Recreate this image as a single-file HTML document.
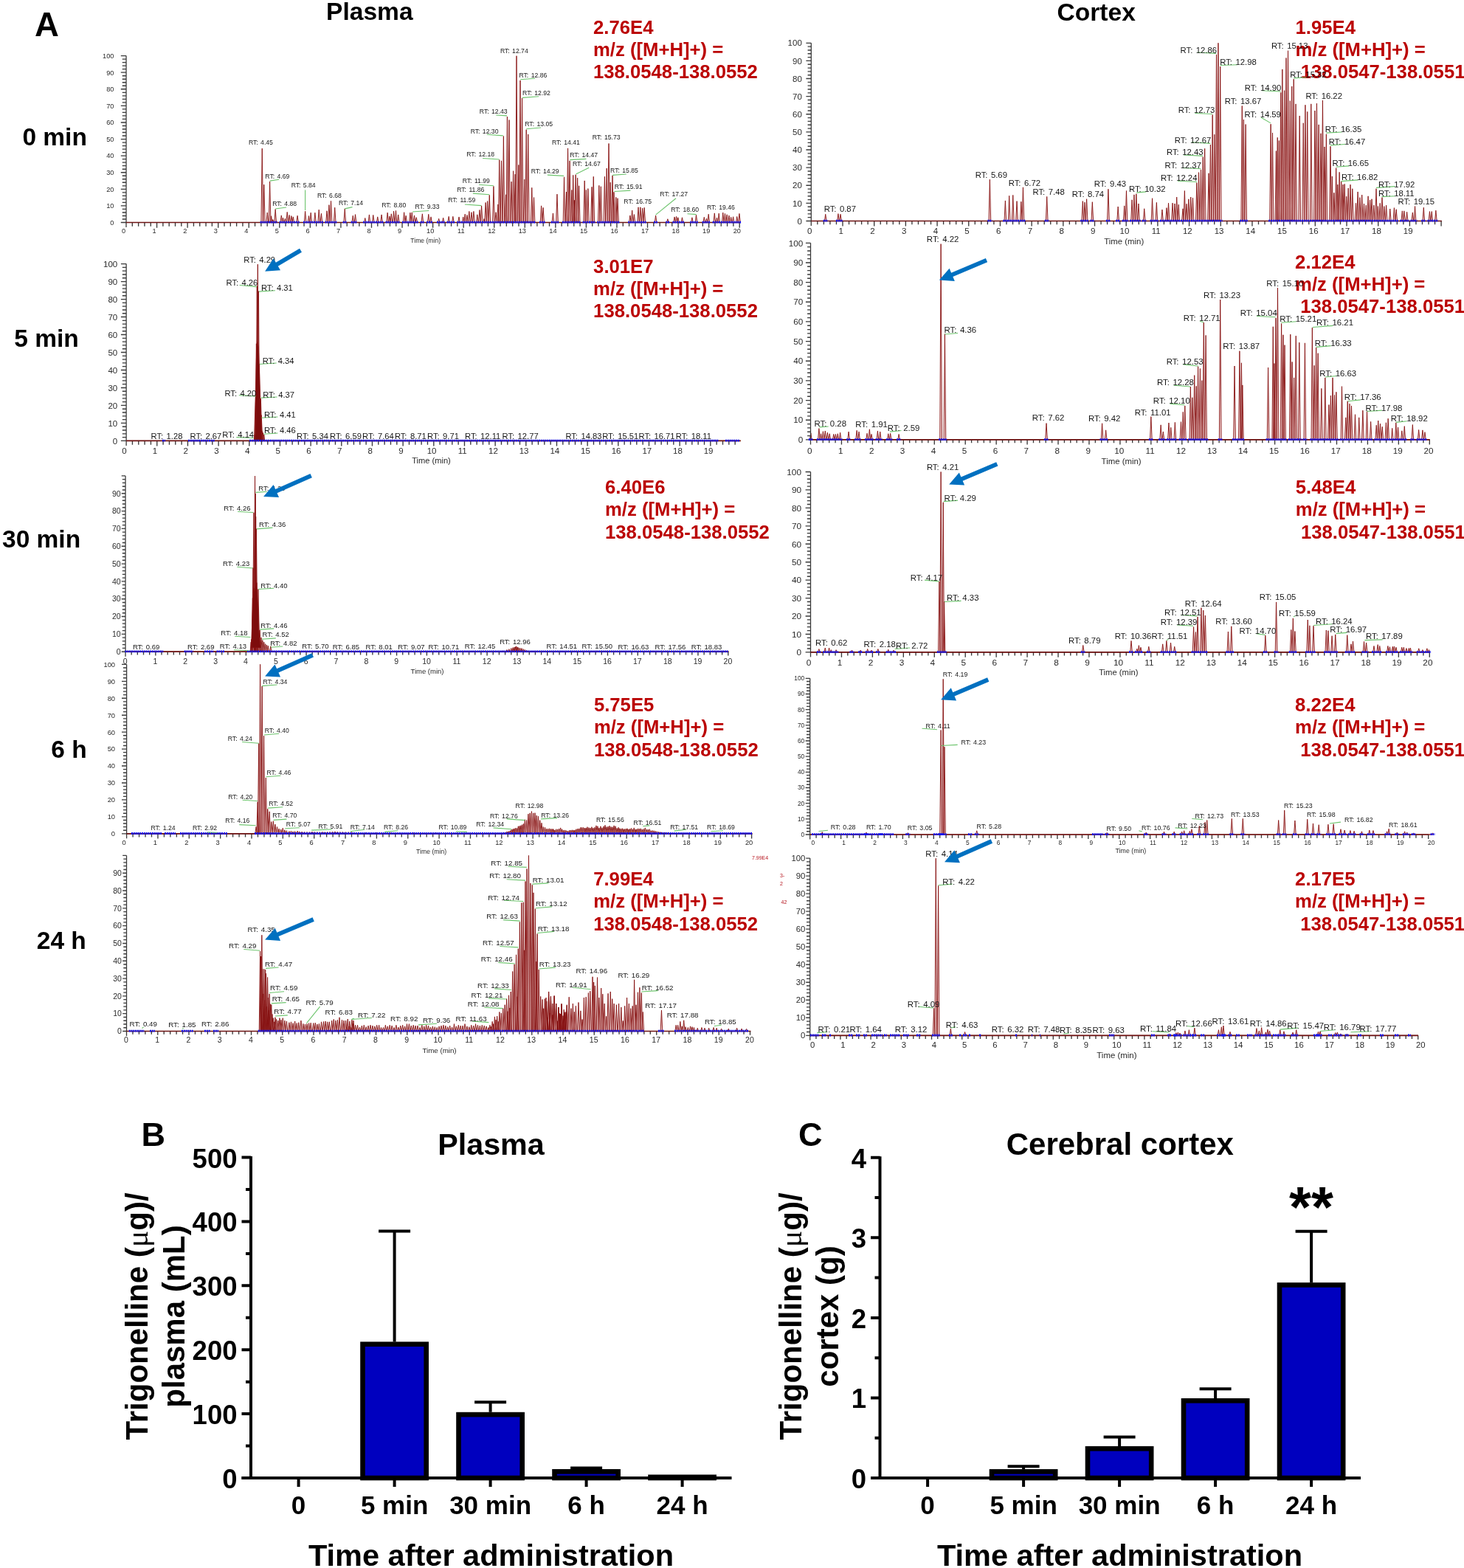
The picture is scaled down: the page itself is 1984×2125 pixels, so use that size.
<!DOCTYPE html><html><head><meta charset="utf-8"><title>Trigonelline chromatograms</title>
<style>html,body{margin:0;padding:0;background:#fff;}svg{display:block;}</style></head><body>
<svg xmlns="http://www.w3.org/2000/svg" width="1984" height="2125" viewBox="0 0 1984 2125">
<rect width="1984" height="2125" fill="#fff"/>
<g font-family="'Liberation Sans', Arial, sans-serif" font-weight="bold" fill="#000">
<text x="47" y="49.2" font-size="45.5">A</text>
<text x="442" y="27" font-size="33.6">Plasma</text>
<text x="1432.5" y="27.6" font-size="33.6">Cortex</text>
<text x="30.4" y="197.1" font-size="33.5">0 min</text>
<text x="19.2" y="469.6" font-size="33.5">5 min</text>
<text x="3" y="741.8" font-size="33.5">30 min</text>
<text x="69.2" y="1027.1" font-size="33.5">6 h</text>
<text x="49.8" y="1285.5" font-size="33.5">24 h</text>
</g>
<g font-family="'Liberation Sans', Arial, sans-serif" font-weight="bold" fill="#bb0303" font-size="25.7">
<text x="804" y="45.9">2.76E4</text>
<text x="804" y="76.1">m/z ([M+H]+) =</text>
<text x="804" y="106.3">138.0548-138.0552</text>
<text x="804.1" y="370">3.01E7</text>
<text x="804.1" y="400.2">m/z ([M+H]+) =</text>
<text x="804.1" y="430.4">138.0548-138.0552</text>
<text x="820" y="669.2">6.40E6</text>
<text x="820" y="699.4">m/z ([M+H]+) =</text>
<text x="820" y="729.6">138.0548-138.0552</text>
<text x="804.9" y="964.1">5.75E5</text>
<text x="804.9" y="994.3">m/z ([M+H]+) =</text>
<text x="804.9" y="1024.5">138.0548-138.0552</text>
<text x="804.2" y="1200.1">7.99E4</text>
<text x="804.2" y="1230.3">m/z ([M+H]+) =</text>
<text x="804.2" y="1260.5">138.0548-138.0552</text>
<text x="1755.5" y="45.6">1.95E4</text>
<text x="1755.5" y="75.8">m/z ([M+H]+) =</text>
<text x="1755.5" y="106"> 138.0547-138.0551</text>
<text x="1755.1" y="363.5">2.12E4</text>
<text x="1755.1" y="393.7">m/z ([M+H]+) =</text>
<text x="1755.1" y="423.9"> 138.0547-138.0551</text>
<text x="1755.8" y="669.2">5.48E4</text>
<text x="1755.8" y="699.4">m/z ([M+H]+) =</text>
<text x="1755.8" y="729.6"> 138.0547-138.0551</text>
<text x="1755.1" y="964.2">8.22E4</text>
<text x="1755.1" y="994.4">m/z ([M+H]+) =</text>
<text x="1755.1" y="1024.6"> 138.0547-138.0551</text>
<text x="1755.1" y="1200.2">2.17E5</text>
<text x="1755.1" y="1230.4">m/z ([M+H]+) =</text>
<text x="1755.1" y="1260.6"> 138.0547-138.0551</text>
</g>
<g font-family="'Liberation Sans', Arial, sans-serif" fill="#b5121b" font-size="7"><text x="1019" y="1164.5">7.99E4</text><text x="1057" y="1189">3-</text><text x="1057" y="1200">2</text><text x="1058.5" y="1225">42</text></g>
<path d="M171 301.5 L353.91 301.5 L355.26 201.16 L356.61 301.5 L356.43 301.5 L357.78 250.19 L359.13 301.5 L360.91 301.5 L362.26 288.02 L363.61 301.5 L364.27 301.5 L365.62 245.99 L366.97 301.5 L366.24 301.5 L367.59 292.78 L368.94 301.5 L368.48 301.5 L369.83 297.54 L371.18 301.5 L371.84 301.5 L373.19 283.53 L374.54 301.5 L379.94 301.5 L381.29 291.92 L382.64 301.5 L382.21 301.5 L383.56 295.15 L384.91 301.5 L385.12 301.5 L386.47 296.28 L387.82 301.5 L387.86 301.5 L389.21 287.39 L390.56 301.5 L390.77 301.5 L392.12 291.43 L393.47 301.5 L393.52 301.5 L394.87 292.56 L396.22 301.5 L395.95 301.5 L397.3 293.86 L398.65 301.5 L401.76 301.5 L403.11 292.24 L404.46 301.5 L412.27 301.5 L413.62 286.26 L414.97 301.5 L417.12 301.5 L418.47 292.56 L419.82 301.5 L419.87 301.5 L421.22 288.2 L422.57 301.5 L425.52 301.5 L426.88 288.2 L428.23 301.5 L430.86 301.5 L432.21 284.16 L433.56 301.5 L434.09 301.5 L435.44 289.33 L436.79 301.5 L441.69 301.5 L443.04 285.78 L444.39 301.5 L444.6 301.5 L445.95 277.69 L447.3 301.5 L447.18 301.5 L448.53 272.36 L449.88 301.5 L452.36 301.5 L453.71 281.25 L455.06 301.5 L465.93 301.5 L467.28 282.87 L468.63 301.5 L476.93 301.5 L478.28 292.24 L479.63 301.5 L480.16 301.5 L481.51 290.62 L482.86 301.5 L493.41 301.5 L494.76 295.47 L496.11 301.5 L499.07 301.5 L500.42 290.95 L501.77 301.5 L504.4 301.5 L505.75 291.43 L507.1 301.5 L510.38 301.5 L511.73 293.86 L513.08 301.5 L515.72 301.5 L517.07 290.95 L518.42 301.5 L523.8 301.5 L525.15 288.2 L526.5 301.5 L526.55 301.5 L527.9 293.05 L529.25 301.5 L528.97 301.5 L530.32 289.82 L531.67 301.5 L532.21 301.5 L533.56 286.1 L534.91 301.5 L535.12 301.5 L536.47 285.45 L537.82 301.5 L538.35 301.5 L539.7 290.95 L541.05 301.5 L546.27 301.5 L547.62 287.72 L548.97 301.5 L548.85 301.5 L550.2 292.24 L551.55 301.5 L554.51 301.5 L555.86 288.2 L557.21 301.5 L556.94 301.5 L558.29 287.88 L559.64 301.5 L560.17 301.5 L561.52 291.92 L562.87 301.5 L562.92 301.5 L564.27 294.67 L565.62 301.5 L571 301.5 L572.35 289.82 L573.7 301.5 L579.4 301.5 L580.75 290.3 L582.1 301.5 L582.64 301.5 L583.99 293.86 L585.34 301.5 L593.31 301.5 L594.66 296.28 L596.01 301.5 L599.28 301.5 L600.63 295.22 L601.98 301.5 L606.83 301.5 L608.18 293.33 L609.53 301.5 L612.49 301.5 L613.84 293.33 L615.19 301.5 L620.66 301.5 L622.01 293.96 L623.36 301.5 L626.32 301.5 L627.67 293.96 L629.02 301.5 L628.84 301.5 L630.19 290.19 L631.54 301.5 L631.61 301.5 L632.96 291.45 L634.31 301.5 L634.5 301.5 L635.85 286.42 L637.2 301.5 L637.64 301.5 L638.99 287.67 L640.34 301.5 L640.54 301.5 L641.89 286.42 L643.24 301.5 L645.44 301.5 L646.79 290.82 L648.14 301.5 L648.59 301.5 L649.94 284.53 L651.29 301.5 L651.23 301.5 L652.58 278.87 L653.93 301.5 L654.62 301.5 L655.97 296.48 L657.32 301.5 L656.76 301.5 L658.11 274.47 L659.46 301.5 L659.28 301.5 L660.63 272.58 L661.98 301.5 L661.92 301.5 L663.27 264.4 L664.62 301.5 L667.58 301.5 L668.93 252.45 L670.28 301.5 L670.73 301.5 L672.08 287.67 L673.43 301.5 L673.62 301.5 L674.97 276.98 L676.32 301.5 L675.38 301.5 L676.73 216.6 L678.08 301.5 L678.15 301.5 L679.5 217.86 L680.85 301.5 L681.04 301.5 L682.39 184.53 L683.74 301.5 L684.18 301.5 L685.53 263.77 L686.88 301.5 L686.07 301.5 L687.42 158.11 L688.77 301.5 L688.59 301.5 L689.94 162.52 L691.29 301.5 L691.73 301.5 L693.08 246.16 L694.43 301.5 L694.25 301.5 L695.6 231.7 L696.95 301.5 L696.76 301.5 L698.11 236.1 L699.46 301.5 L698.65 301.5 L700 75.72 L701.35 301.5 L701.54 301.5 L702.89 223.52 L704.24 301.5 L703.68 301.5 L705.03 109.06 L706.38 301.5 L706.2 301.5 L707.55 132.96 L708.9 301.5 L709.34 301.5 L710.69 243.02 L712.04 301.5 L711.86 301.5 L713.21 175.72 L714.56 301.5 L714.37 301.5 L715.72 182.01 L717.07 301.5 L719.4 301.5 L720.75 254.34 L722.1 301.5 L722.17 301.5 L723.52 267.55 L724.87 301.5 L732.23 301.5 L733.58 278.87 L734.93 301.5 L734.75 301.5 L736.1 281.38 L737.45 301.5 L748.08 301.5 L749.43 288.93 L750.78 301.5 L753.62 301.5 L754.97 263.14 L756.32 301.5 L763.18 301.5 L764.53 239.87 L765.88 301.5 L766.2 301.5 L767.55 260 L768.9 301.5 L768.21 301.5 L769.56 200.88 L770.91 301.5 L770.73 301.5 L772.08 217.86 L773.43 301.5 L773.49 301.5 L774.84 257.48 L776.19 301.5 L775.38 301.5 L776.73 237.36 L778.08 301.5 L777.01 301.5 L778.36 271.32 L779.71 301.5 L778.78 301.5 L780.13 236.73 L781.48 301.5 L781.29 301.5 L782.64 241.13 L783.99 301.5 L783.3 301.5 L784.65 251.82 L786 301.5 L790.85 301.5 L792.2 244.91 L793.55 301.5 L792.99 301.5 L794.34 257.48 L795.69 301.5 L795.51 301.5 L796.86 255.6 L798.21 301.5 L800.68 301.5 L802.03 253.32 L803.38 301.5 L802.92 301.5 L804.27 239.31 L805.62 301.5 L810.48 301.5 L811.83 251.36 L813.18 301.5 L813 301.5 L814.35 252.76 L815.7 301.5 L818.05 301.5 L819.4 239.31 L820.75 301.5 L820.85 301.5 L822.2 228.1 L823.55 301.5 L823.65 301.5 L825 194.48 L826.35 301.5 L825.89 301.5 L827.24 247.16 L828.59 301.5 L828.69 301.5 L830.04 237.91 L831.39 301.5 L830.65 301.5 L832 260.32 L833.35 301.5 L833.46 301.5 L834.81 267.33 L836.16 301.5 L835.7 301.5 L837.05 268.73 L838.4 301.5 L852.51 301.5 L853.86 291.98 L855.21 301.5 L855.31 301.5 L856.66 284.98 L858.01 301.5 L858.11 301.5 L859.46 290.58 L860.81 301.5 L863.71 301.5 L865.06 280.78 L866.41 301.5 L866.52 301.5 L867.87 280.78 L869.22 301.5 L869.32 301.5 L870.67 282.18 L872.02 301.5 L871.84 301.5 L873.19 281.34 L874.54 301.5 L887.25 301.5 L888.6 291.98 L889.95 301.5 L903.5 301.5 L904.85 296.75 L906.2 301.5 L912.74 301.5 L914.09 293.94 L915.44 301.5 L915.27 301.5 L916.62 293.38 L917.97 301.5 L917.51 301.5 L918.86 294.78 L920.21 301.5 L923.11 301.5 L924.46 294.78 L925.81 301.5 L936.56 301.5 L937.91 294.78 L939.26 301.5 L942.15 301.5 L943.5 291.31 L944.85 301.5 L952.93 301.5 L954.28 294.28 L955.63 301.5 L956.16 301.5 L957.51 296.16 L958.86 301.5 L958.85 301.5 L960.2 290.24 L961.55 301.5 L966.94 301.5 L968.29 288.89 L969.64 301.5 L970.17 301.5 L971.52 295.09 L972.87 301.5 L972.86 301.5 L974.21 289.16 L975.56 301.5 L978.41 301.5 L979.76 288.08 L981.11 301.5 L981.11 301.5 L982.46 289.43 L983.81 301.5 L983.8 301.5 L985.15 290.78 L986.5 301.5 L986.6 301.5 L987.95 292.12 L989.3 301.5 L989.3 301.5 L990.65 294.28 L992 301.5 L992.26 301.5 L993.61 293.74 L994.96 301.5 L997.38 301.5 L998.73 293.47 L1000.08 301.5 L1000.61 301.5 L1001.96 289.43 L1003.31 301.5 L1003.8 301.5" fill="#dfa4a4" fill-opacity="0.55" stroke="#861010" stroke-width="0.9" stroke-linejoin="miter" stroke-miterlimit="30"/>
<line x1="171" y1="75.6" x2="171" y2="308" stroke="#3a3a3a" stroke-width="1.3"/>
<path d="M163.8 301.5H171M165.7 296.98H171M165.7 292.46H171M165.7 287.95H171M165.7 283.43H171M163.8 278.91H171M165.7 274.39H171M165.7 269.87H171M165.7 265.36H171M165.7 260.84H171M163.8 256.32H171M165.7 251.8H171M165.7 247.28H171M165.7 242.77H171M165.7 238.25H171M163.8 233.73H171M165.7 229.21H171M165.7 224.69H171M165.7 220.18H171M165.7 215.66H171M163.8 211.14H171M165.7 206.62H171M165.7 202.1H171M165.7 197.59H171M165.7 193.07H171M163.8 188.55H171M165.7 184.03H171M165.7 179.51H171M165.7 175H171M165.7 170.48H171M163.8 165.96H171M165.7 161.44H171M165.7 156.92H171M165.7 152.41H171M165.7 147.89H171M163.8 143.37H171M165.7 138.85H171M165.7 134.33H171M165.7 129.82H171M165.7 125.3H171M163.8 120.78H171M165.7 116.26H171M165.7 111.74H171M165.7 107.23H171M165.7 102.71H171M163.8 98.19H171M165.7 93.67H171M165.7 89.15H171M165.7 84.64H171M165.7 80.12H171M163.8 75.6H171" stroke="#3a3a3a" stroke-width="1.35"/>
<path d="M179.31 301.5V306.8M187.62 301.5V306.8M195.94 301.5V306.8M204.25 301.5V306.8M212.56 301.5V308.7M220.87 301.5V306.8M229.18 301.5V306.8M237.5 301.5V306.8M245.81 301.5V306.8M254.12 301.5V308.7M262.43 301.5V306.8M270.74 301.5V306.8M279.06 301.5V306.8M287.37 301.5V306.8M295.68 301.5V308.7M303.99 301.5V306.8M312.3 301.5V306.8M320.62 301.5V306.8M328.93 301.5V306.8M337.24 301.5V308.7M345.55 301.5V306.8M353.86 301.5V306.8M362.18 301.5V306.8M370.49 301.5V306.8M378.8 301.5V308.7M387.11 301.5V306.8M395.42 301.5V306.8M403.74 301.5V306.8M412.05 301.5V306.8M420.36 301.5V308.7M428.67 301.5V306.8M436.98 301.5V306.8M445.3 301.5V306.8M453.61 301.5V306.8M461.92 301.5V308.7M470.23 301.5V306.8M478.54 301.5V306.8M486.86 301.5V306.8M495.17 301.5V306.8M503.48 301.5V308.7M511.79 301.5V306.8M520.1 301.5V306.8M528.42 301.5V306.8M536.73 301.5V306.8M545.04 301.5V308.7M553.35 301.5V306.8M561.66 301.5V306.8M569.98 301.5V306.8M578.29 301.5V306.8M586.6 301.5V308.7M594.91 301.5V306.8M603.22 301.5V306.8M611.54 301.5V306.8M619.85 301.5V306.8M628.16 301.5V308.7M636.47 301.5V306.8M644.78 301.5V306.8M653.1 301.5V306.8M661.41 301.5V306.8M669.72 301.5V308.7M678.03 301.5V306.8M686.34 301.5V306.8M694.66 301.5V306.8M702.97 301.5V306.8M711.28 301.5V308.7M719.59 301.5V306.8M727.9 301.5V306.8M736.22 301.5V306.8M744.53 301.5V306.8M752.84 301.5V308.7M761.15 301.5V306.8M769.46 301.5V306.8M777.78 301.5V306.8M786.09 301.5V306.8M794.4 301.5V308.7M802.71 301.5V306.8M811.02 301.5V306.8M819.34 301.5V306.8M827.65 301.5V306.8M835.96 301.5V308.7M844.27 301.5V306.8M852.58 301.5V306.8M860.9 301.5V306.8M869.21 301.5V306.8M877.52 301.5V308.7M885.83 301.5V306.8M894.14 301.5V306.8M902.46 301.5V306.8M910.77 301.5V306.8M919.08 301.5V308.7M927.39 301.5V306.8M935.7 301.5V306.8M944.02 301.5V306.8M952.33 301.5V306.8M960.64 301.5V308.7M968.95 301.5V306.8M977.26 301.5V306.8M985.58 301.5V306.8M993.89 301.5V306.8M1002.2 301.5V308.7" stroke="#3a3a3a" stroke-width="1.35"/>
<line x1="171" y1="301.5" x2="1003.8" y2="301.5" stroke="#6e1414" stroke-width="1.7"/>
<line x1="352.66" y1="301.2" x2="375.79" y2="301.2" stroke="#1414f0" stroke-width="2.8" stroke-dasharray="2 0.8"/>
<line x1="378.69" y1="301.2" x2="405.71" y2="301.2" stroke="#1414f0" stroke-width="2.8" stroke-dasharray="2 0.8"/>
<line x1="411.02" y1="301.2" x2="438.04" y2="301.2" stroke="#1414f0" stroke-width="2.8" stroke-dasharray="2 0.8"/>
<line x1="440.44" y1="301.2" x2="456.31" y2="301.2" stroke="#1414f0" stroke-width="2.8" stroke-dasharray="2 0.8"/>
<line x1="464.68" y1="301.2" x2="469.88" y2="301.2" stroke="#1414f0" stroke-width="2.8" stroke-dasharray="2 0.8"/>
<line x1="475.68" y1="301.2" x2="484.11" y2="301.2" stroke="#1414f0" stroke-width="2.8" stroke-dasharray="2 0.8"/>
<line x1="492.16" y1="301.2" x2="519.67" y2="301.2" stroke="#1414f0" stroke-width="2.8" stroke-dasharray="2 0.8"/>
<line x1="522.55" y1="301.2" x2="542.3" y2="301.2" stroke="#1414f0" stroke-width="2.8" stroke-dasharray="2 0.8"/>
<line x1="545.02" y1="301.2" x2="566.87" y2="301.2" stroke="#1414f0" stroke-width="2.8" stroke-dasharray="2 0.8"/>
<line x1="569.75" y1="301.2" x2="574.95" y2="301.2" stroke="#1414f0" stroke-width="2.8" stroke-dasharray="2 0.8"/>
<line x1="578.15" y1="301.2" x2="586.59" y2="301.2" stroke="#1414f0" stroke-width="2.8" stroke-dasharray="2 0.8"/>
<line x1="592.06" y1="301.2" x2="603.23" y2="301.2" stroke="#1414f0" stroke-width="2.8" stroke-dasharray="2 0.8"/>
<line x1="605.58" y1="301.2" x2="616.44" y2="301.2" stroke="#1414f0" stroke-width="2.8" stroke-dasharray="2 0.8"/>
<line x1="619.41" y1="301.2" x2="726.12" y2="301.2" stroke="#1414f0" stroke-width="2.8" stroke-dasharray="2 0.8"/>
<line x1="730.98" y1="301.2" x2="738.7" y2="301.2" stroke="#1414f0" stroke-width="2.8" stroke-dasharray="2 0.8"/>
<line x1="746.83" y1="301.2" x2="757.57" y2="301.2" stroke="#1414f0" stroke-width="2.8" stroke-dasharray="2 0.8"/>
<line x1="761.93" y1="301.2" x2="787.25" y2="301.2" stroke="#1414f0" stroke-width="2.8" stroke-dasharray="2 0.8"/>
<line x1="789.6" y1="301.2" x2="806.87" y2="301.2" stroke="#1414f0" stroke-width="2.8" stroke-dasharray="2 0.8"/>
<line x1="809.23" y1="301.2" x2="839.65" y2="301.2" stroke="#1414f0" stroke-width="2.8" stroke-dasharray="2 0.8"/>
<line x1="851.26" y1="301.2" x2="875.79" y2="301.2" stroke="#1414f0" stroke-width="2.8" stroke-dasharray="2 0.8"/>
<line x1="886" y1="301.2" x2="891.2" y2="301.2" stroke="#1414f0" stroke-width="2.8" stroke-dasharray="2 0.8"/>
<line x1="902.25" y1="301.2" x2="907.45" y2="301.2" stroke="#1414f0" stroke-width="2.8" stroke-dasharray="2 0.8"/>
<line x1="911.49" y1="301.2" x2="927.06" y2="301.2" stroke="#1414f0" stroke-width="2.8" stroke-dasharray="2 0.8"/>
<line x1="935.31" y1="301.2" x2="946.1" y2="301.2" stroke="#1414f0" stroke-width="2.8" stroke-dasharray="2 0.8"/>
<line x1="951.68" y1="301.2" x2="962.8" y2="301.2" stroke="#1414f0" stroke-width="2.8" stroke-dasharray="2 0.8"/>
<line x1="965.69" y1="301.2" x2="1004.56" y2="301.2" stroke="#1414f0" stroke-width="2.8" stroke-dasharray="2 0.8"/>
<g font-family="'Liberation Sans', Arial, sans-serif" font-size="9.2" fill="#2a2a2a"><text x="154.4" y="304.81" text-anchor="end">0</text><text x="154.4" y="282.22" text-anchor="end">10</text><text x="154.4" y="259.63" text-anchor="end">20</text><text x="154.4" y="237.04" text-anchor="end">30</text><text x="154.4" y="214.45" text-anchor="end">40</text><text x="154.4" y="191.86" text-anchor="end">50</text><text x="154.4" y="169.27" text-anchor="end">60</text><text x="154.4" y="146.68" text-anchor="end">70</text><text x="154.4" y="124.09" text-anchor="end">80</text><text x="154.4" y="101.5" text-anchor="end">90</text><text x="154.4" y="78.91" text-anchor="end">100</text><text x="167.6" y="316.4" text-anchor="middle">0</text><text x="209.16" y="316.4" text-anchor="middle">1</text><text x="250.72" y="316.4" text-anchor="middle">2</text><text x="292.28" y="316.4" text-anchor="middle">3</text><text x="333.84" y="316.4" text-anchor="middle">4</text><text x="375.4" y="316.4" text-anchor="middle">5</text><text x="416.96" y="316.4" text-anchor="middle">6</text><text x="458.52" y="316.4" text-anchor="middle">7</text><text x="500.08" y="316.4" text-anchor="middle">8</text><text x="541.64" y="316.4" text-anchor="middle">9</text><text x="583.2" y="316.4" text-anchor="middle">10</text><text x="624.76" y="316.4" text-anchor="middle">11</text><text x="666.32" y="316.4" text-anchor="middle">12</text><text x="707.88" y="316.4" text-anchor="middle">13</text><text x="749.44" y="316.4" text-anchor="middle">14</text><text x="791" y="316.4" text-anchor="middle">15</text><text x="832.56" y="316.4" text-anchor="middle">16</text><text x="874.12" y="316.4" text-anchor="middle">17</text><text x="915.68" y="316.4" text-anchor="middle">18</text><text x="957.24" y="316.4" text-anchor="middle">19</text><text x="998.8" y="316.4" text-anchor="middle">20</text></g>
<text x="576.7" y="328.8" text-anchor="middle" font-family="'Liberation Sans', Arial, sans-serif" font-size="8.6" fill="#2a2a2a">Time (min)</text>
<line x1="365.62" y1="245.15" x2="378.23" y2="243.19" stroke="#6cc46c" stroke-width="1.1"/>
<line x1="373.19" y1="282.97" x2="388.04" y2="281.01" stroke="#6cc46c" stroke-width="1.1"/>
<line x1="413.62" y1="257.49" x2="413.62" y2="284.97" stroke="#6cc46c" stroke-width="1.1"/>
<line x1="467.28" y1="282.87" x2="477.47" y2="280.6" stroke="#6cc46c" stroke-width="1.1"/>
<line x1="559.09" y1="287.07" x2="581.24" y2="285.45" stroke="#6cc46c" stroke-width="1.1"/>
<line x1="705.03" y1="107.8" x2="725.16" y2="106.29" stroke="#6cc46c" stroke-width="1.1"/>
<line x1="707.92" y1="132.33" x2="730.19" y2="130.69" stroke="#6cc46c" stroke-width="1.1"/>
<line x1="672.33" y1="155.97" x2="687.04" y2="156.86" stroke="#6cc46c" stroke-width="1.1"/>
<line x1="659.75" y1="182.26" x2="681.76" y2="183.9" stroke="#6cc46c" stroke-width="1.1"/>
<line x1="713.21" y1="174.72" x2="733.08" y2="172.96" stroke="#6cc46c" stroke-width="1.1"/>
<line x1="654.09" y1="214.47" x2="676.48" y2="215.97" stroke="#6cc46c" stroke-width="1.1"/>
<line x1="772.33" y1="216.6" x2="794.34" y2="215.35" stroke="#6cc46c" stroke-width="1.1"/>
<line x1="780.5" y1="236.1" x2="798.11" y2="227.3" stroke="#6cc46c" stroke-width="1.1"/>
<line x1="741.89" y1="237.11" x2="764.15" y2="238.36" stroke="#6cc46c" stroke-width="1.1"/>
<line x1="649.06" y1="250.19" x2="668.93" y2="251.82" stroke="#6cc46c" stroke-width="1.1"/>
<line x1="640.88" y1="262.14" x2="663.14" y2="263.77" stroke="#6cc46c" stroke-width="1.1"/>
<line x1="629.94" y1="276.98" x2="652.2" y2="278.62" stroke="#6cc46c" stroke-width="1.1"/>
<line x1="830.04" y1="237.35" x2="848.81" y2="235.95" stroke="#6cc46c" stroke-width="1.1"/>
<line x1="832.56" y1="259.48" x2="854.42" y2="258.08" stroke="#6cc46c" stroke-width="1.1"/>
<line x1="888.6" y1="291.14" x2="916.06" y2="268.73" stroke="#6cc46c" stroke-width="1.1"/>
<line x1="931.47" y1="289.74" x2="943.51" y2="290.58" stroke="#6cc46c" stroke-width="1.1"/>
<g font-family="'Liberation Sans', Arial, sans-serif" font-size="8.65" fill="#161616" word-spacing="1.04"><text x="336.92" y="196.12">RT: 4.45</text><text x="359.33" y="241.51">RT: 4.69</text><text x="369.14" y="278.77">RT: 4.88</text><text x="394.66" y="254.26">RT: 5.84</text><text x="429.9" y="267.67">RT: 6.68</text><text x="459" y="278.18">RT: 7.14</text><text x="517.19" y="280.93">RT: 8.80</text><text x="562.44" y="283.35">RT: 9.33</text><text x="607.22" y="274.46">RT: 11.59</text><text x="677.92" y="71.57">RT: 12.74</text><text x="703.46" y="104.65">RT: 12.86</text><text x="708.11" y="128.55">RT: 12.92</text><text x="649.87" y="153.71">RT: 12.43</text><text x="637.67" y="180.5">RT: 12.30</text><text x="711.26" y="170.69">RT: 13.05</text><text x="632.26" y="212.2">RT: 12.18</text><text x="747.99" y="195.85">RT: 14.41</text><text x="772.26" y="212.83">RT: 14.47</text><text x="776.04" y="224.78">RT: 14.67</text><text x="719.81" y="234.84">RT: 14.29</text><text x="626.73" y="248.05">RT: 11.99</text><text x="619.18" y="260">RT: 11.86</text><text x="802.73" y="189.44">RT: 15.73</text><text x="827.11" y="233.71">RT: 15.85</text><text x="832.71" y="255.56">RT: 15.91</text><text x="845.32" y="275.73">RT: 16.75</text><text x="894.35" y="266.49">RT: 17.27</text><text x="909.2" y="286.94">RT: 18.60</text><text x="957.95" y="284.14">RT: 19.46</text></g>
<path d="M171.1 597.4 L344.16 597.4 L345.16 588.99 L346.16 597.4 L344.42 597.4 L346.42 536.16 L348.42 597.4 L345.62 597.4 L347.42 465.72 L349.22 597.4 L347 597.4 L348.3 387.74 L349.6 597.4 L348.31 597.4 L349.31 358.18 L350.31 597.4 L349.14 597.4 L350.44 394.65 L351.74 597.4 L349.65 597.4 L351.45 493.4 L353.25 597.4 L351.53 597.4 L353.33 539.94 L355.13 597.4 L352.71 597.4 L354.21 562.58 L355.71 597.4 L354.02 597.4 L355.22 583.96 L356.42 597.4 L355.48 597.4 L356.48 586.48 L357.48 597.4 L356.74 597.4 L357.74 588.99 L358.74 597.4 L1003.8 597.4" fill="#dfa4a4" fill-opacity="0.55" stroke="#861010" stroke-width="0.9" stroke-linejoin="miter" stroke-miterlimit="30"/>
<path d="M345.79 596.54 L346.16 563.84 L346.67 532.39 L347.17 500.94 L347.67 475.79 L348.68 463.21 L350.19 469.5 L351.19 494.65 L352.2 526.1 L353.21 551.26 L353.96 576.42 L354.59 596.54 Z" fill="#7d0c0c" stroke="#8a1010" stroke-width="0.8" stroke-linejoin="miter" stroke-miterlimit="30"/>
<line x1="171.1" y1="357.6" x2="171.1" y2="603.9" stroke="#3a3a3a" stroke-width="1.3"/>
<path d="M163.9 597.4H171.1M165.8 592.6H171.1M165.8 587.81H171.1M165.8 583.01H171.1M165.8 578.22H171.1M163.9 573.42H171.1M165.8 568.62H171.1M165.8 563.83H171.1M165.8 559.03H171.1M165.8 554.24H171.1M163.9 549.44H171.1M165.8 544.64H171.1M165.8 539.85H171.1M165.8 535.05H171.1M165.8 530.26H171.1M163.9 525.46H171.1M165.8 520.66H171.1M165.8 515.87H171.1M165.8 511.07H171.1M165.8 506.28H171.1M163.9 501.48H171.1M165.8 496.68H171.1M165.8 491.89H171.1M165.8 487.09H171.1M165.8 482.3H171.1M163.9 477.5H171.1M165.8 472.7H171.1M165.8 467.91H171.1M165.8 463.11H171.1M165.8 458.32H171.1M163.9 453.52H171.1M165.8 448.72H171.1M165.8 443.93H171.1M165.8 439.13H171.1M165.8 434.34H171.1M163.9 429.54H171.1M165.8 424.74H171.1M165.8 419.95H171.1M165.8 415.15H171.1M165.8 410.36H171.1M163.9 405.56H171.1M165.8 400.76H171.1M165.8 395.97H171.1M165.8 391.17H171.1M165.8 386.38H171.1M163.9 381.58H171.1M165.8 376.78H171.1M165.8 371.99H171.1M165.8 367.19H171.1M165.8 362.4H171.1M163.9 357.6H171.1" stroke="#3a3a3a" stroke-width="1.35"/>
<path d="M179.43 597.4V602.7M187.77 597.4V602.7M196.1 597.4V602.7M204.44 597.4V602.7M212.77 597.4V604.6M221.1 597.4V602.7M229.44 597.4V602.7M237.77 597.4V602.7M246.11 597.4V602.7M254.44 597.4V604.6M262.77 597.4V602.7M271.11 597.4V602.7M279.44 597.4V602.7M287.78 597.4V602.7M296.11 597.4V604.6M304.44 597.4V602.7M312.78 597.4V602.7M321.11 597.4V602.7M329.45 597.4V602.7M337.78 597.4V604.6M346.11 597.4V602.7M354.45 597.4V602.7M362.78 597.4V602.7M371.12 597.4V602.7M379.45 597.4V604.6M387.78 597.4V602.7M396.12 597.4V602.7M404.45 597.4V602.7M412.79 597.4V602.7M421.12 597.4V604.6M429.45 597.4V602.7M437.79 597.4V602.7M446.12 597.4V602.7M454.46 597.4V602.7M462.79 597.4V604.6M471.12 597.4V602.7M479.46 597.4V602.7M487.79 597.4V602.7M496.13 597.4V602.7M504.46 597.4V604.6M512.79 597.4V602.7M521.13 597.4V602.7M529.46 597.4V602.7M537.8 597.4V602.7M546.13 597.4V604.6M554.46 597.4V602.7M562.8 597.4V602.7M571.13 597.4V602.7M579.47 597.4V602.7M587.8 597.4V604.6M596.13 597.4V602.7M604.47 597.4V602.7M612.8 597.4V602.7M621.14 597.4V602.7M629.47 597.4V604.6M637.8 597.4V602.7M646.14 597.4V602.7M654.47 597.4V602.7M662.81 597.4V602.7M671.14 597.4V604.6M679.47 597.4V602.7M687.81 597.4V602.7M696.14 597.4V602.7M704.48 597.4V602.7M712.81 597.4V604.6M721.14 597.4V602.7M729.48 597.4V602.7M737.81 597.4V602.7M746.15 597.4V602.7M754.48 597.4V604.6M762.81 597.4V602.7M771.15 597.4V602.7M779.48 597.4V602.7M787.82 597.4V602.7M796.15 597.4V604.6M804.48 597.4V602.7M812.82 597.4V602.7M821.15 597.4V602.7M829.49 597.4V602.7M837.82 597.4V604.6M846.15 597.4V602.7M854.49 597.4V602.7M862.82 597.4V602.7M871.16 597.4V602.7M879.49 597.4V604.6M887.82 597.4V602.7M896.16 597.4V602.7M904.49 597.4V602.7M912.83 597.4V602.7M921.16 597.4V604.6M929.49 597.4V602.7M937.83 597.4V602.7M946.16 597.4V602.7M954.5 597.4V602.7M962.83 597.4V604.6M971.16 597.4V602.7M979.5 597.4V602.7M987.83 597.4V602.7M996.17 597.4V602.7" stroke="#3a3a3a" stroke-width="1.35"/>
<line x1="171.1" y1="597.4" x2="1003.8" y2="597.4" stroke="#6e1414" stroke-width="1.7"/>
<line x1="220" y1="597.1" x2="224" y2="597.1" stroke="#1414f0" stroke-width="2.8" stroke-dasharray="2 0.8"/>
<line x1="255" y1="597.1" x2="291" y2="597.1" stroke="#1414f0" stroke-width="2.8" stroke-dasharray="2 0.8"/>
<line x1="338" y1="597.1" x2="974" y2="597.1" stroke="#1414f0" stroke-width="2.8" stroke-dasharray="2 0.8"/>
<line x1="983" y1="597.1" x2="1002" y2="597.1" stroke="#1414f0" stroke-width="2.8" stroke-dasharray="2 0.8"/>
<g font-family="'Liberation Sans', Arial, sans-serif" font-size="11.5" fill="#2a2a2a"><text x="159.2" y="601.54" text-anchor="end">0</text><text x="159.2" y="577.56" text-anchor="end">10</text><text x="159.2" y="553.58" text-anchor="end">20</text><text x="159.2" y="529.6" text-anchor="end">30</text><text x="159.2" y="505.62" text-anchor="end">40</text><text x="159.2" y="481.64" text-anchor="end">50</text><text x="159.2" y="457.66" text-anchor="end">60</text><text x="159.2" y="433.68" text-anchor="end">70</text><text x="159.2" y="409.7" text-anchor="end">80</text><text x="159.2" y="385.72" text-anchor="end">90</text><text x="159.2" y="361.74" text-anchor="end">100</text><text x="168.4" y="615" text-anchor="middle">0</text><text x="210.07" y="615" text-anchor="middle">1</text><text x="251.74" y="615" text-anchor="middle">2</text><text x="293.41" y="615" text-anchor="middle">3</text><text x="335.08" y="615" text-anchor="middle">4</text><text x="376.75" y="615" text-anchor="middle">5</text><text x="418.42" y="615" text-anchor="middle">6</text><text x="460.09" y="615" text-anchor="middle">7</text><text x="501.76" y="615" text-anchor="middle">8</text><text x="543.43" y="615" text-anchor="middle">9</text><text x="585.1" y="615" text-anchor="middle">10</text><text x="626.77" y="615" text-anchor="middle">11</text><text x="668.44" y="615" text-anchor="middle">12</text><text x="710.11" y="615" text-anchor="middle">13</text><text x="751.78" y="615" text-anchor="middle">14</text><text x="793.45" y="615" text-anchor="middle">15</text><text x="835.12" y="615" text-anchor="middle">16</text><text x="876.79" y="615" text-anchor="middle">17</text><text x="918.46" y="615" text-anchor="middle">18</text><text x="960.13" y="615" text-anchor="middle">19</text></g>
<text x="584.5" y="627.5" text-anchor="middle" font-family="'Liberation Sans', Arial, sans-serif" font-size="11.1" fill="#2a2a2a">Time (min)</text>
<line x1="324.66" y1="386.55" x2="347.93" y2="388.62" stroke="#6cc46c" stroke-width="1.1"/>
<line x1="351.03" y1="395.17" x2="372.93" y2="393.79" stroke="#6cc46c" stroke-width="1.1"/>
<line x1="351.72" y1="493.45" x2="374.66" y2="492.07" stroke="#6cc46c" stroke-width="1.1"/>
<line x1="323.79" y1="535.69" x2="346.55" y2="536.9" stroke="#6cc46c" stroke-width="1.1"/>
<line x1="353.97" y1="539.14" x2="375.52" y2="537.93" stroke="#6cc46c" stroke-width="1.1"/>
<line x1="354.48" y1="566.21" x2="376.38" y2="565" stroke="#6cc46c" stroke-width="1.1"/>
<line x1="357.41" y1="588.28" x2="376.38" y2="587.07" stroke="#6cc46c" stroke-width="1.1"/>
<line x1="320.34" y1="592.59" x2="343.62" y2="593.45" stroke="#6cc46c" stroke-width="1.1"/>
<g font-family="'Liberation Sans', Arial, sans-serif" font-size="11.2" fill="#161616" word-spacing="1.34"><text x="330.31" y="356.38">RT: 4.29</text><text x="306.52" y="387.41">RT: 4.26</text><text x="353.93" y="394.31">RT: 4.31</text><text x="355.66" y="493.1">RT: 4.34</text><text x="304.45" y="536.55">RT: 4.20</text><text x="356.17" y="539.14">RT: 4.37</text><text x="357.9" y="565.52">RT: 4.41</text><text x="357.9" y="587.41">RT: 4.46</text><text x="204.6" y="594.8">RT: 1.28</text><text x="257.5" y="594.8">RT: 2.67</text><text x="301.3" y="593.4">RT: 4.14</text><text x="402.1" y="594.8">RT: 5.34</text><text x="447.1" y="594.8">RT: 6.59</text><text x="491" y="594.8">RT: 7.64</text><text x="534.9" y="594.8">RT: 8.71</text><text x="579.1" y="594.8">RT: 9.71</text><text x="630.1" y="594.8">RT: 12.11</text><text x="680.6" y="594.8">RT: 12.77</text><text x="766.4" y="594.8">RT: 14.83</text><text x="816.2" y="594.8">RT: 15.51</text><text x="865.5" y="594.8">RT: 16.71</text><text x="915.8" y="594.8">RT: 18.11</text></g>
<path d="M406.03 336.8 L373.85 355.68 L370.61 350.16 L359.1 367.7 L380.02 366.21 L376.78 360.69 L408.97 341.8 Z" fill="#0070c0"/>
<path d="M170 883.2 L339.13 883.2 L340.13 870.19 L341.13 883.2 L339.55 883.2 L340.75 866.42 L341.95 883.2 L340.89 883.2 L342.39 810.44 L343.89 883.2 L341.22 883.2 L343.02 769.56 L344.82 883.2 L342.4 883.2 L343.9 694.72 L345.4 883.2 L344.53 883.2 L345.53 645.03 L346.53 883.2 L344.96 883.2 L346.16 668.93 L347.36 883.2 L345.17 883.2 L346.67 700.13 L348.17 883.2 L345.82 883.2 L347.42 716.73 L349.02 883.2 L346.32 883.2 L347.92 789.69 L349.52 883.2 L348.14 883.2 L349.94 798.49 L351.74 883.2 L350.58 883.2 L352.08 853.84 L353.58 883.2 L352.66 883.2 L353.96 863.9 L355.26 883.2 L354.65 883.2 L355.85 867.67 L357.05 883.2 L356.54 883.2 L357.74 870.19 L358.94 883.2 L358.42 883.2 L359.62 872.7 L360.82 883.2 L360.31 883.2 L361.51 873.96 L362.71 883.2 L362.2 883.2 L363.4 875.22 L364.6 883.2 L365.59 883.2 L366.79 875.85 L367.99 883.2 L680.31 883.2 L681.31 882.23 L682.31 883.2 L686.03 883.2 L687.03 880.52 L688.03 883.2 L688.88 883.2 L689.88 879.66 L690.88 883.2 L691.74 883.2 L692.74 878.52 L693.74 883.2 L694.02 883.2 L695.02 877.66 L696.02 883.2 L696.02 883.2 L697.02 877.09 L698.02 883.2 L697.45 883.2 L698.45 876.52 L699.45 883.2 L698.88 883.2 L699.88 875.95 L700.88 883.2 L700.3 883.2 L701.3 877.09 L702.3 883.2 L701.73 883.2 L702.73 877.66 L703.73 883.2 L703.73 883.2 L704.73 878.23 L705.73 883.2 L706.02 883.2 L707.02 878.52 L708.02 883.2 L708.3 883.2 L709.3 879.66 L710.3 883.2 L710.3 883.2 L711.3 880.52 L712.3 883.2 L712.3 883.2 L713.3 881.37 L714.3 883.2 L714.58 883.2 L715.58 882.23 L716.58 883.2 L987.5 883.2" fill="#dfa4a4" fill-opacity="0.55" stroke="#861010" stroke-width="0.9" stroke-linejoin="miter" stroke-miterlimit="30"/>
<path d="M340.75 877.74 L341.38 853.84 L342.39 828.68 L343.27 809.81 L344.53 797.23 L345.16 801.01 L346.42 790.94 L347.92 797.23 L349.18 816.1 L350.19 828.68 L350.82 853.84 L352.08 866.42 L353.33 877.74 Z" fill="#7d0c0c" stroke="#8a1010" stroke-width="0.8" stroke-linejoin="miter" stroke-miterlimit="30"/>
<line x1="170" y1="644.9" x2="170" y2="889.7" stroke="#3a3a3a" stroke-width="1.3"/>
<path d="M164.7 883.2H170M165.8 878.43H170M165.8 873.67H170M165.8 868.9H170M165.8 864.14H170M164.7 859.37H170M165.8 854.6H170M165.8 849.84H170M165.8 845.07H170M165.8 840.31H170M164.7 835.54H170M165.8 830.77H170M165.8 826.01H170M165.8 821.24H170M165.8 816.48H170M164.7 811.71H170M165.8 806.94H170M165.8 802.18H170M165.8 797.41H170M165.8 792.65H170M164.7 787.88H170M165.8 783.11H170M165.8 778.35H170M165.8 773.58H170M165.8 768.82H170M164.7 764.05H170M165.8 759.28H170M165.8 754.52H170M165.8 749.75H170M165.8 744.99H170M164.7 740.22H170M165.8 735.45H170M165.8 730.69H170M165.8 725.92H170M165.8 721.16H170M164.7 716.39H170M165.8 711.62H170M165.8 706.86H170M165.8 702.09H170M165.8 697.33H170M164.7 692.56H170M165.8 687.79H170M165.8 683.03H170M165.8 678.26H170M165.8 673.5H170M164.7 668.73H170M165.8 663.96H170M165.8 659.2H170M165.8 654.43H170M165.8 649.67H170M164.7 644.9H170" stroke="#3a3a3a" stroke-width="1.35"/>
<path d="M178.17 883.2V887.4M186.34 883.2V887.4M194.5 883.2V887.4M202.67 883.2V887.4M210.84 883.2V888.5M219.01 883.2V887.4M227.18 883.2V887.4M235.34 883.2V887.4M243.51 883.2V887.4M251.68 883.2V888.5M259.85 883.2V887.4M268.02 883.2V887.4M276.18 883.2V887.4M284.35 883.2V887.4M292.52 883.2V888.5M300.69 883.2V887.4M308.86 883.2V887.4M317.02 883.2V887.4M325.19 883.2V887.4M333.36 883.2V888.5M341.53 883.2V887.4M349.7 883.2V887.4M357.86 883.2V887.4M366.03 883.2V887.4M374.2 883.2V888.5M382.37 883.2V887.4M390.54 883.2V887.4M398.7 883.2V887.4M406.87 883.2V887.4M415.04 883.2V888.5M423.21 883.2V887.4M431.38 883.2V887.4M439.54 883.2V887.4M447.71 883.2V887.4M455.88 883.2V888.5M464.05 883.2V887.4M472.22 883.2V887.4M480.38 883.2V887.4M488.55 883.2V887.4M496.72 883.2V888.5M504.89 883.2V887.4M513.06 883.2V887.4M521.22 883.2V887.4M529.39 883.2V887.4M537.56 883.2V888.5M545.73 883.2V887.4M553.9 883.2V887.4M562.06 883.2V887.4M570.23 883.2V887.4M578.4 883.2V888.5M586.57 883.2V887.4M594.74 883.2V887.4M602.9 883.2V887.4M611.07 883.2V887.4M619.24 883.2V888.5M627.41 883.2V887.4M635.58 883.2V887.4M643.74 883.2V887.4M651.91 883.2V887.4M660.08 883.2V888.5M668.25 883.2V887.4M676.42 883.2V887.4M684.58 883.2V887.4M692.75 883.2V887.4M700.92 883.2V888.5M709.09 883.2V887.4M717.26 883.2V887.4M725.42 883.2V887.4M733.59 883.2V887.4M741.76 883.2V888.5M749.93 883.2V887.4M758.1 883.2V887.4M766.26 883.2V887.4M774.43 883.2V887.4M782.6 883.2V888.5M790.77 883.2V887.4M798.94 883.2V887.4M807.1 883.2V887.4M815.27 883.2V887.4M823.44 883.2V888.5M831.61 883.2V887.4M839.78 883.2V887.4M847.94 883.2V887.4M856.11 883.2V887.4M864.28 883.2V888.5M872.45 883.2V887.4M880.62 883.2V887.4M888.78 883.2V887.4M896.95 883.2V887.4M905.12 883.2V888.5M913.29 883.2V887.4M921.46 883.2V887.4M929.62 883.2V887.4M937.79 883.2V887.4M945.96 883.2V888.5M954.13 883.2V887.4M962.3 883.2V887.4M970.46 883.2V887.4M978.63 883.2V887.4M986.8 883.2V888.5" stroke="#3a3a3a" stroke-width="1.35"/>
<line x1="170" y1="883.2" x2="987.5" y2="883.2" stroke="#6e1414" stroke-width="1.7"/>
<line x1="169.5" y1="882.9" x2="221.2" y2="882.9" stroke="#1414f0" stroke-width="2.8" stroke-dasharray="2 0.8"/>
<line x1="249.7" y1="882.9" x2="261.7" y2="882.9" stroke="#1414f0" stroke-width="2.8" stroke-dasharray="2 0.8"/>
<line x1="277.2" y1="882.9" x2="289.3" y2="882.9" stroke="#1414f0" stroke-width="2.8" stroke-dasharray="2 0.8"/>
<line x1="293.6" y1="882.9" x2="304.8" y2="882.9" stroke="#1414f0" stroke-width="2.8" stroke-dasharray="2 0.8"/>
<line x1="335" y1="882.9" x2="987" y2="882.9" stroke="#1414f0" stroke-width="2.8" stroke-dasharray="2 0.8"/>
<g font-family="'Liberation Sans', Arial, sans-serif" font-size="10.5" fill="#2a2a2a"><text x="163.7" y="886.98" text-anchor="end">0</text><text x="163.7" y="863.15" text-anchor="end">10</text><text x="163.7" y="839.32" text-anchor="end">20</text><text x="163.7" y="815.49" text-anchor="end">30</text><text x="163.7" y="791.66" text-anchor="end">40</text><text x="163.7" y="767.83" text-anchor="end">50</text><text x="163.7" y="744" text-anchor="end">60</text><text x="163.7" y="720.17" text-anchor="end">70</text><text x="163.7" y="696.34" text-anchor="end">80</text><text x="163.7" y="672.51" text-anchor="end">90</text><text x="169.6" y="899.7" text-anchor="middle">0</text><text x="210.44" y="899.7" text-anchor="middle">1</text><text x="251.28" y="899.7" text-anchor="middle">2</text><text x="292.12" y="899.7" text-anchor="middle">3</text><text x="332.96" y="899.7" text-anchor="middle">4</text><text x="373.8" y="899.7" text-anchor="middle">5</text><text x="414.64" y="899.7" text-anchor="middle">6</text><text x="455.48" y="899.7" text-anchor="middle">7</text><text x="496.32" y="899.7" text-anchor="middle">8</text><text x="537.16" y="899.7" text-anchor="middle">9</text><text x="578" y="899.7" text-anchor="middle">10</text><text x="618.84" y="899.7" text-anchor="middle">11</text><text x="659.68" y="899.7" text-anchor="middle">12</text><text x="700.52" y="899.7" text-anchor="middle">13</text><text x="741.36" y="899.7" text-anchor="middle">14</text><text x="782.2" y="899.7" text-anchor="middle">15</text><text x="823.04" y="899.7" text-anchor="middle">16</text><text x="863.88" y="899.7" text-anchor="middle">17</text><text x="904.72" y="899.7" text-anchor="middle">18</text><text x="945.56" y="899.7" text-anchor="middle">19</text><text x="986.4" y="899.7" text-anchor="middle">20</text></g>
<text x="579" y="912.9" text-anchor="middle" font-family="'Liberation Sans', Arial, sans-serif" font-size="9.5" fill="#2a2a2a">Time (min)</text>
<line x1="346.55" y1="667.41" x2="361.72" y2="666.21" stroke="#6cc46c" stroke-width="1.1"/>
<line x1="322.07" y1="693.28" x2="343.1" y2="694.48" stroke="#6cc46c" stroke-width="1.1"/>
<line x1="347.93" y1="716.9" x2="369.48" y2="715.17" stroke="#6cc46c" stroke-width="1.1"/>
<line x1="321.21" y1="768.28" x2="342.41" y2="770" stroke="#6cc46c" stroke-width="1.1"/>
<line x1="350.17" y1="798.45" x2="371.21" y2="797.24" stroke="#6cc46c" stroke-width="1.1"/>
<line x1="352.24" y1="853.1" x2="371.21" y2="851.9" stroke="#6cc46c" stroke-width="1.1"/>
<line x1="318.28" y1="862.24" x2="339.31" y2="863.45" stroke="#6cc46c" stroke-width="1.1"/>
<line x1="354.83" y1="866.21" x2="373.79" y2="864.83" stroke="#6cc46c" stroke-width="1.1"/>
<line x1="366.9" y1="877.24" x2="383.28" y2="876.03" stroke="#6cc46c" stroke-width="1.1"/>
<line x1="316.9" y1="880.69" x2="337.59" y2="881.72" stroke="#6cc46c" stroke-width="1.1"/>
<g font-family="'Liberation Sans', Arial, sans-serif" font-size="9.5" fill="#161616" word-spacing="1.14"><text x="350.27" y="665.17">RT: 4.29</text><text x="303.21" y="692.41">RT: 4.26</text><text x="350.96" y="714.48">RT: 4.36</text><text x="302" y="767.41">RT: 4.23</text><text x="353.21" y="796.72">RT: 4.40</text><text x="353.21" y="851.03">RT: 4.46</text><text x="299.24" y="861.38">RT: 4.18</text><text x="355.45" y="863.45">RT: 4.52</text><text x="366.14" y="874.83">RT: 4.82</text><text x="179.93" y="880">RT: 0.69</text><text x="254.07" y="880">RT: 2.69</text><text x="297.69" y="879.48">RT: 4.13</text><text x="409.24" y="879.48">RT: 5.70</text><text x="450.68" y="879.95">RT: 6.85</text><text x="495.51" y="879.95">RT: 8.01</text><text x="539.2" y="879.95">RT: 9.07</text><text x="580.61" y="879.95">RT: 10.71</text><text x="629.72" y="878.52">RT: 12.45</text><text x="677.13" y="872.81">RT: 12.96</text><text x="740.52" y="879.09">RT: 14.51</text><text x="788.5" y="879.09">RT: 15.50</text><text x="837.61" y="879.95">RT: 16.63</text><text x="887.59" y="879.95">RT: 17.56</text><text x="936.7" y="879.95">RT: 18.83</text></g>
<path d="M420.53 642.05 L373.14 662.88 L370.57 657.02 L357.1 673.1 L378.05 674.05 L375.48 668.19 L422.87 647.35 Z" fill="#0070c0"/>
<path d="M171.6 1129.8 L345.72 1129.8 L347.07 1120.52 L348.42 1129.8 L347.79 1129.8 L349.14 1086.9 L350.49 1129.8 L349.34 1129.8 L350.69 1007.59 L352.04 1129.8 L351.24 1129.8 L352.59 900.34 L353.94 1129.8 L353.82 1129.8 L355.17 930 L356.52 1129.8 L356.24 1129.8 L357.59 997.24 L358.94 1129.8 L358.99 1129.8 L360.34 1054.14 L361.69 1129.8 L361.41 1129.8 L362.76 1096.38 L364.11 1129.8 L363.82 1129.8 L365.17 1099.83 L366.52 1129.8 L366.41 1129.8 L367.76 1113.62 L369.11 1129.8 L368.99 1129.8 L370.34 1112.76 L371.69 1129.8 L371.58 1129.8 L372.93 1117.07 L374.28 1129.8 L374.17 1129.8 L375.52 1120.52 L376.87 1129.8 L376.75 1129.8 L378.1 1123.1 L379.45 1129.8 L379.34 1129.8 L380.69 1123.97 L382.04 1129.8 L381.93 1129.8 L383.28 1122.24 L384.63 1129.8 L384.51 1129.8 L385.86 1124.83 L387.21 1129.8 L387.1 1129.8 L388.45 1125.69 L389.8 1129.8 L390.55 1129.8 L391.9 1126.55 L393.25 1129.8 L393.13 1129.8 L394.48 1126.21 L395.83 1129.8 L395.72 1129.8 L397.07 1126.9 L398.42 1129.8 L398.31 1129.8 L399.66 1126.55 L401.01 1129.8 L401.75 1129.8 L403.1 1126.21 L404.45 1129.8 L404.34 1129.8 L405.69 1126.9 L407.04 1129.8 L407.79 1129.8 L409.14 1127.07 L410.49 1129.8 L411.24 1129.8 L412.59 1127.41 L413.94 1129.8 L414.68 1129.8 L416.03 1127.41 L417.38 1129.8 L418.13 1129.8 L419.48 1127.59 L420.83 1129.8 L421.58 1129.8 L422.93 1127.07 L424.28 1129.8 L425.03 1129.8 L426.38 1127.41 L427.73 1129.8 L428.48 1129.8 L429.83 1127.41 L431.18 1129.8 L431.93 1129.8 L433.28 1127.59 L434.63 1129.8 L435.37 1129.8 L436.72 1127.24 L438.07 1129.8 L438.82 1129.8 L440.17 1127.59 L441.52 1129.8 L442.27 1129.8 L443.62 1127.41 L444.97 1129.8 L445.72 1129.8 L447.07 1127.24 L448.42 1129.8 L449.17 1129.8 L450.52 1127.07 L451.87 1129.8 L452.62 1129.8 L453.97 1126.9 L455.32 1129.8 L456.06 1129.8 L457.41 1127.24 L458.76 1129.8 L459.51 1129.8 L460.86 1127.41 L462.21 1129.8 L462.96 1129.8 L464.31 1127.41 L465.66 1129.8 L467.27 1129.8 L468.62 1127.59 L469.97 1129.8 L470.72 1129.8 L472.07 1127.59 L473.42 1129.8 L475.03 1129.8 L476.38 1127.59 L477.73 1129.8 L478.65 1129.8 L480 1128.3 L481.35 1129.8 L493.65 1129.8 L495 1128.3 L496.35 1129.8 L508.65 1129.8 L510 1128.3 L511.35 1129.8 L528.65 1129.8 L530 1128.3 L531.35 1129.8 L558.65 1129.8 L560 1128.3 L561.35 1129.8 L588.65 1129.8 L590 1128.3 L591.35 1129.8 L618.65 1129.8 L620 1128.3 L621.35 1129.8 L638.65 1129.8 L640 1128.3 L641.35 1129.8 L679.86 1129.8 L681.21 1128.84 L682.56 1129.8 L681.58 1129.8 L682.93 1128.5 L684.28 1129.8 L683.31 1129.8 L684.66 1128.05 L686.01 1129.8 L685.03 1129.8 L686.38 1127.33 L687.73 1129.8 L686.75 1129.8 L688.1 1127 L689.45 1129.8 L688.48 1129.8 L689.83 1126.58 L691.18 1129.8 L690.2 1129.8 L691.55 1125.68 L692.9 1129.8 L691.93 1129.8 L693.28 1124.31 L694.63 1129.8 L693.74 1129.8 L695.09 1123.54 L696.44 1129.8 L695.55 1129.8 L696.9 1122.86 L698.25 1129.8 L697.36 1129.8 L698.71 1122.08 L700.06 1129.8 L699.17 1129.8 L700.52 1122.46 L701.87 1129.8 L700.98 1129.8 L702.33 1119.78 L703.68 1129.8 L702.79 1129.8 L704.14 1119.34 L705.49 1129.8 L704.6 1129.8 L705.95 1118.63 L707.3 1129.8 L706.41 1129.8 L707.76 1117.55 L709.11 1129.8 L708.22 1129.8 L709.57 1116.4 L710.92 1129.8 L710.03 1129.8 L711.38 1110.73 L712.73 1129.8 L712.29 1129.8 L713.64 1111.45 L714.99 1129.8 L714.56 1129.8 L715.91 1103.19 L717.26 1129.8 L716.82 1129.8 L718.17 1101.89 L719.52 1129.8 L719.08 1129.8 L720.43 1099.57 L721.78 1129.8 L721.34 1129.8 L722.69 1101.87 L724.04 1129.8 L723.61 1129.8 L724.96 1101.68 L726.31 1129.8 L725.87 1129.8 L727.22 1105.19 L728.57 1129.8 L728.13 1129.8 L729.48 1106.21 L730.83 1129.8 L730.4 1129.8 L731.75 1111.68 L733.1 1129.8 L732.66 1129.8 L734.01 1115.26 L735.36 1129.8 L734.92 1129.8 L736.27 1120.6 L737.62 1129.8 L737.18 1129.8 L738.53 1121.29 L739.88 1129.8 L739.2 1129.8 L740.55 1123.18 L741.9 1129.8 L741.21 1129.8 L742.56 1123 L743.91 1129.8 L743.22 1129.8 L744.57 1122.8 L745.92 1129.8 L745.03 1129.8 L746.38 1123.44 L747.73 1129.8 L746.84 1129.8 L748.19 1123.4 L749.54 1129.8 L748.65 1129.8 L750 1123.54 L751.35 1129.8 L750.46 1129.8 L751.81 1124.96 L753.16 1129.8 L752.27 1129.8 L753.62 1123.71 L754.97 1129.8 L754.28 1129.8 L755.63 1123.76 L756.98 1129.8 L756.29 1129.8 L757.64 1123.1 L758.99 1129.8 L758.31 1129.8 L759.66 1121.9 L761.01 1129.8 L760.32 1129.8 L761.67 1123.75 L763.02 1129.8 L762.33 1129.8 L763.68 1125.12 L765.03 1129.8 L764.34 1129.8 L765.69 1124.91 L767.04 1129.8 L766.35 1129.8 L767.7 1125.64 L769.05 1129.8 L768.36 1129.8 L769.71 1126.18 L771.06 1129.8 L770.37 1129.8 L771.72 1125.22 L773.07 1129.8 L772.18 1129.8 L773.53 1124.99 L774.88 1129.8 L773.99 1129.8 L775.34 1124.79 L776.69 1129.8 L775.81 1129.8 L777.16 1124.93 L778.51 1129.8 L777.62 1129.8 L778.97 1125.02 L780.32 1129.8 L779.43 1129.8 L780.78 1123.71 L782.13 1129.8 L781.44 1129.8 L782.79 1123.06 L784.14 1129.8 L783.45 1129.8 L784.8 1122.92 L786.15 1129.8 L785.46 1129.8 L786.81 1121.29 L788.16 1129.8 L787.27 1129.8 L788.62 1121.43 L789.97 1129.8 L789.08 1129.8 L790.43 1121.38 L791.78 1129.8 L790.89 1129.8 L792.24 1122.02 L793.59 1129.8 L792.7 1129.8 L794.05 1122.13 L795.4 1129.8 L794.51 1129.8 L795.86 1120.69 L797.21 1129.8 L796.52 1129.8 L797.87 1121.6 L799.22 1129.8 L798.54 1129.8 L799.89 1121.99 L801.24 1129.8 L800.55 1129.8 L801.9 1120.69 L803.25 1129.8 L802.56 1129.8 L803.91 1122.12 L805.26 1129.8 L804.57 1129.8 L805.92 1121.28 L807.27 1129.8 L806.58 1129.8 L807.93 1118.88 L809.28 1129.8 L808.59 1129.8 L809.94 1119.68 L811.29 1129.8 L810.6 1129.8 L811.95 1121.95 L813.3 1129.8 L812.62 1129.8 L813.97 1119.78 L815.32 1129.8 L814.63 1129.8 L815.98 1121.79 L817.33 1129.8 L816.64 1129.8 L817.99 1119.81 L819.34 1129.8 L818.65 1129.8 L820 1118.28 L821.35 1129.8 L820.66 1129.8 L822.01 1120.6 L823.36 1129.8 L822.67 1129.8 L824.02 1120.15 L825.37 1129.8 L824.68 1129.8 L826.03 1119.18 L827.38 1129.8 L826.7 1129.8 L828.05 1120.5 L829.4 1129.8 L828.71 1129.8 L830.06 1120.76 L831.41 1129.8 L830.72 1129.8 L832.07 1118.88 L833.42 1129.8 L832.73 1129.8 L834.08 1119.69 L835.43 1129.8 L834.74 1129.8 L836.09 1122.36 L837.44 1129.8 L836.75 1129.8 L838.1 1121.29 L839.45 1129.8 L838.48 1129.8 L839.83 1122.73 L841.18 1129.8 L840.2 1129.8 L841.55 1123.33 L842.9 1129.8 L841.93 1129.8 L843.28 1122.66 L844.63 1129.8 L843.65 1129.8 L845 1123.54 L846.35 1129.8 L845.37 1129.8 L846.72 1123.57 L848.07 1129.8 L847.1 1129.8 L848.45 1123.04 L849.8 1129.8 L848.82 1129.8 L850.17 1122.8 L851.52 1129.8 L850.63 1129.8 L851.98 1123.84 L853.33 1129.8 L852.44 1129.8 L853.79 1123.25 L855.14 1129.8 L854.25 1129.8 L855.6 1122.44 L856.95 1129.8 L856.06 1129.8 L857.41 1123.81 L858.76 1129.8 L857.87 1129.8 L859.22 1121.9 L860.57 1129.8 L859.68 1129.8 L861.03 1123.89 L862.38 1129.8 L861.49 1129.8 L862.84 1123.71 L864.19 1129.8 L863.31 1129.8 L864.66 1122.87 L866.01 1129.8 L865.12 1129.8 L866.47 1123.31 L867.82 1129.8 L866.93 1129.8 L868.28 1122.8 L869.63 1129.8 L868.94 1129.8 L870.29 1123.89 L871.64 1129.8 L870.95 1129.8 L872.3 1123.47 L873.65 1129.8 L872.96 1129.8 L874.31 1121.9 L875.66 1129.8 L874.97 1129.8 L876.32 1124 L877.67 1129.8 L876.98 1129.8 L878.33 1124.01 L879.68 1129.8 L878.99 1129.8 L880.34 1123.71 L881.69 1129.8 L881.01 1129.8 L882.36 1125.7 L883.71 1129.8 L883.02 1129.8 L884.37 1125.47 L885.72 1129.8 L885.03 1129.8 L886.38 1125.82 L887.73 1129.8 L887.04 1129.8 L888.39 1126.41 L889.74 1129.8 L889.05 1129.8 L890.4 1126.86 L891.75 1129.8 L891.06 1129.8 L892.41 1127.33 L893.76 1129.8 L892.87 1129.8 L894.22 1127.66 L895.57 1129.8 L894.68 1129.8 L896.03 1127.71 L897.38 1129.8 L896.49 1129.8 L897.84 1128.34 L899.19 1129.8 L898.31 1129.8 L899.66 1128.36 L901.01 1129.8 L900.12 1129.8 L901.47 1128.23 L902.82 1129.8 L903.13 1129.8 L904.48 1128.84 L905.83 1129.8 L1019.5 1129.8" fill="#dfa4a4" fill-opacity="0.55" stroke="#861010" stroke-width="0.9" stroke-linejoin="miter" stroke-miterlimit="30"/>
<line x1="171.6" y1="900.4" x2="171.6" y2="1136.3" stroke="#3a3a3a" stroke-width="1.3"/>
<path d="M165 1129.8H171.6M166.9 1125.21H171.6M166.9 1120.62H171.6M166.9 1116.04H171.6M166.9 1111.45H171.6M165 1106.86H171.6M166.9 1102.27H171.6M166.9 1097.68H171.6M166.9 1093.1H171.6M166.9 1088.51H171.6M165 1083.92H171.6M166.9 1079.33H171.6M166.9 1074.74H171.6M166.9 1070.16H171.6M166.9 1065.57H171.6M165 1060.98H171.6M166.9 1056.39H171.6M166.9 1051.8H171.6M166.9 1047.22H171.6M166.9 1042.63H171.6M165 1038.04H171.6M166.9 1033.45H171.6M166.9 1028.86H171.6M166.9 1024.28H171.6M166.9 1019.69H171.6M165 1015.1H171.6M166.9 1010.51H171.6M166.9 1005.92H171.6M166.9 1001.34H171.6M166.9 996.75H171.6M165 992.16H171.6M166.9 987.57H171.6M166.9 982.98H171.6M166.9 978.4H171.6M166.9 973.81H171.6M165 969.22H171.6M166.9 964.63H171.6M166.9 960.04H171.6M166.9 955.46H171.6M166.9 950.87H171.6M165 946.28H171.6M166.9 941.69H171.6M166.9 937.1H171.6M166.9 932.52H171.6M166.9 927.93H171.6M165 923.34H171.6M166.9 918.75H171.6M166.9 914.16H171.6M166.9 909.58H171.6M166.9 904.99H171.6M165 900.4H171.6" stroke="#3a3a3a" stroke-width="1.35"/>
<path d="M180.07 1129.8V1134.5M188.54 1129.8V1134.5M197.01 1129.8V1134.5M205.48 1129.8V1134.5M213.95 1129.8V1136.4M222.42 1129.8V1134.5M230.89 1129.8V1134.5M239.36 1129.8V1134.5M247.83 1129.8V1134.5M256.3 1129.8V1136.4M264.77 1129.8V1134.5M273.24 1129.8V1134.5M281.71 1129.8V1134.5M290.18 1129.8V1134.5M298.65 1129.8V1136.4M307.12 1129.8V1134.5M315.59 1129.8V1134.5M324.06 1129.8V1134.5M332.53 1129.8V1134.5M341 1129.8V1136.4M349.47 1129.8V1134.5M357.94 1129.8V1134.5M366.41 1129.8V1134.5M374.88 1129.8V1134.5M383.35 1129.8V1136.4M391.82 1129.8V1134.5M400.29 1129.8V1134.5M408.76 1129.8V1134.5M417.23 1129.8V1134.5M425.7 1129.8V1136.4M434.17 1129.8V1134.5M442.64 1129.8V1134.5M451.11 1129.8V1134.5M459.58 1129.8V1134.5M468.05 1129.8V1136.4M476.52 1129.8V1134.5M484.99 1129.8V1134.5M493.46 1129.8V1134.5M501.93 1129.8V1134.5M510.4 1129.8V1136.4M518.87 1129.8V1134.5M527.34 1129.8V1134.5M535.81 1129.8V1134.5M544.28 1129.8V1134.5M552.75 1129.8V1136.4M561.22 1129.8V1134.5M569.69 1129.8V1134.5M578.16 1129.8V1134.5M586.63 1129.8V1134.5M595.1 1129.8V1136.4M603.57 1129.8V1134.5M612.04 1129.8V1134.5M620.51 1129.8V1134.5M628.98 1129.8V1134.5M637.45 1129.8V1136.4M645.92 1129.8V1134.5M654.39 1129.8V1134.5M662.86 1129.8V1134.5M671.33 1129.8V1134.5M679.8 1129.8V1136.4M688.27 1129.8V1134.5M696.74 1129.8V1134.5M705.21 1129.8V1134.5M713.68 1129.8V1134.5M722.15 1129.8V1136.4M730.62 1129.8V1134.5M739.09 1129.8V1134.5M747.56 1129.8V1134.5M756.03 1129.8V1134.5M764.5 1129.8V1136.4M772.97 1129.8V1134.5M781.44 1129.8V1134.5M789.91 1129.8V1134.5M798.38 1129.8V1134.5M806.85 1129.8V1136.4M815.32 1129.8V1134.5M823.79 1129.8V1134.5M832.26 1129.8V1134.5M840.73 1129.8V1134.5M849.2 1129.8V1136.4M857.67 1129.8V1134.5M866.14 1129.8V1134.5M874.61 1129.8V1134.5M883.08 1129.8V1134.5M891.55 1129.8V1136.4M900.02 1129.8V1134.5M908.49 1129.8V1134.5M916.96 1129.8V1134.5M925.43 1129.8V1134.5M933.9 1129.8V1136.4M942.37 1129.8V1134.5M950.84 1129.8V1134.5M959.31 1129.8V1134.5M967.78 1129.8V1134.5M976.25 1129.8V1136.4M984.72 1129.8V1134.5M993.19 1129.8V1134.5M1001.66 1129.8V1134.5M1010.13 1129.8V1134.5M1018.6 1129.8V1136.4" stroke="#3a3a3a" stroke-width="1.35"/>
<line x1="171.6" y1="1129.8" x2="1019.5" y2="1129.8" stroke="#6e1414" stroke-width="1.7"/>
<line x1="178" y1="1129.5" x2="219" y2="1129.5" stroke="#1414f0" stroke-width="2.8" stroke-dasharray="2 0.8"/>
<line x1="223" y1="1129.5" x2="238" y2="1129.5" stroke="#1414f0" stroke-width="2.8" stroke-dasharray="2 0.8"/>
<line x1="244" y1="1129.5" x2="302" y2="1129.5" stroke="#1414f0" stroke-width="2.8" stroke-dasharray="2 0.8"/>
<line x1="303" y1="1129.5" x2="308" y2="1129.5" stroke="#1414f0" stroke-width="2.8" stroke-dasharray="2 0.8"/>
<line x1="345" y1="1129.5" x2="1019" y2="1129.5" stroke="#1414f0" stroke-width="2.8" stroke-dasharray="2 0.8"/>
<g font-family="'Liberation Sans', Arial, sans-serif" font-size="9.3" fill="#2a2a2a"><text x="156" y="1133.15" text-anchor="end">0</text><text x="156" y="1110.21" text-anchor="end">10</text><text x="156" y="1087.27" text-anchor="end">20</text><text x="156" y="1064.33" text-anchor="end">30</text><text x="156" y="1041.39" text-anchor="end">40</text><text x="156" y="1018.45" text-anchor="end">50</text><text x="156" y="995.51" text-anchor="end">60</text><text x="156" y="972.57" text-anchor="end">70</text><text x="156" y="949.63" text-anchor="end">80</text><text x="156" y="926.69" text-anchor="end">90</text><text x="156" y="903.75" text-anchor="end">100</text><text x="168.1" y="1144.5" text-anchor="middle">0</text><text x="210.45" y="1144.5" text-anchor="middle">1</text><text x="252.8" y="1144.5" text-anchor="middle">2</text><text x="295.15" y="1144.5" text-anchor="middle">3</text><text x="337.5" y="1144.5" text-anchor="middle">4</text><text x="379.85" y="1144.5" text-anchor="middle">5</text><text x="422.2" y="1144.5" text-anchor="middle">6</text><text x="464.55" y="1144.5" text-anchor="middle">7</text><text x="506.9" y="1144.5" text-anchor="middle">8</text><text x="549.25" y="1144.5" text-anchor="middle">9</text><text x="591.6" y="1144.5" text-anchor="middle">10</text><text x="633.95" y="1144.5" text-anchor="middle">11</text><text x="676.3" y="1144.5" text-anchor="middle">12</text><text x="718.65" y="1144.5" text-anchor="middle">13</text><text x="761" y="1144.5" text-anchor="middle">14</text><text x="803.35" y="1144.5" text-anchor="middle">15</text><text x="845.7" y="1144.5" text-anchor="middle">16</text><text x="888.05" y="1144.5" text-anchor="middle">17</text><text x="930.4" y="1144.5" text-anchor="middle">18</text><text x="972.75" y="1144.5" text-anchor="middle">19</text><text x="1015.1" y="1144.5" text-anchor="middle">20</text></g>
<text x="584.6" y="1156.9" text-anchor="middle" font-family="'Liberation Sans', Arial, sans-serif" font-size="8.7" fill="#2a2a2a">Time (min)</text>
<line x1="355.17" y1="929.66" x2="375.52" y2="927.93" stroke="#6cc46c" stroke-width="1.1"/>
<line x1="357.93" y1="996.03" x2="378.1" y2="994.31" stroke="#6cc46c" stroke-width="1.1"/>
<line x1="328.1" y1="1005.52" x2="350.52" y2="1007.24" stroke="#6cc46c" stroke-width="1.1"/>
<line x1="360.34" y1="1052.76" x2="380.34" y2="1051.21" stroke="#6cc46c" stroke-width="1.1"/>
<line x1="328.62" y1="1084.31" x2="348.79" y2="1085.52" stroke="#6cc46c" stroke-width="1.1"/>
<line x1="363.1" y1="1095.17" x2="383.28" y2="1093.79" stroke="#6cc46c" stroke-width="1.1"/>
<line x1="370.69" y1="1111.38" x2="388.45" y2="1110.17" stroke="#6cc46c" stroke-width="1.1"/>
<line x1="324.31" y1="1117.59" x2="346.55" y2="1118.79" stroke="#6cc46c" stroke-width="1.1"/>
<line x1="386.21" y1="1122.76" x2="406.21" y2="1121.72" stroke="#6cc46c" stroke-width="1.1"/>
<line x1="422.07" y1="1125.17" x2="449.66" y2="1123.97" stroke="#6cc46c" stroke-width="1.1"/>
<line x1="280.69" y1="1127.76" x2="294.48" y2="1128.28" stroke="#6cc46c" stroke-width="1.1"/>
<line x1="474.53" y1="1126.72" x2="494.14" y2="1124.31" stroke="#6cc46c" stroke-width="1.1"/>
<line x1="521.29" y1="1127.33" x2="539.4" y2="1125.82" stroke="#6cc46c" stroke-width="1.1"/>
<line x1="617.84" y1="1126.72" x2="632.93" y2="1127.33" stroke="#6cc46c" stroke-width="1.1"/>
<line x1="668.53" y1="1121.9" x2="693.28" y2="1123.71" stroke="#6cc46c" stroke-width="1.1"/>
<line x1="686.64" y1="1109.83" x2="711.38" y2="1111.64" stroke="#6cc46c" stroke-width="1.1"/>
<line x1="733.1" y1="1109.83" x2="755.13" y2="1108.62" stroke="#6cc46c" stroke-width="1.1"/>
<line x1="871.29" y1="1119.78" x2="880.34" y2="1118.88" stroke="#6cc46c" stroke-width="1.1"/>
<line x1="913.53" y1="1126.12" x2="930.13" y2="1124.31" stroke="#6cc46c" stroke-width="1.1"/>
<line x1="963.32" y1="1126.72" x2="979.91" y2="1125.82" stroke="#6cc46c" stroke-width="1.1"/>
<g font-family="'Liberation Sans', Arial, sans-serif" font-size="8.65" fill="#161616" word-spacing="1.04"><text x="356.38" y="926.9">RT: 4.34</text><text x="358.79" y="992.93">RT: 4.40</text><text x="308.79" y="1003.79">RT: 4.24</text><text x="361.38" y="1050.34">RT: 4.46</text><text x="309.31" y="1082.59">RT: 4.20</text><text x="364.14" y="1092.41">RT: 4.52</text><text x="369.31" y="1108.45">RT: 4.70</text><text x="305.34" y="1115.34">RT: 4.16</text><text x="387.76" y="1120">RT: 5.07</text><text x="431.38" y="1122.76">RT: 5.91</text><text x="204.48" y="1125.17">RT: 1.24</text><text x="261.03" y="1125.17">RT: 2.92</text><text x="474.71" y="1123.7">RT: 7.14</text><text x="520.01" y="1124.3">RT: 8.26</text><text x="594.51" y="1124.3">RT: 10.89</text><text x="645.21" y="1119.8">RT: 12.34</text><text x="663.91" y="1108.6">RT: 12.76</text><text x="698.61" y="1095">RT: 12.98</text><text x="733.31" y="1107.7">RT: 13.26</text><text x="807.91" y="1114.4">RT: 15.56</text><text x="858.61" y="1118.3">RT: 16.51</text><text x="908.31" y="1123.7">RT: 17.51</text><text x="958.11" y="1124">RT: 18.69</text></g>
<path d="M422.62 885.15 L375.1 906.31 L372.49 900.46 L359.1 916.6 L380.06 917.45 L377.45 911.6 L424.98 890.45 Z" fill="#0070c0"/>
<path d="M171.5 1397.5 L351.24 1397.5 L352.59 1289.14 L353.94 1397.5 L352.1 1397.5 L353.45 1296.03 L354.8 1397.5 L353.48 1397.5 L354.83 1267.24 L356.18 1397.5 L354.34 1397.5 L355.69 1313.28 L357.04 1397.5 L355.37 1397.5 L356.72 1346.9 L358.07 1397.5 L356.41 1397.5 L357.76 1313.28 L359.11 1397.5 L357.27 1397.5 L358.62 1355.52 L359.97 1397.5 L358.31 1397.5 L359.66 1314.14 L361.01 1397.5 L359.17 1397.5 L360.52 1319.31 L361.87 1397.5 L360.2 1397.5 L361.55 1364.14 L362.9 1397.5 L361.24 1397.5 L362.59 1324.48 L363.94 1397.5 L362.1 1397.5 L363.45 1352.07 L364.8 1397.5 L362.96 1397.5 L364.31 1369.31 L365.66 1397.5 L363.82 1397.5 L365.17 1346.9 L366.52 1397.5 L364.86 1397.5 L366.21 1360.69 L367.56 1397.5 L366.41 1397.5 L367.76 1361.55 L369.11 1397.5 L367.62 1397.5 L368.97 1374.48 L370.32 1397.5 L368.99 1397.5 L370.34 1379.66 L371.69 1397.5 L370.37 1397.5 L371.72 1384.83 L373.07 1397.5 L371.58 1397.5 L372.93 1378.79 L374.28 1397.5 L373.31 1397.5 L374.66 1381.38 L376.01 1397.5 L375.55 1397.5 L376.9 1383.1 L378.25 1397.5 L377.62 1397.5 L378.97 1379.66 L380.32 1397.5 L379.68 1397.5 L381.03 1382.24 L382.38 1397.5 L381.93 1397.5 L383.28 1379.66 L384.63 1397.5 L384.51 1397.5 L385.86 1383.1 L387.21 1397.5 L387.1 1397.5 L388.45 1383.97 L389.8 1397.5 L390.55 1397.5 L391.9 1385.69 L393.25 1397.5 L393.13 1397.5 L394.48 1384.83 L395.83 1397.5 L395.72 1397.5 L397.07 1386.55 L398.42 1397.5 L398.31 1397.5 L399.66 1383.97 L401.01 1397.5 L400.89 1397.5 L402.24 1386.55 L403.59 1397.5 L403.48 1397.5 L404.83 1385.69 L406.18 1397.5 L406.58 1397.5 L407.93 1383.1 L409.28 1397.5 L409.51 1397.5 L410.86 1387.41 L412.21 1397.5 L412.1 1397.5 L413.45 1387.93 L414.8 1397.5 L414.68 1397.5 L416.03 1387.41 L417.38 1397.5 L417.27 1397.5 L418.62 1386.55 L419.97 1397.5 L419.86 1397.5 L421.21 1386.21 L422.56 1397.5 L423.31 1397.5 L424.66 1386.55 L426.01 1397.5 L425.89 1397.5 L427.24 1386.21 L428.59 1397.5 L428.48 1397.5 L429.83 1387.93 L431.18 1397.5 L431.06 1397.5 L432.41 1387.41 L433.76 1397.5 L434.17 1397.5 L435.52 1384.83 L436.87 1397.5 L437.1 1397.5 L438.45 1384.48 L439.8 1397.5 L439.68 1397.5 L441.03 1383.97 L442.38 1397.5 L442.27 1397.5 L443.62 1384.83 L444.97 1397.5 L444.86 1397.5 L446.21 1384.83 L447.56 1397.5 L448.31 1397.5 L449.66 1383.1 L451.01 1397.5 L450.89 1397.5 L452.24 1381.38 L453.59 1397.5 L453.48 1397.5 L454.83 1383.1 L456.18 1397.5 L456.06 1397.5 L457.41 1382.24 L458.76 1397.5 L458.65 1397.5 L460 1378.79 L461.35 1397.5 L462.1 1397.5 L463.45 1382.24 L464.8 1397.5 L464.68 1397.5 L466.03 1383.1 L467.38 1397.5 L467.27 1397.5 L468.62 1383.1 L469.97 1397.5 L468.65 1397.5 L470 1391.65 L471.35 1397.5 L469.86 1397.5 L471.21 1381.03 L472.56 1397.5 L471.56 1397.5 L472.91 1390.84 L474.26 1397.5 L472.44 1397.5 L473.79 1383.97 L475.14 1397.5 L474.47 1397.5 L475.82 1392.46 L477.17 1397.5 L475.55 1397.5 L476.9 1382.24 L478.25 1397.5 L477.38 1397.5 L478.73 1387.61 L480.08 1397.5 L477.62 1397.5 L478.97 1383.1 L480.32 1397.5 L480.29 1397.5 L481.64 1389.22 L482.99 1397.5 L483.2 1397.5 L484.55 1389.22 L485.9 1397.5 L486.11 1397.5 L487.46 1392.13 L488.81 1397.5 L489.02 1397.5 L490.37 1390.03 L491.72 1397.5 L491.93 1397.5 L493.28 1389.22 L494.63 1397.5 L494.84 1397.5 L496.19 1391.65 L497.54 1397.5 L497.74 1397.5 L499.09 1390.03 L500.44 1397.5 L500.65 1397.5 L502 1389.22 L503.35 1397.5 L503.56 1397.5 L504.91 1390.03 L506.26 1397.5 L506.47 1397.5 L507.82 1390.84 L509.17 1397.5 L509.38 1397.5 L510.73 1389.22 L512.08 1397.5 L512.29 1397.5 L513.64 1389.22 L514.99 1397.5 L515.2 1397.5 L516.55 1392.46 L517.9 1397.5 L518.11 1397.5 L519.46 1392.46 L520.81 1397.5 L521.02 1397.5 L522.37 1389.22 L523.72 1397.5 L523.93 1397.5 L525.28 1390.84 L526.63 1397.5 L526.84 1397.5 L528.19 1389.22 L529.54 1397.5 L529.75 1397.5 L531.1 1390.03 L532.45 1397.5 L532.66 1397.5 L534.01 1392.46 L535.36 1397.5 L535.57 1397.5 L536.92 1389.22 L538.27 1397.5 L538.48 1397.5 L539.83 1392.13 L541.18 1397.5 L541.39 1397.5 L542.74 1390.03 L544.09 1397.5 L544.3 1397.5 L545.65 1389.22 L547 1397.5 L547.21 1397.5 L548.56 1390.84 L549.91 1397.5 L550.12 1397.5 L551.47 1387.61 L552.82 1397.5 L553.02 1397.5 L554.38 1387.61 L555.73 1397.5 L555.93 1397.5 L557.28 1390.03 L558.63 1397.5 L558.84 1397.5 L560.19 1389.22 L561.54 1397.5 L561.75 1397.5 L563.1 1390.03 L564.45 1397.5 L564.66 1397.5 L566.01 1390.03 L567.36 1397.5 L567.57 1397.5 L568.92 1392.46 L570.27 1397.5 L570.48 1397.5 L571.83 1389.22 L573.18 1397.5 L573.39 1397.5 L574.74 1390.84 L576.09 1397.5 L576.3 1397.5 L577.65 1389.22 L579 1397.5 L579.21 1397.5 L580.56 1390.03 L581.91 1397.5 L582.12 1397.5 L583.47 1392.13 L584.82 1397.5 L585.03 1397.5 L586.38 1390.84 L587.73 1397.5 L587.94 1397.5 L589.29 1391.65 L590.64 1397.5 L590.85 1397.5 L592.2 1392.46 L593.55 1397.5 L593.76 1397.5 L595.11 1390.84 L596.46 1397.5 L596.67 1397.5 L598.02 1390.03 L599.37 1397.5 L599.58 1397.5 L600.93 1389.22 L602.28 1397.5 L602.49 1397.5 L603.84 1390.03 L605.19 1397.5 L605.4 1397.5 L606.75 1391.65 L608.1 1397.5 L608.31 1397.5 L609.66 1390.03 L611.01 1397.5 L611.21 1397.5 L612.56 1392.13 L613.91 1397.5 L614.12 1397.5 L615.47 1387.61 L616.82 1397.5 L617.03 1397.5 L618.38 1390.84 L619.73 1397.5 L619.94 1397.5 L621.29 1389.22 L622.64 1397.5 L622.85 1397.5 L624.2 1390.03 L625.55 1397.5 L625.76 1397.5 L627.11 1390.03 L628.46 1397.5 L628.67 1397.5 L630.02 1387.61 L631.37 1397.5 L631.58 1397.5 L632.93 1390.84 L634.28 1397.5 L634.49 1397.5 L635.84 1391.65 L637.19 1397.5 L637.4 1397.5 L638.75 1389.22 L640.1 1397.5 L640.31 1397.5 L641.66 1390.03 L643.01 1397.5 L643.22 1397.5 L644.57 1387.61 L645.92 1397.5 L646.13 1397.5 L647.48 1389.22 L648.83 1397.5 L649.04 1397.5 L650.39 1390.03 L651.74 1397.5 L651.95 1397.5 L653.3 1389.22 L654.65 1397.5 L654.86 1397.5 L656.21 1390.03 L657.56 1397.5 L657.77 1397.5 L659.12 1390.84 L660.47 1397.5 L660.68 1397.5 L662.03 1392.46 L663.38 1397.5 L662.62 1397.5 L663.97 1389.22 L665.32 1397.5 L664.23 1397.5 L665.58 1391.49 L666.93 1397.5 L665.85 1397.5 L667.2 1384.38 L668.55 1397.5 L667.46 1397.5 L668.81 1387.57 L670.16 1397.5 L669.08 1397.5 L670.43 1377.91 L671.78 1397.5 L670.7 1397.5 L672.05 1382.14 L673.4 1397.5 L672.31 1397.5 L673.66 1377.1 L675.01 1397.5 L673.93 1397.5 L675.28 1384.42 L676.63 1397.5 L675.55 1397.5 L676.9 1371.44 L678.25 1397.5 L677.97 1397.5 L679.32 1373.06 L680.67 1397.5 L680.4 1397.5 L681.75 1366.59 L683.1 1397.5 L682.82 1397.5 L684.17 1361.75 L685.52 1397.5 L685.24 1397.5 L686.59 1353.66 L687.94 1397.5 L686.7 1397.5 L688.05 1370.65 L689.4 1397.5 L688.15 1397.5 L689.5 1348.81 L690.85 1397.5 L689.53 1397.5 L690.88 1366.02 L692.23 1397.5 L690.9 1397.5 L692.25 1343.97 L693.6 1397.5 L693.33 1397.5 L694.68 1316.49 L696.03 1397.5 L695.75 1397.5 L697.1 1306.79 L698.45 1397.5 L698.18 1397.5 L699.53 1293.86 L700.88 1397.5 L699.55 1397.5 L700.9 1350.75 L702.25 1397.5 L700.92 1397.5 L702.27 1285.78 L703.62 1397.5 L703.02 1397.5 L704.38 1249.41 L705.73 1397.5 L705.45 1397.5 L706.8 1223.55 L708.15 1397.5 L707.87 1397.5 L709.22 1222.74 L710.57 1397.5 L709.25 1397.5 L710.6 1287.78 L711.95 1397.5 L710.62 1397.5 L711.97 1194.45 L713.32 1397.5 L712.72 1397.5 L714.07 1177.48 L715.42 1397.5 L715.15 1397.5 L716.5 1159.38 L717.85 1397.5 L717.57 1397.5 L718.92 1196.88 L720.27 1397.5 L720 1397.5 L721.35 1199.3 L722.7 1397.5 L721.61 1397.5 L722.96 1209.81 L724.31 1397.5 L724.04 1397.5 L725.39 1231.63 L726.74 1397.5 L725.41 1397.5 L726.76 1303.11 L728.11 1397.5 L726.79 1397.5 L728.14 1265.57 L729.49 1397.5 L728.89 1397.5 L730.24 1314.06 L731.59 1397.5 L731.31 1397.5 L732.66 1350.43 L734.01 1397.5 L733.74 1397.5 L735.09 1354.47 L736.44 1397.5 L735.35 1397.5 L736.7 1366.74 L738.05 1397.5 L736.97 1397.5 L738.32 1353.66 L739.67 1397.5 L738.65 1397.5 L740 1352.05 L741.35 1397.5 L739.39 1397.5 L740.74 1356.9 L742.09 1397.5 L740.85 1397.5 L742.2 1378.91 L743.55 1397.5 L742.21 1397.5 L743.56 1343.97 L744.91 1397.5 L742.3 1397.5 L743.65 1343.97 L745 1397.5 L743.68 1397.5 L745.03 1372.92 L746.38 1397.5 L745.05 1397.5 L746.4 1350.43 L747.75 1397.5 L745.12 1397.5 L746.47 1350.43 L747.82 1397.5 L747.38 1397.5 L748.73 1375.24 L750.08 1397.5 L747.48 1397.5 L748.83 1360.13 L750.18 1397.5 L749.64 1397.5 L750.99 1349.62 L752.34 1397.5 L749.9 1397.5 L751.25 1349.62 L752.6 1397.5 L752.32 1397.5 L753.67 1360.13 L755.02 1397.5 L752.39 1397.5 L753.74 1360.13 L755.09 1397.5 L753.94 1397.5 L755.29 1383.72 L756.64 1397.5 L755.56 1397.5 L756.91 1364.98 L758.26 1397.5 L755.62 1397.5 L756.97 1364.98 L758.32 1397.5 L756.9 1397.5 L758.25 1373.25 L759.6 1397.5 L757.64 1397.5 L758.99 1374.42 L760.34 1397.5 L758.25 1397.5 L759.6 1374.12 L760.95 1397.5 L759.6 1397.5 L760.95 1360.94 L762.3 1397.5 L759.66 1397.5 L761.01 1360.13 L762.36 1397.5 L761.21 1397.5 L762.56 1385.23 L763.91 1397.5 L761.68 1397.5 L763.03 1376.57 L764.38 1397.5 L762.83 1397.5 L764.18 1368.21 L765.53 1397.5 L763.7 1397.5 L765.05 1371.44 L766.4 1397.5 L764.18 1397.5 L765.53 1372.77 L766.88 1397.5 L765.52 1397.5 L766.88 1371.53 L768.23 1397.5 L766.87 1397.5 L768.22 1362.55 L769.57 1397.5 L766.94 1397.5 L768.29 1361.75 L769.64 1397.5 L769.85 1397.5 L771.2 1351.24 L772.55 1397.5 L772.59 1397.5 L773.94 1366.59 L775.29 1397.5 L775.02 1397.5 L776.37 1360.13 L777.72 1397.5 L777.04 1397.5 L778.39 1371.27 L779.74 1397.5 L779.06 1397.5 L780.41 1363.36 L781.76 1397.5 L782.62 1397.5 L783.97 1358.51 L785.32 1397.5 L785.52 1397.5 L786.88 1369.83 L788.23 1397.5 L787.79 1397.5 L789.14 1381.53 L790.49 1397.5 L790.05 1397.5 L791.4 1352.05 L792.75 1397.5 L792.8 1397.5 L794.15 1351.24 L795.5 1397.5 L796.03 1397.5 L797.38 1345.58 L798.73 1397.5 L798.46 1397.5 L799.81 1343.16 L801.16 1397.5 L801.69 1397.5 L803.04 1323.76 L804.39 1397.5 L803.31 1397.5 L804.66 1331.03 L806.01 1397.5 L804.92 1397.5 L806.27 1335.88 L807.62 1397.5 L808.15 1397.5 L809.5 1324.57 L810.85 1397.5 L810.58 1397.5 L811.93 1352.05 L813.28 1397.5 L813.33 1397.5 L814.68 1339.12 L816.03 1397.5 L815.43 1397.5 L816.78 1347.2 L818.13 1397.5 L817.85 1397.5 L819.2 1360.13 L820.55 1397.5 L820.28 1397.5 L821.63 1377.32 L822.98 1397.5 L822.7 1397.5 L824.05 1346.39 L825.4 1397.5 L825.93 1397.5 L827.28 1343.97 L828.63 1397.5 L828.36 1397.5 L829.71 1353.66 L831.06 1397.5 L830.78 1397.5 L832.13 1360.13 L833.48 1397.5 L834.02 1397.5 L835.37 1361.75 L836.72 1397.5 L837.25 1397.5 L838.6 1360.13 L839.95 1397.5 L840.48 1397.5 L841.83 1364.98 L843.18 1397.5 L842.91 1397.5 L844.26 1383.51 L845.61 1397.5 L845.33 1397.5 L846.68 1363.36 L848.03 1397.5 L848.24 1397.5 L849.59 1352.05 L850.94 1397.5 L850.99 1397.5 L852.34 1360.13 L853.69 1397.5 L853.41 1397.5 L854.76 1366.59 L856.11 1397.5 L855.84 1397.5 L857.19 1363.36 L858.54 1397.5 L858.26 1397.5 L859.61 1327.8 L860.96 1397.5 L860.69 1397.5 L862.04 1361.75 L863.39 1397.5 L863.11 1397.5 L864.46 1344.77 L865.81 1397.5 L865.54 1397.5 L866.89 1338.31 L868.24 1397.5 L867.96 1397.5 L869.31 1345.58 L870.66 1397.5 L869.9 1397.5 L871.25 1371.44 L872.6 1397.5 L895.12 1397.5 L896.47 1369.02 L897.82 1397.5 L914.84 1397.5 L916.19 1389.22 L917.54 1397.5 L917.26 1397.5 L918.61 1389.22 L919.96 1397.5 L920.49 1397.5 L921.84 1384.38 L923.19 1397.5 L922.92 1397.5 L924.27 1390.84 L925.62 1397.5 L925.34 1397.5 L926.69 1382.76 L928.04 1397.5 L927.77 1397.5 L929.12 1391.65 L930.47 1397.5 L931 1397.5 L932.35 1392.46 L933.7 1397.5 L934.23 1397.5 L935.58 1390.84 L936.93 1397.5 L936.66 1397.5 L938.01 1391.65 L939.36 1397.5 L939.08 1397.5 L940.43 1392.46 L941.78 1397.5 L943.93 1397.5 L945.28 1393.27 L946.63 1397.5 L949.59 1397.5 L950.94 1392.46 L952.29 1397.5 L953.63 1397.5 L954.98 1393.27 L956.33 1397.5 L959.29 1397.5 L960.64 1393.27 L961.99 1397.5 L965.75 1397.5 L967.1 1392.46 L968.45 1397.5 L969.79 1397.5 L971.14 1393.27 L972.49 1397.5 L976.26 1397.5 L977.61 1394.07 L978.96 1397.5 L985.96 1397.5 L987.31 1394.07 L988.66 1397.5 L997.27 1397.5 L998.62 1393.27 L999.97 1397.5 L1003.74 1397.5 L1005.09 1394.07 L1006.44 1397.5 L1010.2 1397.5 L1011.55 1394.4 L1012.9 1397.5 L1017.3 1397.5" fill="#dfa4a4" fill-opacity="0.55" stroke="#861010" stroke-width="0.9" stroke-linejoin="miter" stroke-miterlimit="30"/>
<line x1="171.5" y1="1159.4" x2="171.5" y2="1404" stroke="#3a3a3a" stroke-width="1.3"/>
<path d="M166.2 1397.5H171.5M167.3 1392.74H171.5M167.3 1387.98H171.5M167.3 1383.21H171.5M167.3 1378.45H171.5M166.2 1373.69H171.5M167.3 1368.93H171.5M167.3 1364.17H171.5M167.3 1359.4H171.5M167.3 1354.64H171.5M166.2 1349.88H171.5M167.3 1345.12H171.5M167.3 1340.36H171.5M167.3 1335.59H171.5M167.3 1330.83H171.5M166.2 1326.07H171.5M167.3 1321.31H171.5M167.3 1316.55H171.5M167.3 1311.78H171.5M167.3 1307.02H171.5M166.2 1302.26H171.5M167.3 1297.5H171.5M167.3 1292.74H171.5M167.3 1287.97H171.5M167.3 1283.21H171.5M166.2 1278.45H171.5M167.3 1273.69H171.5M167.3 1268.93H171.5M167.3 1264.16H171.5M167.3 1259.4H171.5M166.2 1254.64H171.5M167.3 1249.88H171.5M167.3 1245.12H171.5M167.3 1240.35H171.5M167.3 1235.59H171.5M166.2 1230.83H171.5M167.3 1226.07H171.5M167.3 1221.31H171.5M167.3 1216.54H171.5M167.3 1211.78H171.5M166.2 1207.02H171.5M167.3 1202.26H171.5M167.3 1197.5H171.5M167.3 1192.73H171.5M167.3 1187.97H171.5M166.2 1183.21H171.5M167.3 1178.45H171.5M167.3 1173.69H171.5M167.3 1168.92H171.5M167.3 1164.16H171.5M166.2 1159.4H171.5" stroke="#3a3a3a" stroke-width="1.35"/>
<path d="M179.95 1397.5V1401.7M188.4 1397.5V1401.7M196.85 1397.5V1401.7M205.3 1397.5V1401.7M213.75 1397.5V1402.8M222.2 1397.5V1401.7M230.65 1397.5V1401.7M239.1 1397.5V1401.7M247.55 1397.5V1401.7M256 1397.5V1402.8M264.45 1397.5V1401.7M272.9 1397.5V1401.7M281.35 1397.5V1401.7M289.8 1397.5V1401.7M298.25 1397.5V1402.8M306.7 1397.5V1401.7M315.15 1397.5V1401.7M323.6 1397.5V1401.7M332.05 1397.5V1401.7M340.5 1397.5V1402.8M348.95 1397.5V1401.7M357.4 1397.5V1401.7M365.85 1397.5V1401.7M374.3 1397.5V1401.7M382.75 1397.5V1402.8M391.2 1397.5V1401.7M399.65 1397.5V1401.7M408.1 1397.5V1401.7M416.55 1397.5V1401.7M425 1397.5V1402.8M433.45 1397.5V1401.7M441.9 1397.5V1401.7M450.35 1397.5V1401.7M458.8 1397.5V1401.7M467.25 1397.5V1402.8M475.7 1397.5V1401.7M484.15 1397.5V1401.7M492.6 1397.5V1401.7M501.05 1397.5V1401.7M509.5 1397.5V1402.8M517.95 1397.5V1401.7M526.4 1397.5V1401.7M534.85 1397.5V1401.7M543.3 1397.5V1401.7M551.75 1397.5V1402.8M560.2 1397.5V1401.7M568.65 1397.5V1401.7M577.1 1397.5V1401.7M585.55 1397.5V1401.7M594 1397.5V1402.8M602.45 1397.5V1401.7M610.9 1397.5V1401.7M619.35 1397.5V1401.7M627.8 1397.5V1401.7M636.25 1397.5V1402.8M644.7 1397.5V1401.7M653.15 1397.5V1401.7M661.6 1397.5V1401.7M670.05 1397.5V1401.7M678.5 1397.5V1402.8M686.95 1397.5V1401.7M695.4 1397.5V1401.7M703.85 1397.5V1401.7M712.3 1397.5V1401.7M720.75 1397.5V1402.8M729.2 1397.5V1401.7M737.65 1397.5V1401.7M746.1 1397.5V1401.7M754.55 1397.5V1401.7M763 1397.5V1402.8M771.45 1397.5V1401.7M779.9 1397.5V1401.7M788.35 1397.5V1401.7M796.8 1397.5V1401.7M805.25 1397.5V1402.8M813.7 1397.5V1401.7M822.15 1397.5V1401.7M830.6 1397.5V1401.7M839.05 1397.5V1401.7M847.5 1397.5V1402.8M855.95 1397.5V1401.7M864.4 1397.5V1401.7M872.85 1397.5V1401.7M881.3 1397.5V1401.7M889.75 1397.5V1402.8M898.2 1397.5V1401.7M906.65 1397.5V1401.7M915.1 1397.5V1401.7M923.55 1397.5V1401.7M932 1397.5V1402.8M940.45 1397.5V1401.7M948.9 1397.5V1401.7M957.35 1397.5V1401.7M965.8 1397.5V1401.7M974.25 1397.5V1402.8M982.7 1397.5V1401.7M991.15 1397.5V1401.7M999.6 1397.5V1401.7M1008.05 1397.5V1401.7M1016.5 1397.5V1402.8" stroke="#3a3a3a" stroke-width="1.35"/>
<line x1="171.5" y1="1397.5" x2="1017.3" y2="1397.5" stroke="#6e1414" stroke-width="1.7"/>
<line x1="174.7" y1="1397.2" x2="195.3" y2="1397.2" stroke="#1414f0" stroke-width="2.8" stroke-dasharray="2 0.8"/>
<line x1="203" y1="1397.2" x2="210" y2="1397.2" stroke="#1414f0" stroke-width="2.8" stroke-dasharray="2 0.8"/>
<line x1="246" y1="1397.2" x2="261.7" y2="1397.2" stroke="#1414f0" stroke-width="2.8" stroke-dasharray="2 0.8"/>
<line x1="277" y1="1397.2" x2="285" y2="1397.2" stroke="#1414f0" stroke-width="2.8" stroke-dasharray="2 0.8"/>
<line x1="289" y1="1397.2" x2="296" y2="1397.2" stroke="#1414f0" stroke-width="2.8" stroke-dasharray="2 0.8"/>
<line x1="349.7" y1="1397.2" x2="873" y2="1397.2" stroke="#1414f0" stroke-width="2.8" stroke-dasharray="2 0.8"/>
<line x1="892" y1="1397.2" x2="900" y2="1397.2" stroke="#1414f0" stroke-width="2.8" stroke-dasharray="2 0.8"/>
<line x1="914" y1="1397.2" x2="1014" y2="1397.2" stroke="#1414f0" stroke-width="2.8" stroke-dasharray="2 0.8"/>
<g font-family="'Liberation Sans', Arial, sans-serif" font-size="10.5" fill="#2a2a2a"><text x="164.9" y="1401.28" text-anchor="end">0</text><text x="164.9" y="1377.47" text-anchor="end">10</text><text x="164.9" y="1353.66" text-anchor="end">20</text><text x="164.9" y="1329.85" text-anchor="end">30</text><text x="164.9" y="1306.04" text-anchor="end">40</text><text x="164.9" y="1282.23" text-anchor="end">50</text><text x="164.9" y="1258.42" text-anchor="end">60</text><text x="164.9" y="1234.61" text-anchor="end">70</text><text x="164.9" y="1210.8" text-anchor="end">80</text><text x="164.9" y="1186.99" text-anchor="end">90</text><text x="170.9" y="1413.4" text-anchor="middle">0</text><text x="213.15" y="1413.4" text-anchor="middle">1</text><text x="255.4" y="1413.4" text-anchor="middle">2</text><text x="297.65" y="1413.4" text-anchor="middle">3</text><text x="339.9" y="1413.4" text-anchor="middle">4</text><text x="382.15" y="1413.4" text-anchor="middle">5</text><text x="424.4" y="1413.4" text-anchor="middle">6</text><text x="466.65" y="1413.4" text-anchor="middle">7</text><text x="508.9" y="1413.4" text-anchor="middle">8</text><text x="551.15" y="1413.4" text-anchor="middle">9</text><text x="593.4" y="1413.4" text-anchor="middle">10</text><text x="635.65" y="1413.4" text-anchor="middle">11</text><text x="677.9" y="1413.4" text-anchor="middle">12</text><text x="720.15" y="1413.4" text-anchor="middle">13</text><text x="762.4" y="1413.4" text-anchor="middle">14</text><text x="804.65" y="1413.4" text-anchor="middle">15</text><text x="846.9" y="1413.4" text-anchor="middle">16</text><text x="889.15" y="1413.4" text-anchor="middle">17</text><text x="931.4" y="1413.4" text-anchor="middle">18</text><text x="973.65" y="1413.4" text-anchor="middle">19</text><text x="1015.9" y="1413.4" text-anchor="middle">20</text></g>
<text x="595.5" y="1426.7" text-anchor="middle" font-family="'Liberation Sans', Arial, sans-serif" font-size="9.75" fill="#2a2a2a">Time (min)</text>
<line x1="330.34" y1="1286.55" x2="352.24" y2="1288.28" stroke="#6cc46c" stroke-width="1.1"/>
<line x1="360" y1="1312.41" x2="377.59" y2="1311.03" stroke="#6cc46c" stroke-width="1.1"/>
<line x1="365.17" y1="1345.52" x2="385" y2="1343.79" stroke="#6cc46c" stroke-width="1.1"/>
<line x1="367.76" y1="1359.83" x2="387.59" y2="1358.62" stroke="#6cc46c" stroke-width="1.1"/>
<line x1="372.93" y1="1377.07" x2="389.83" y2="1375.86" stroke="#6cc46c" stroke-width="1.1"/>
<line x1="415.52" y1="1386.55" x2="433.62" y2="1364.14" stroke="#6cc46c" stroke-width="1.1"/>
<line x1="476.9" y1="1381.03" x2="480" y2="1380.52" stroke="#6cc46c" stroke-width="1.1"/>
<line x1="192.41" y1="1393.45" x2="194.48" y2="1392.07" stroke="#6cc46c" stroke-width="1.1"/>
<line x1="247.07" y1="1393.45" x2="248.79" y2="1394.31" stroke="#6cc46c" stroke-width="1.1"/>
<line x1="688.53" y1="1174.25" x2="713.75" y2="1175.38" stroke="#6cc46c" stroke-width="1.1"/>
<line x1="686.59" y1="1191.7" x2="711.97" y2="1193.16" stroke="#6cc46c" stroke-width="1.1"/>
<line x1="721.35" y1="1198.17" x2="743.49" y2="1196.88" stroke="#6cc46c" stroke-width="1.1"/>
<line x1="683.04" y1="1220.31" x2="709.22" y2="1221.44" stroke="#6cc46c" stroke-width="1.1"/>
<line x1="725.71" y1="1230.82" x2="748.02" y2="1228.88" stroke="#6cc46c" stroke-width="1.1"/>
<line x1="682.07" y1="1246.66" x2="704.7" y2="1248.11" stroke="#6cc46c" stroke-width="1.1"/>
<line x1="728.3" y1="1264.44" x2="750.93" y2="1262.34" stroke="#6cc46c" stroke-width="1.1"/>
<line x1="677.22" y1="1282.54" x2="702.27" y2="1283.84" stroke="#6cc46c" stroke-width="1.1"/>
<line x1="675.28" y1="1304.36" x2="697.91" y2="1305.98" stroke="#6cc46c" stroke-width="1.1"/>
<line x1="730.24" y1="1312.93" x2="752.87" y2="1311.15" stroke="#6cc46c" stroke-width="1.1"/>
<line x1="670.11" y1="1339.92" x2="692.74" y2="1341.54" stroke="#6cc46c" stroke-width="1.1"/>
<line x1="662.03" y1="1352.86" x2="686.27" y2="1353.99" stroke="#6cc46c" stroke-width="1.1"/>
<line x1="656.21" y1="1365.3" x2="681.42" y2="1366.59" stroke="#6cc46c" stroke-width="1.1"/>
<line x1="639.72" y1="1384.05" x2="662.35" y2="1385.67" stroke="#6cc46c" stroke-width="1.1"/>
<line x1="566.98" y1="1388.9" x2="592.04" y2="1387.28" stroke="#6cc46c" stroke-width="1.1"/>
<line x1="476.14" y1="1381.47" x2="503.94" y2="1379.53" stroke="#6cc46c" stroke-width="1.1"/>
<line x1="775.88" y1="1338.31" x2="800.61" y2="1340.73" stroke="#6cc46c" stroke-width="1.1"/>
<line x1="869.31" y1="1343.97" x2="891.62" y2="1342.67" stroke="#6cc46c" stroke-width="1.1"/>
<line x1="967.91" y1="1390.52" x2="977.61" y2="1389.22" stroke="#6cc46c" stroke-width="1.1"/>
<g font-family="'Liberation Sans', Arial, sans-serif" font-size="9.75" fill="#161616" word-spacing="1.17"><text x="335.43" y="1262.76">RT: 4.35</text><text x="310.08" y="1285.34">RT: 4.29</text><text x="358.88" y="1309.83">RT: 4.47</text><text x="366.12" y="1342.07">RT: 4.59</text><text x="368.7" y="1356.9">RT: 4.65</text><text x="371.29" y="1374.48">RT: 4.77</text><text x="414.39" y="1362.41">RT: 5.79</text><text x="440.6" y="1374.83">RT: 6.83</text><text x="175.6" y="1390.86">RT: 0.49</text><text x="228.19" y="1391.72">RT: 1.85</text><text x="273.01" y="1390.52">RT: 2.86</text><text x="665.29" y="1172.63">RT: 12.85</text><text x="663.19" y="1190.41">RT: 12.80</text><text x="721.7" y="1196.07">RT: 13.01</text><text x="661.25" y="1219.5">RT: 12.74</text><text x="725.9" y="1228.39">RT: 13.12</text><text x="659.14" y="1245.37">RT: 12.63</text><text x="728.65" y="1261.53">RT: 13.18</text><text x="653.97" y="1280.93">RT: 12.57</text><text x="651.87" y="1303.23">RT: 12.46</text><text x="730.75" y="1310.02">RT: 13.23</text><text x="647.02" y="1338.79">RT: 12.33</text><text x="638.62" y="1351.72">RT: 12.21</text><text x="633.77" y="1364.17">RT: 12.08</text><text x="617.6" y="1383.57">RT: 11.63</text><text x="572.99" y="1386.31">RT: 9.36</text><text x="529.03" y="1383.57">RT: 8.92</text><text x="485.06" y="1378.72">RT: 7.22</text><text x="780.44" y="1319.4">RT: 14.96</text><text x="752.96" y="1337.5">RT: 14.91</text><text x="837.5" y="1324.57">RT: 16.29</text><text x="869.82" y="1341.54">RT: 16.52</text><text x="874.19" y="1365.79">RT: 17.17</text><text x="903.77" y="1379.2">RT: 17.88</text><text x="955.01" y="1388.42">RT: 18.85</text></g>
<path d="M423.58 1243.33 L375.3 1263.64 L372.82 1257.74 L359.1 1273.6 L380.04 1274.88 L377.55 1268.98 L425.82 1248.67 Z" fill="#0070c0"/>
<path d="M1099.3 299.5 L1117.37 299.5 L1118.72 290.27 L1120.07 299.5 L1134.6 299.5 L1135.95 289.61 L1137.3 299.5 L1137.69 299.5 L1139.04 290.27 L1140.39 299.5 L1340.04 299.5 L1341.39 243.22 L1342.74 299.5 L1361.03 299.5 L1362.38 271.94 L1363.73 299.5 L1366.33 299.5 L1367.68 265.31 L1369.03 299.5 L1371.41 299.5 L1372.76 264.43 L1374.11 299.5 L1376.71 299.5 L1378.06 272.6 L1379.41 299.5 L1382.45 299.5 L1383.8 273.27 L1385.15 299.5 L1385.1 299.5 L1386.45 253.83 L1387.8 299.5 L1417.36 299.5 L1418.71 266.42 L1420.06 299.5 L1465.96 299.5 L1467.31 272.6 L1468.66 299.5 L1468.61 299.5 L1469.96 274.15 L1471.31 299.5 L1471.26 299.5 L1472.61 269.73 L1473.96 299.5 L1478.99 299.5 L1480.34 273.71 L1481.69 299.5 L1500.56 299.5 L1501.91 256.27 L1503.26 299.5 L1513.81 299.5 L1515.16 280.03 L1516.51 299.5 L1522.38 299.5 L1523.73 278.9 L1525.08 299.5 L1525.13 299.5 L1526.48 258.53 L1527.83 299.5 L1532.72 299.5 L1534.07 270.82 L1535.42 299.5 L1535.63 299.5 L1536.98 263.87 L1538.33 299.5 L1538.54 299.5 L1539.89 262.74 L1541.24 299.5 L1541.61 299.5 L1542.96 275.99 L1544.31 299.5 L1549.37 299.5 L1550.72 282.78 L1552.07 299.5 L1560.2 299.5 L1561.55 268.72 L1562.9 299.5 L1566.02 299.5 L1567.37 274.38 L1568.72 299.5 L1573.62 299.5 L1574.97 284.07 L1576.32 299.5 L1579.6 299.5 L1580.95 281.65 L1582.3 299.5 L1582.18 299.5 L1583.53 275.18 L1584.88 299.5 L1587.68 299.5 L1589.03 275.18 L1590.38 299.5 L1590.59 299.5 L1591.94 275.99 L1593.29 299.5 L1593.34 299.5 L1594.69 267.1 L1596.04 299.5 L1595.92 299.5 L1597.27 277.28 L1598.62 299.5 L1601.58 299.5 L1602.93 282.78 L1604.28 299.5 L1604.01 299.5 L1605.36 258.53 L1606.71 299.5 L1606.75 299.5 L1608.1 276.31 L1609.45 299.5 L1609.5 299.5 L1610.85 269.85 L1612.2 299.5 L1612.41 299.5 L1613.76 267.1 L1615.11 299.5 L1615.16 299.5 L1616.51 268.23 L1617.86 299.5 L1620.49 299.5 L1621.84 247.7 L1623.19 299.5 L1623.24 299.5 L1624.59 233.64 L1625.94 299.5 L1626.15 299.5 L1627.5 229.92 L1628.85 299.5 L1628.9 299.5 L1630.25 212.63 L1631.6 299.5 L1631.32 299.5 L1632.67 201.31 L1634.02 299.5 L1636.66 299.5 L1638.01 234.77 L1639.36 299.5 L1639.08 299.5 L1640.43 195.98 L1641.78 299.5 L1641.83 299.5 L1643.18 155.57 L1644.53 299.5 L1644.42 299.5 L1645.77 182.24 L1647.12 299.5 L1647.16 299.5 L1648.51 73.94 L1649.86 299.5 L1649.59 299.5 L1650.94 58.27 L1652.29 299.5 L1652.34 299.5 L1653.69 90.11 L1655.04 299.5 L1681.92 299.5 L1683.27 143.45 L1684.62 299.5 L1684.02 299.5 L1685.37 162.04 L1686.72 299.5 L1686.76 299.5 L1688.11 168.5 L1689.46 299.5 L1720.78 299.5 L1722.13 168.18 L1723.48 299.5 L1723.17 299.5 L1724.52 180.09 L1725.87 299.5 L1728.07 299.5 L1729.42 204.6 L1730.77 299.5 L1729.89 299.5 L1731.24 186.39 L1732.59 299.5 L1731.99 299.5 L1733.34 190.59 L1734.69 299.5 L1734.37 299.5 L1735.72 125.45 L1737.07 299.5 L1736.47 299.5 L1737.82 93.93 L1739.17 299.5 L1739.28 299.5 L1740.62 122.65 L1741.97 299.5 L1741.66 299.5 L1743.01 78.52 L1744.36 299.5 L1744.18 299.5 L1745.53 68.72 L1746.88 299.5 L1746.98 299.5 L1748.33 136.66 L1749.68 299.5 L1749.36 299.5 L1750.71 117.05 L1752.06 299.5 L1751.88 299.5 L1753.23 107.24 L1754.58 299.5 L1754.68 299.5 L1756.03 140.86 L1757.38 299.5 L1759.87 299.5 L1761.22 156.97 L1762.57 299.5 L1764.91 299.5 L1766.26 166.78 L1767.61 299.5 L1767.57 299.5 L1768.92 142.26 L1770.27 299.5 L1770.37 299.5 L1771.72 151.37 L1773.07 299.5 L1775.42 299.5 L1776.77 140.86 L1778.12 299.5 L1780.6 299.5 L1781.95 149.97 L1783.3 299.5 L1783.12 299.5 L1784.47 140.16 L1785.82 299.5 L1785.78 299.5 L1787.13 168.88 L1788.48 299.5 L1788.59 299.5 L1789.94 180.79 L1791.29 299.5 L1791.11 299.5 L1792.46 135.96 L1793.81 299.5 L1793.63 299.5 L1794.98 199 L1796.33 299.5 L1796.01 299.5 L1797.36 181.77 L1798.71 299.5 L1801.61 299.5 L1802.96 198.3 L1804.31 299.5 L1803.99 299.5 L1805.34 238.92 L1806.69 299.5 L1806.52 299.5 L1807.87 261.34 L1809.22 299.5 L1809.32 299.5 L1810.67 227.72 L1812.02 299.5 L1811.42 299.5 L1812.77 250.13 L1814.12 299.5 L1813.8 299.5 L1815.15 233.32 L1816.5 299.5 L1816.32 299.5 L1817.67 245.93 L1819.02 299.5 L1818.56 299.5 L1819.91 250.13 L1821.26 299.5 L1820.81 299.5 L1822.16 249.43 L1823.51 299.5 L1823.33 299.5 L1824.68 266.24 L1826.03 299.5 L1825.85 299.5 L1827.2 255.03 L1828.55 299.5 L1828.65 299.5 L1830 250.13 L1831.35 299.5 L1831.45 299.5 L1832.8 255.73 L1834.15 299.5 L1836.21 299.5 L1837.56 275.34 L1838.91 299.5 L1838.74 299.5 L1840.09 259.94 L1841.44 299.5 L1841.54 299.5 L1842.89 267.64 L1844.24 299.5 L1844.34 299.5 L1845.69 264.14 L1847.04 299.5 L1847.14 299.5 L1848.49 276.05 L1849.84 299.5 L1849.94 299.5 L1851.29 278.15 L1852.64 299.5 L1852.74 299.5 L1854.09 265.82 L1855.44 299.5 L1855.27 299.5 L1856.62 271.14 L1857.97 299.5 L1857.65 299.5 L1859 269.74 L1860.35 299.5 L1860.45 299.5 L1861.8 278.15 L1863.15 299.5 L1863.67 299.5 L1865.02 255.73 L1866.37 299.5 L1866.05 299.5 L1867.4 279.55 L1868.75 299.5 L1868.85 299.5 L1870.2 275.34 L1871.55 299.5 L1871.66 299.5 L1873.01 267.64 L1874.36 299.5 L1874.46 299.5 L1875.81 279.55 L1877.16 299.5 L1877.26 299.5 L1878.61 278.15 L1879.96 299.5 L1882.44 299.5 L1883.79 283.05 L1885.14 299.5 L1888.05 299.5 L1889.4 281.65 L1890.75 299.5 L1890.85 299.5 L1892.2 283.75 L1893.55 299.5 L1898.97 299.5 L1900.32 285.85 L1901.67 299.5 L1901.49 299.5 L1902.84 285.85 L1904.19 299.5 L1905.28 299.5 L1906.63 287.25 L1907.98 299.5 L1912.98 299.5 L1914.33 287.95 L1915.68 299.5 L1916.2 299.5 L1917.55 279.55 L1918.9 299.5 L1927.97 299.5 L1929.32 281.23 L1930.67 299.5 L1936.1 299.5 L1937.45 286.55 L1938.8 299.5 L1938.9 299.5 L1940.25 286.55 L1941.6 299.5 L1944.5 299.5 L1945.85 285.15 L1947.2 299.5 L1953.8 299.5" fill="#dfa4a4" fill-opacity="0.55" stroke="#861010" stroke-width="0.9" stroke-linejoin="miter" stroke-miterlimit="30"/>
<line x1="1099.3" y1="58.3" x2="1099.3" y2="306" stroke="#3a3a3a" stroke-width="1.3"/>
<path d="M1092.4 299.5H1099.3M1094.6 294.68H1099.3M1094.6 289.85H1099.3M1094.6 285.03H1099.3M1094.6 280.2H1099.3M1092.4 275.38H1099.3M1094.6 270.56H1099.3M1094.6 265.73H1099.3M1094.6 260.91H1099.3M1094.6 256.08H1099.3M1092.4 251.26H1099.3M1094.6 246.44H1099.3M1094.6 241.61H1099.3M1094.6 236.79H1099.3M1094.6 231.96H1099.3M1092.4 227.14H1099.3M1094.6 222.32H1099.3M1094.6 217.49H1099.3M1094.6 212.67H1099.3M1094.6 207.84H1099.3M1092.4 203.02H1099.3M1094.6 198.2H1099.3M1094.6 193.37H1099.3M1094.6 188.55H1099.3M1094.6 183.72H1099.3M1092.4 178.9H1099.3M1094.6 174.08H1099.3M1094.6 169.25H1099.3M1094.6 164.43H1099.3M1094.6 159.6H1099.3M1092.4 154.78H1099.3M1094.6 149.96H1099.3M1094.6 145.13H1099.3M1094.6 140.31H1099.3M1094.6 135.48H1099.3M1092.4 130.66H1099.3M1094.6 125.84H1099.3M1094.6 121.01H1099.3M1094.6 116.19H1099.3M1094.6 111.36H1099.3M1092.4 106.54H1099.3M1094.6 101.72H1099.3M1094.6 96.89H1099.3M1094.6 92.07H1099.3M1094.6 87.24H1099.3M1092.4 82.42H1099.3M1094.6 77.6H1099.3M1094.6 72.77H1099.3M1094.6 67.95H1099.3M1094.6 63.12H1099.3M1092.4 58.3H1099.3" stroke="#3a3a3a" stroke-width="1.35"/>
<path d="M1107.84 299.5V304.2M1116.38 299.5V304.2M1124.91 299.5V304.2M1133.45 299.5V304.2M1141.99 299.5V306.4M1150.53 299.5V304.2M1159.07 299.5V304.2M1167.6 299.5V304.2M1176.14 299.5V304.2M1184.68 299.5V306.4M1193.22 299.5V304.2M1201.76 299.5V304.2M1210.29 299.5V304.2M1218.83 299.5V304.2M1227.37 299.5V306.4M1235.91 299.5V304.2M1244.45 299.5V304.2M1252.98 299.5V304.2M1261.52 299.5V304.2M1270.06 299.5V306.4M1278.6 299.5V304.2M1287.14 299.5V304.2M1295.67 299.5V304.2M1304.21 299.5V304.2M1312.75 299.5V306.4M1321.29 299.5V304.2M1329.83 299.5V304.2M1338.36 299.5V304.2M1346.9 299.5V304.2M1355.44 299.5V306.4M1363.98 299.5V304.2M1372.52 299.5V304.2M1381.05 299.5V304.2M1389.59 299.5V304.2M1398.13 299.5V306.4M1406.67 299.5V304.2M1415.21 299.5V304.2M1423.74 299.5V304.2M1432.28 299.5V304.2M1440.82 299.5V306.4M1449.36 299.5V304.2M1457.9 299.5V304.2M1466.43 299.5V304.2M1474.97 299.5V304.2M1483.51 299.5V306.4M1492.05 299.5V304.2M1500.59 299.5V304.2M1509.12 299.5V304.2M1517.66 299.5V304.2M1526.2 299.5V306.4M1534.74 299.5V304.2M1543.28 299.5V304.2M1551.81 299.5V304.2M1560.35 299.5V304.2M1568.89 299.5V306.4M1577.43 299.5V304.2M1585.97 299.5V304.2M1594.5 299.5V304.2M1603.04 299.5V304.2M1611.58 299.5V306.4M1620.12 299.5V304.2M1628.66 299.5V304.2M1637.19 299.5V304.2M1645.73 299.5V304.2M1654.27 299.5V306.4M1662.81 299.5V304.2M1671.35 299.5V304.2M1679.88 299.5V304.2M1688.42 299.5V304.2M1696.96 299.5V306.4M1705.5 299.5V304.2M1714.04 299.5V304.2M1722.57 299.5V304.2M1731.11 299.5V304.2M1739.65 299.5V306.4M1748.19 299.5V304.2M1756.73 299.5V304.2M1765.26 299.5V304.2M1773.8 299.5V304.2M1782.34 299.5V306.4M1790.88 299.5V304.2M1799.42 299.5V304.2M1807.95 299.5V304.2M1816.49 299.5V304.2M1825.03 299.5V306.4M1833.57 299.5V304.2M1842.11 299.5V304.2M1850.64 299.5V304.2M1859.18 299.5V304.2M1867.72 299.5V306.4M1876.26 299.5V304.2M1884.8 299.5V304.2M1893.33 299.5V304.2M1901.87 299.5V304.2M1910.41 299.5V306.4M1918.95 299.5V304.2M1927.49 299.5V304.2M1936.02 299.5V304.2M1944.56 299.5V304.2M1953.1 299.5V306.4" stroke="#3a3a3a" stroke-width="1.35"/>
<line x1="1099.3" y1="299.5" x2="1953.8" y2="299.5" stroke="#6e1414" stroke-width="1.7"/>
<line x1="1115.72" y1="299.2" x2="1121.72" y2="299.2" stroke="#1414f0" stroke-width="2.8" stroke-dasharray="2 0.8"/>
<line x1="1132.95" y1="299.2" x2="1142.04" y2="299.2" stroke="#1414f0" stroke-width="2.8" stroke-dasharray="2 0.8"/>
<line x1="1338.39" y1="299.2" x2="1344.39" y2="299.2" stroke="#1414f0" stroke-width="2.8" stroke-dasharray="2 0.8"/>
<line x1="1359.38" y1="299.2" x2="1389.45" y2="299.2" stroke="#1414f0" stroke-width="2.8" stroke-dasharray="2 0.8"/>
<line x1="1415.71" y1="299.2" x2="1421.71" y2="299.2" stroke="#1414f0" stroke-width="2.8" stroke-dasharray="2 0.8"/>
<line x1="1464.31" y1="299.2" x2="1475.61" y2="299.2" stroke="#1414f0" stroke-width="2.8" stroke-dasharray="2 0.8"/>
<line x1="1477.34" y1="299.2" x2="1483.34" y2="299.2" stroke="#1414f0" stroke-width="2.8" stroke-dasharray="2 0.8"/>
<line x1="1498.91" y1="299.2" x2="1504.91" y2="299.2" stroke="#1414f0" stroke-width="2.8" stroke-dasharray="2 0.8"/>
<line x1="1512.16" y1="299.2" x2="1518.16" y2="299.2" stroke="#1414f0" stroke-width="2.8" stroke-dasharray="2 0.8"/>
<line x1="1520.73" y1="299.2" x2="1529.48" y2="299.2" stroke="#1414f0" stroke-width="2.8" stroke-dasharray="2 0.8"/>
<line x1="1531.07" y1="299.2" x2="1545.96" y2="299.2" stroke="#1414f0" stroke-width="2.8" stroke-dasharray="2 0.8"/>
<line x1="1547.72" y1="299.2" x2="1553.72" y2="299.2" stroke="#1414f0" stroke-width="2.8" stroke-dasharray="2 0.8"/>
<line x1="1558.55" y1="299.2" x2="1570.37" y2="299.2" stroke="#1414f0" stroke-width="2.8" stroke-dasharray="2 0.8"/>
<line x1="1571.97" y1="299.2" x2="1656.69" y2="299.2" stroke="#1414f0" stroke-width="2.8" stroke-dasharray="2 0.8"/>
<line x1="1680.27" y1="299.2" x2="1691.11" y2="299.2" stroke="#1414f0" stroke-width="2.8" stroke-dasharray="2 0.8"/>
<line x1="1719.13" y1="299.2" x2="1895.2" y2="299.2" stroke="#1414f0" stroke-width="2.8" stroke-dasharray="2 0.8"/>
<line x1="1897.32" y1="299.2" x2="1909.63" y2="299.2" stroke="#1414f0" stroke-width="2.8" stroke-dasharray="2 0.8"/>
<line x1="1911.33" y1="299.2" x2="1920.55" y2="299.2" stroke="#1414f0" stroke-width="2.8" stroke-dasharray="2 0.8"/>
<line x1="1926.32" y1="299.2" x2="1932.32" y2="299.2" stroke="#1414f0" stroke-width="2.8" stroke-dasharray="2 0.8"/>
<line x1="1934.45" y1="299.2" x2="1948.85" y2="299.2" stroke="#1414f0" stroke-width="2.8" stroke-dasharray="2 0.8"/>
<g font-family="'Liberation Sans', Arial, sans-serif" font-size="11.5" fill="#2a2a2a"><text x="1086.8" y="303.64" text-anchor="end">0</text><text x="1086.8" y="279.52" text-anchor="end">10</text><text x="1086.8" y="255.4" text-anchor="end">20</text><text x="1086.8" y="231.28" text-anchor="end">30</text><text x="1086.8" y="207.16" text-anchor="end">40</text><text x="1086.8" y="183.04" text-anchor="end">50</text><text x="1086.8" y="158.92" text-anchor="end">60</text><text x="1086.8" y="134.8" text-anchor="end">70</text><text x="1086.8" y="110.68" text-anchor="end">80</text><text x="1086.8" y="86.56" text-anchor="end">90</text><text x="1086.8" y="62.44" text-anchor="end">100</text><text x="1097.1" y="317" text-anchor="middle">0</text><text x="1139.79" y="317" text-anchor="middle">1</text><text x="1182.48" y="317" text-anchor="middle">2</text><text x="1225.17" y="317" text-anchor="middle">3</text><text x="1267.86" y="317" text-anchor="middle">4</text><text x="1310.55" y="317" text-anchor="middle">5</text><text x="1353.24" y="317" text-anchor="middle">6</text><text x="1395.93" y="317" text-anchor="middle">7</text><text x="1438.62" y="317" text-anchor="middle">8</text><text x="1481.31" y="317" text-anchor="middle">9</text><text x="1524" y="317" text-anchor="middle">10</text><text x="1566.69" y="317" text-anchor="middle">11</text><text x="1609.38" y="317" text-anchor="middle">12</text><text x="1652.07" y="317" text-anchor="middle">13</text><text x="1694.76" y="317" text-anchor="middle">14</text><text x="1737.45" y="317" text-anchor="middle">15</text><text x="1780.14" y="317" text-anchor="middle">16</text><text x="1822.83" y="317" text-anchor="middle">17</text><text x="1865.52" y="317" text-anchor="middle">18</text><text x="1908.21" y="317" text-anchor="middle">19</text></g>
<text x="1523.2" y="330.7" text-anchor="middle" font-family="'Liberation Sans', Arial, sans-serif" font-size="11.4" fill="#2a2a2a">Time (min)</text>
<line x1="1622.33" y1="71.03" x2="1648.19" y2="72.33" stroke="#6cc46c" stroke-width="1.1"/>
<line x1="1653.69" y1="88.49" x2="1676.8" y2="87.68" stroke="#6cc46c" stroke-width="1.1"/>
<line x1="1709.94" y1="122.76" x2="1735.8" y2="124.05" stroke="#6cc46c" stroke-width="1.1"/>
<line x1="1619.42" y1="153.47" x2="1642.86" y2="154.44" stroke="#6cc46c" stroke-width="1.1"/>
<line x1="1709.13" y1="159.29" x2="1722.06" y2="166.89" stroke="#6cc46c" stroke-width="1.1"/>
<line x1="1614.57" y1="192.75" x2="1640.43" y2="194.36" stroke="#6cc46c" stroke-width="1.1"/>
<line x1="1604.06" y1="210.04" x2="1629.92" y2="211.34" stroke="#6cc46c" stroke-width="1.1"/>
<line x1="1601.64" y1="227.5" x2="1627.5" y2="228.79" stroke="#6cc46c" stroke-width="1.1"/>
<line x1="1595.98" y1="245.28" x2="1621.84" y2="246.57" stroke="#6cc46c" stroke-width="1.1"/>
<line x1="1540.22" y1="261.12" x2="1553.15" y2="259.83" stroke="#6cc46c" stroke-width="1.1"/>
<line x1="1753.23" y1="105.84" x2="1770.74" y2="104.72" stroke="#6cc46c" stroke-width="1.1"/>
<line x1="1797.36" y1="180.09" x2="1818.37" y2="178.97" stroke="#6cc46c" stroke-width="1.1"/>
<line x1="1802.96" y1="196.9" x2="1823" y2="195.5" stroke="#6cc46c" stroke-width="1.1"/>
<line x1="1810.67" y1="226.31" x2="1828.18" y2="224.91" stroke="#6cc46c" stroke-width="1.1"/>
<line x1="1817.67" y1="245.65" x2="1840.37" y2="243.83" stroke="#6cc46c" stroke-width="1.1"/>
<line x1="1865.02" y1="254.33" x2="1890.52" y2="252.65" stroke="#6cc46c" stroke-width="1.1"/>
<line x1="1872.59" y1="266.66" x2="1890.52" y2="265.82" stroke="#6cc46c" stroke-width="1.1"/>
<g font-family="'Liberation Sans', Arial, sans-serif" font-size="11.3" fill="#161616" word-spacing="1.36"><text x="1116.71" y="286.96">RT: 0.87</text><text x="1321.71" y="240.57">RT: 5.69</text><text x="1366.77" y="251.62">RT: 6.72</text><text x="1399.47" y="263.77">RT: 7.48</text><text x="1452.84" y="267.1">RT: 8.74</text><text x="1482.74" y="253.04">RT: 9.43</text><text x="1529.94" y="259.5">RT: 10.32</text><text x="1572.93" y="245.28">RT: 12.24</text><text x="1578.43" y="227.82">RT: 12.37</text><text x="1581.01" y="210.04">RT: 12.43</text><text x="1591.84" y="193.56">RT: 12.67</text><text x="1596.69" y="153.15">RT: 12.73</text><text x="1599.6" y="71.52">RT: 12.86</text><text x="1653.27" y="87.68">RT: 12.98</text><text x="1659.73" y="141.02">RT: 13.67</text><text x="1686.4" y="159.29">RT: 14.59</text><text x="1686.73" y="122.76">RT: 14.90</text><text x="1722.91" y="65.92">RT: 15.13</text><text x="1748.13" y="104.72">RT: 15.32</text><text x="1769.42" y="133.58">RT: 16.22</text><text x="1795.76" y="179.39">RT: 16.35</text><text x="1800.66" y="195.5">RT: 16.47</text><text x="1805.56" y="224.91">RT: 16.65</text><text x="1817.89" y="243.83">RT: 16.82</text><text x="1867.9" y="253.63">RT: 17.92</text><text x="1867.9" y="265.82">RT: 18.11</text><text x="1894.52" y="276.75">RT: 19.15</text></g>
<path d="M1098.5 595.9 L1097.49 595.9 L1098.84 586.85 L1100.19 595.9 L1108.53 595.9 L1109.88 580.67 L1111.23 595.9 L1111.18 595.9 L1112.53 587.74 L1113.88 595.9 L1114.05 595.9 L1115.4 584.64 L1116.75 595.9 L1116.93 595.9 L1118.28 583.98 L1119.63 595.9 L1120.02 595.9 L1121.37 586.19 L1122.72 595.9 L1122.89 595.9 L1124.24 587.74 L1125.59 595.9 L1128.41 595.9 L1129.76 588.4 L1131.11 595.9 L1131.06 595.9 L1132.41 588.4 L1133.76 595.9 L1133.94 595.9 L1135.29 587.74 L1136.64 595.9 L1137.25 595.9 L1138.6 586.19 L1139.95 595.9 L1148.74 595.9 L1150.09 585.09 L1151.44 595.9 L1159.78 595.9 L1161.13 583.32 L1162.48 595.9 L1162.65 595.9 L1164 585.09 L1165.35 595.9 L1173.7 595.9 L1175.05 587.3 L1176.4 595.9 L1177.01 595.9 L1178.36 581.77 L1179.71 595.9 L1179.66 595.9 L1181.01 588.4 L1182.36 595.9 L1188.06 595.9 L1189.41 583.98 L1190.76 595.9 L1191.37 595.9 L1192.72 585.09 L1194.07 595.9 L1202.42 595.9 L1203.77 587.74 L1205.12 595.9 L1205.29 595.9 L1206.64 587.3 L1207.99 595.9 L1216.78 595.9 L1218.12 588.4 L1219.47 595.9 L1273.77 595.9 L1275.12 330.6 L1276.47 595.9 L1279.07 595.9 L1280.42 452.54 L1281.77 595.9 L1416.69 595.9 L1418.04 573.6 L1419.39 595.9 L1492.24 595.9 L1493.59 573.75 L1494.94 595.9 L1497.28 595.9 L1498.63 582.86 L1499.98 595.9 L1558.5 595.9 L1559.85 564.64 L1561.2 595.9 L1571.81 595.9 L1573.16 575.85 L1574.51 595.9 L1575.03 595.9 L1576.38 584.96 L1577.73 595.9 L1582.59 595.9 L1583.94 573.05 L1585.29 595.9 L1585.4 595.9 L1586.75 579.35 L1588.1 595.9 L1591 595.9 L1592.35 572.35 L1593.7 595.9 L1599.12 595.9 L1600.47 571.65 L1601.82 595.9 L1601.93 595.9 L1603.28 558.34 L1604.63 595.9 L1604.45 595.9 L1605.8 549.94 L1607.15 595.9 L1612.01 595.9 L1613.36 524.02 L1614.71 595.9 L1614.53 595.9 L1615.88 538.73 L1617.23 595.9 L1617.34 595.9 L1618.69 508.61 L1620.04 595.9 L1619.86 595.9 L1621.21 523.32 L1622.56 595.9 L1622.24 595.9 L1623.59 496.7 L1624.94 595.9 L1625.04 595.9 L1626.39 499.5 L1627.74 595.9 L1627.42 595.9 L1628.77 515.61 L1630.12 595.9 L1629.94 595.9 L1631.29 437.17 L1632.64 595.9 L1632.74 595.9 L1634.09 454.4 L1635.44 595.9 L1652.36 595.9 L1653.71 406.07 L1655.06 595.9 L1671.69 595.9 L1673.04 496 L1674.39 595.9 L1678.55 595.9 L1679.9 475.69 L1681.25 595.9 L1681.07 595.9 L1682.42 491.8 L1683.77 595.9 L1682.48 595.9 L1683.83 521.92 L1685.18 595.9 L1717.22 595.9 L1718.57 498.1 L1719.92 595.9 L1723.91 595.9 L1725.26 442.74 L1726.61 595.9 L1725.57 595.9 L1726.92 492.54 L1728.27 595.9 L1727.64 595.9 L1728.99 430.98 L1730.34 595.9 L1730.13 595.9 L1731.48 390.17 L1732.83 595.9 L1735.25 595.9 L1736.6 438.59 L1737.95 595.9 L1737.6 595.9 L1738.95 453.8 L1740.3 595.9 L1739.68 595.9 L1741.03 467.64 L1742.38 595.9 L1747.42 595.9 L1748.77 453.11 L1750.12 595.9 L1749.77 595.9 L1751.12 490.46 L1752.47 595.9 L1752.26 595.9 L1753.61 511.9 L1754.96 595.9 L1754.89 595.9 L1756.24 455.19 L1757.59 595.9 L1759.46 595.9 L1760.81 464.18 L1762.16 595.9 L1767.06 595.9 L1768.41 464.87 L1769.76 595.9 L1777.02 595.9 L1778.37 444.12 L1779.72 595.9 L1779.79 595.9 L1781.14 495.3 L1782.49 595.9 L1782.28 595.9 L1783.63 471.1 L1784.98 595.9 L1784.77 595.9 L1786.12 478.7 L1787.47 595.9 L1789.47 595.9 L1790.82 526.43 L1792.17 595.9 L1794.45 595.9 L1795.8 511.9 L1797.15 595.9 L1799.57 595.9 L1800.92 548.56 L1802.27 595.9 L1802.06 595.9 L1803.41 536.11 L1804.76 595.9 L1804.69 595.9 L1806.04 511.9 L1807.39 595.9 L1807.18 595.9 L1808.53 535.42 L1809.88 595.9 L1809.53 595.9 L1810.88 531.27 L1812.23 595.9 L1817.14 595.9 L1818.49 523.66 L1819.84 595.9 L1822.4 595.9 L1823.75 565.85 L1825.1 595.9 L1824.89 595.9 L1826.24 543.72 L1827.59 595.9 L1827.65 595.9 L1829 547.18 L1830.35 595.9 L1830.14 595.9 L1831.49 549.94 L1832.84 595.9 L1835.12 595.9 L1836.47 561.7 L1837.82 595.9 L1840.38 595.9 L1841.73 565.85 L1843.08 595.9 L1845.5 595.9 L1846.85 556.17 L1848.2 595.9 L1851.17 595.9 L1852.52 557.55 L1853.87 595.9 L1856.29 595.9 L1857.64 571.38 L1858.99 595.9 L1863.89 595.9 L1865.24 576.22 L1866.59 595.9 L1866.38 595.9 L1867.73 570 L1869.08 595.9 L1869.15 595.9 L1870.5 574.15 L1871.85 595.9 L1871.92 595.9 L1873.27 578.3 L1874.62 595.9 L1877.04 595.9 L1878.39 572.77 L1879.74 595.9 L1879.8 595.9 L1881.15 567.23 L1882.5 595.9 L1885.34 595.9 L1886.69 580.37 L1888.04 595.9 L1890.45 595.9 L1891.8 572.77 L1893.15 595.9 L1893.22 595.9 L1894.57 578.99 L1895.92 595.9 L1898.48 595.9 L1899.83 583.83 L1901.18 595.9 L1901.94 595.9 L1903.29 577.61 L1904.64 595.9 L1913 595.9 L1914.35 575.53 L1915.7 595.9 L1921.3 595.9 L1922.65 582.45 L1924 595.9 L1926.56 595.9 L1927.91 582.86 L1929.26 595.9 L1929.6 595.9 L1930.95 585.63 L1932.3 595.9 L1937.8 595.9" fill="#dfa4a4" fill-opacity="0.55" stroke="#861010" stroke-width="0.9" stroke-linejoin="miter" stroke-miterlimit="30"/>
<line x1="1098.5" y1="329.3" x2="1098.5" y2="602.4" stroke="#3a3a3a" stroke-width="1.3"/>
<path d="M1091.9 595.9H1098.5M1094.1 590.57H1098.5M1094.1 585.24H1098.5M1094.1 579.9H1098.5M1094.1 574.57H1098.5M1091.9 569.24H1098.5M1094.1 563.91H1098.5M1094.1 558.58H1098.5M1094.1 553.24H1098.5M1094.1 547.91H1098.5M1091.9 542.58H1098.5M1094.1 537.25H1098.5M1094.1 531.92H1098.5M1094.1 526.58H1098.5M1094.1 521.25H1098.5M1091.9 515.92H1098.5M1094.1 510.59H1098.5M1094.1 505.26H1098.5M1094.1 499.92H1098.5M1094.1 494.59H1098.5M1091.9 489.26H1098.5M1094.1 483.93H1098.5M1094.1 478.6H1098.5M1094.1 473.26H1098.5M1094.1 467.93H1098.5M1091.9 462.6H1098.5M1094.1 457.27H1098.5M1094.1 451.94H1098.5M1094.1 446.6H1098.5M1094.1 441.27H1098.5M1091.9 435.94H1098.5M1094.1 430.61H1098.5M1094.1 425.28H1098.5M1094.1 419.94H1098.5M1094.1 414.61H1098.5M1091.9 409.28H1098.5M1094.1 403.95H1098.5M1094.1 398.62H1098.5M1094.1 393.28H1098.5M1094.1 387.95H1098.5M1091.9 382.62H1098.5M1094.1 377.29H1098.5M1094.1 371.96H1098.5M1094.1 366.62H1098.5M1094.1 361.29H1098.5M1091.9 355.96H1098.5M1094.1 350.63H1098.5M1094.1 345.3H1098.5M1094.1 339.96H1098.5M1094.1 334.63H1098.5M1091.9 329.3H1098.5" stroke="#3a3a3a" stroke-width="1.35"/>
<path d="M1106.89 595.9V600.3M1115.28 595.9V600.3M1123.66 595.9V600.3M1132.05 595.9V600.3M1140.44 595.9V602.5M1148.83 595.9V600.3M1157.22 595.9V600.3M1165.6 595.9V600.3M1173.99 595.9V600.3M1182.38 595.9V602.5M1190.77 595.9V600.3M1199.16 595.9V600.3M1207.54 595.9V600.3M1215.93 595.9V600.3M1224.32 595.9V602.5M1232.71 595.9V600.3M1241.1 595.9V600.3M1249.48 595.9V600.3M1257.87 595.9V600.3M1266.26 595.9V602.5M1274.65 595.9V600.3M1283.04 595.9V600.3M1291.42 595.9V600.3M1299.81 595.9V600.3M1308.2 595.9V602.5M1316.59 595.9V600.3M1324.98 595.9V600.3M1333.36 595.9V600.3M1341.75 595.9V600.3M1350.14 595.9V602.5M1358.53 595.9V600.3M1366.92 595.9V600.3M1375.3 595.9V600.3M1383.69 595.9V600.3M1392.08 595.9V602.5M1400.47 595.9V600.3M1408.86 595.9V600.3M1417.24 595.9V600.3M1425.63 595.9V600.3M1434.02 595.9V602.5M1442.41 595.9V600.3M1450.8 595.9V600.3M1459.18 595.9V600.3M1467.57 595.9V600.3M1475.96 595.9V602.5M1484.35 595.9V600.3M1492.74 595.9V600.3M1501.12 595.9V600.3M1509.51 595.9V600.3M1517.9 595.9V602.5M1526.29 595.9V600.3M1534.68 595.9V600.3M1543.06 595.9V600.3M1551.45 595.9V600.3M1559.84 595.9V602.5M1568.23 595.9V600.3M1576.62 595.9V600.3M1585 595.9V600.3M1593.39 595.9V600.3M1601.78 595.9V602.5M1610.17 595.9V600.3M1618.56 595.9V600.3M1626.94 595.9V600.3M1635.33 595.9V600.3M1643.72 595.9V602.5M1652.11 595.9V600.3M1660.5 595.9V600.3M1668.88 595.9V600.3M1677.27 595.9V600.3M1685.66 595.9V602.5M1694.05 595.9V600.3M1702.44 595.9V600.3M1710.82 595.9V600.3M1719.21 595.9V600.3M1727.6 595.9V602.5M1735.99 595.9V600.3M1744.38 595.9V600.3M1752.76 595.9V600.3M1761.15 595.9V600.3M1769.54 595.9V602.5M1777.93 595.9V600.3M1786.32 595.9V600.3M1794.7 595.9V600.3M1803.09 595.9V600.3M1811.48 595.9V602.5M1819.87 595.9V600.3M1828.26 595.9V600.3M1836.64 595.9V600.3M1845.03 595.9V600.3M1853.42 595.9V602.5M1861.81 595.9V600.3M1870.2 595.9V600.3M1878.58 595.9V600.3M1886.97 595.9V600.3M1895.36 595.9V602.5M1903.75 595.9V600.3M1912.14 595.9V600.3M1920.52 595.9V600.3M1928.91 595.9V600.3M1937.3 595.9V602.5" stroke="#3a3a3a" stroke-width="1.35"/>
<line x1="1098.5" y1="595.9" x2="1937.8" y2="595.9" stroke="#6e1414" stroke-width="1.7"/>
<line x1="1095.84" y1="595.6" x2="1101.84" y2="595.6" stroke="#1414f0" stroke-width="2.8" stroke-dasharray="2 0.8"/>
<line x1="1106.88" y1="595.6" x2="1141.6" y2="595.6" stroke="#1414f0" stroke-width="2.8" stroke-dasharray="2 0.8"/>
<line x1="1147.09" y1="595.6" x2="1153.09" y2="595.6" stroke="#1414f0" stroke-width="2.8" stroke-dasharray="2 0.8"/>
<line x1="1158.13" y1="595.6" x2="1167" y2="595.6" stroke="#1414f0" stroke-width="2.8" stroke-dasharray="2 0.8"/>
<line x1="1172.05" y1="595.6" x2="1184.01" y2="595.6" stroke="#1414f0" stroke-width="2.8" stroke-dasharray="2 0.8"/>
<line x1="1186.41" y1="595.6" x2="1195.72" y2="595.6" stroke="#1414f0" stroke-width="2.8" stroke-dasharray="2 0.8"/>
<line x1="1200.77" y1="595.6" x2="1209.64" y2="595.6" stroke="#1414f0" stroke-width="2.8" stroke-dasharray="2 0.8"/>
<line x1="1215.12" y1="595.6" x2="1221.12" y2="595.6" stroke="#1414f0" stroke-width="2.8" stroke-dasharray="2 0.8"/>
<line x1="1272.12" y1="595.6" x2="1283.42" y2="595.6" stroke="#1414f0" stroke-width="2.8" stroke-dasharray="2 0.8"/>
<line x1="1415.04" y1="595.6" x2="1421.04" y2="595.6" stroke="#1414f0" stroke-width="2.8" stroke-dasharray="2 0.8"/>
<line x1="1490.59" y1="595.6" x2="1501.63" y2="595.6" stroke="#1414f0" stroke-width="2.8" stroke-dasharray="2 0.8"/>
<line x1="1556.85" y1="595.6" x2="1562.85" y2="595.6" stroke="#1414f0" stroke-width="2.8" stroke-dasharray="2 0.8"/>
<line x1="1570.16" y1="595.6" x2="1579.38" y2="595.6" stroke="#1414f0" stroke-width="2.8" stroke-dasharray="2 0.8"/>
<line x1="1580.94" y1="595.6" x2="1595.35" y2="595.6" stroke="#1414f0" stroke-width="2.8" stroke-dasharray="2 0.8"/>
<line x1="1597.47" y1="595.6" x2="1608.8" y2="595.6" stroke="#1414f0" stroke-width="2.8" stroke-dasharray="2 0.8"/>
<line x1="1610.36" y1="595.6" x2="1637.09" y2="595.6" stroke="#1414f0" stroke-width="2.8" stroke-dasharray="2 0.8"/>
<line x1="1650.71" y1="595.6" x2="1656.71" y2="595.6" stroke="#1414f0" stroke-width="2.8" stroke-dasharray="2 0.8"/>
<line x1="1670.04" y1="595.6" x2="1686.83" y2="595.6" stroke="#1414f0" stroke-width="2.8" stroke-dasharray="2 0.8"/>
<line x1="1715.57" y1="595.6" x2="1744.03" y2="595.6" stroke="#1414f0" stroke-width="2.8" stroke-dasharray="2 0.8"/>
<line x1="1745.77" y1="595.6" x2="1763.81" y2="595.6" stroke="#1414f0" stroke-width="2.8" stroke-dasharray="2 0.8"/>
<line x1="1765.41" y1="595.6" x2="1771.41" y2="595.6" stroke="#1414f0" stroke-width="2.8" stroke-dasharray="2 0.8"/>
<line x1="1775.37" y1="595.6" x2="1813.88" y2="595.6" stroke="#1414f0" stroke-width="2.8" stroke-dasharray="2 0.8"/>
<line x1="1815.49" y1="595.6" x2="1860.64" y2="595.6" stroke="#1414f0" stroke-width="2.8" stroke-dasharray="2 0.8"/>
<line x1="1862.24" y1="595.6" x2="1906.29" y2="595.6" stroke="#1414f0" stroke-width="2.8" stroke-dasharray="2 0.8"/>
<line x1="1911.35" y1="595.6" x2="1917.35" y2="595.6" stroke="#1414f0" stroke-width="2.8" stroke-dasharray="2 0.8"/>
<line x1="1919.65" y1="595.6" x2="1933.95" y2="595.6" stroke="#1414f0" stroke-width="2.8" stroke-dasharray="2 0.8"/>
<g font-family="'Liberation Sans', Arial, sans-serif" font-size="11.7" fill="#2a2a2a"><text x="1088.2" y="600.11" text-anchor="end">0</text><text x="1088.2" y="573.45" text-anchor="end">10</text><text x="1088.2" y="546.79" text-anchor="end">20</text><text x="1088.2" y="520.13" text-anchor="end">30</text><text x="1088.2" y="493.47" text-anchor="end">40</text><text x="1088.2" y="466.81" text-anchor="end">50</text><text x="1088.2" y="440.15" text-anchor="end">60</text><text x="1088.2" y="413.49" text-anchor="end">70</text><text x="1088.2" y="386.83" text-anchor="end">80</text><text x="1088.2" y="360.17" text-anchor="end">90</text><text x="1088.2" y="333.51" text-anchor="end">100</text><text x="1097.3" y="614.6" text-anchor="middle">0</text><text x="1139.24" y="614.6" text-anchor="middle">1</text><text x="1181.18" y="614.6" text-anchor="middle">2</text><text x="1223.12" y="614.6" text-anchor="middle">3</text><text x="1265.06" y="614.6" text-anchor="middle">4</text><text x="1307" y="614.6" text-anchor="middle">5</text><text x="1348.94" y="614.6" text-anchor="middle">6</text><text x="1390.88" y="614.6" text-anchor="middle">7</text><text x="1432.82" y="614.6" text-anchor="middle">8</text><text x="1474.76" y="614.6" text-anchor="middle">9</text><text x="1516.7" y="614.6" text-anchor="middle">10</text><text x="1558.64" y="614.6" text-anchor="middle">11</text><text x="1600.58" y="614.6" text-anchor="middle">12</text><text x="1642.52" y="614.6" text-anchor="middle">13</text><text x="1684.46" y="614.6" text-anchor="middle">14</text><text x="1726.4" y="614.6" text-anchor="middle">15</text><text x="1768.34" y="614.6" text-anchor="middle">16</text><text x="1810.28" y="614.6" text-anchor="middle">17</text><text x="1852.22" y="614.6" text-anchor="middle">18</text><text x="1894.16" y="614.6" text-anchor="middle">19</text><text x="1936.1" y="614.6" text-anchor="middle">20</text></g>
<text x="1519.6" y="628.9" text-anchor="middle" font-family="'Liberation Sans', Arial, sans-serif" font-size="11.4" fill="#2a2a2a">Time (min)</text>
<line x1="1280.42" y1="452.98" x2="1298.09" y2="451.44" stroke="#6cc46c" stroke-width="1.1"/>
<line x1="1110.32" y1="578.9" x2="1122.69" y2="578.02" stroke="#6cc46c" stroke-width="1.1"/>
<line x1="1205.98" y1="585.09" x2="1221.44" y2="583.54" stroke="#6cc46c" stroke-width="1.1"/>
<line x1="1625.97" y1="435.34" x2="1631.01" y2="436.75" stroke="#6cc46c" stroke-width="1.1"/>
<line x1="1703.02" y1="428.48" x2="1728.65" y2="429.74" stroke="#6cc46c" stroke-width="1.1"/>
<line x1="1603.28" y1="493.9" x2="1623.59" y2="496" stroke="#6cc46c" stroke-width="1.1"/>
<line x1="1590.67" y1="522.2" x2="1613.08" y2="524.02" stroke="#6cc46c" stroke-width="1.1"/>
<line x1="1585.34" y1="547.13" x2="1605.38" y2="548.81" stroke="#6cc46c" stroke-width="1.1"/>
<line x1="1736.32" y1="437.2" x2="1756.66" y2="435.82" stroke="#6cc46c" stroke-width="1.1"/>
<line x1="1778.79" y1="443.43" x2="1806.46" y2="441.35" stroke="#6cc46c" stroke-width="1.1"/>
<line x1="1783.63" y1="470.4" x2="1803.69" y2="468.61" stroke="#6cc46c" stroke-width="1.1"/>
<line x1="1796.08" y1="510.93" x2="1811.02" y2="509.55" stroke="#6cc46c" stroke-width="1.1"/>
<line x1="1826.51" y1="543.72" x2="1843.8" y2="541.92" stroke="#6cc46c" stroke-width="1.1"/>
<line x1="1852.52" y1="557.55" x2="1872.85" y2="556.17" stroke="#6cc46c" stroke-width="1.1"/>
<line x1="1891.8" y1="572.35" x2="1906.74" y2="570.69" stroke="#6cc46c" stroke-width="1.1"/>
<g font-family="'Liberation Sans', Arial, sans-serif" font-size="11.4" fill="#161616" word-spacing="1.37"><text x="1255.87" y="327.73">RT: 4.22</text><text x="1279.51" y="451.44">RT: 4.36</text><text x="1103.45" y="578.46">RT: 0.28</text><text x="1159.34" y="578.9">RT: 1.91</text><text x="1202.85" y="583.98">RT: 2.59</text><text x="1398.8" y="570.06">RT: 7.62</text><text x="1474.89" y="571.23">RT: 9.42</text><text x="1537.64" y="562.54">RT: 11.01</text><text x="1562.86" y="546.85">RT: 12.10</text><text x="1568.04" y="522.2">RT: 12.28</text><text x="1580.65" y="494.18">RT: 12.53</text><text x="1603.76" y="435.06">RT: 12.71</text><text x="1631.08" y="403.55">RT: 13.23</text><text x="1657.28" y="473.17">RT: 13.87</text><text x="1680.81" y="428.06">RT: 15.04</text><text x="1716.32" y="388.1">RT: 15.10</text><text x="1734.3" y="435.82">RT: 15.21</text><text x="1784.1" y="441.35">RT: 16.21</text><text x="1781.75" y="469.02">RT: 16.33</text><text x="1788.25" y="509.83">RT: 16.63</text><text x="1821.73" y="542.33">RT: 17.36</text><text x="1850.5" y="556.86">RT: 17.98</text><text x="1884.81" y="570.69">RT: 18.92</text></g>
<path d="M1335.88 350.03 L1289.11 369.65 L1286.64 363.75 L1272.9 379.6 L1293.83 380.9 L1291.36 375 L1338.12 355.37 Z" fill="#0070c0"/>
<path d="M1098.5 883.9 L1108.53 883.9 L1109.88 879.56 L1111.23 883.9 L1116.93 883.9 L1118.28 878.02 L1119.63 883.9 L1122.23 883.9 L1123.58 878.02 L1124.93 883.9 L1125.1 883.9 L1126.45 880.67 L1127.8 883.9 L1131.73 883.9 L1133.08 880.67 L1134.43 883.9 L1153.15 883.9 L1154.5 881.11 L1155.85 883.9 L1164.86 883.9 L1166.21 881.11 L1167.56 883.9 L1174.36 883.9 L1175.71 879.56 L1177.06 883.9 L1179.66 883.9 L1181.01 881.11 L1182.36 883.9 L1188.5 883.9 L1189.85 879.56 L1191.2 883.9 L1202.42 883.9 L1203.77 880.23 L1205.12 883.9 L1209.71 883.9 L1211.06 881.11 L1212.41 883.9 L1271.56 883.9 L1272.91 787.89 L1274.26 883.9 L1273.77 883.9 L1275.12 639.44 L1276.47 883.9 L1276.86 883.9 L1278.21 680.75 L1279.56 883.9 L1278.19 883.9 L1279.54 815.5 L1280.89 883.9 L1466.4 883.9 L1467.75 874.48 L1469.1 883.9 L1531.67 883.9 L1533.02 868.45 L1534.37 883.9 L1539.43 883.9 L1540.78 879.31 L1542.13 883.9 L1542.01 883.9 L1543.36 874.66 L1544.71 883.9 L1544.6 883.9 L1545.95 877.24 L1547.3 883.9 L1555.46 883.9 L1556.81 876.21 L1558.16 883.9 L1574.34 883.9 L1575.69 872.84 L1577.04 883.9 L1579.51 883.9 L1580.86 868.45 L1582.21 883.9 L1585.2 883.9 L1586.55 871.03 L1587.9 883.9 L1590.37 883.9 L1591.72 876.21 L1593.07 883.9 L1616.24 883.9 L1617.59 849.57 L1618.94 883.9 L1619.08 883.9 L1620.43 856.55 L1621.78 883.9 L1621.67 883.9 L1623.02 835.86 L1624.37 883.9 L1626.58 883.9 L1627.93 823.71 L1629.28 883.9 L1629.43 883.9 L1630.78 827.07 L1632.13 883.9 L1632.01 883.9 L1633.36 834.05 L1634.71 883.9 L1663.05 883.9 L1664.4 856.03 L1665.75 883.9 L1667.44 883.9 L1668.79 848.79 L1670.14 883.9 L1713.48 883.9 L1714.83 861.21 L1716.18 883.9 L1728.22 883.9 L1729.57 815.95 L1730.92 883.9 L1748.39 883.9 L1749.74 853.45 L1751.09 883.9 L1750.98 883.9 L1752.33 837.93 L1753.68 883.9 L1753.56 883.9 L1754.91 855.52 L1756.26 883.9 L1770.89 883.9 L1772.24 840 L1773.59 883.9 L1773.48 883.9 L1774.83 847.76 L1776.18 883.9 L1778.65 883.9 L1780 848.28 L1781.35 883.9 L1795.98 883.9 L1797.33 853.97 L1798.68 883.9 L1798.56 883.9 L1799.91 854.74 L1801.26 883.9 L1803.74 883.9 L1805.09 861.72 L1806.44 883.9 L1808.39 883.9 L1809.74 859.91 L1811.09 883.9 L1824.43 883.9 L1825.78 860.69 L1827.13 883.9 L1829.6 883.9 L1830.95 872.84 L1832.3 883.9 L1832.18 883.9 L1833.53 868.97 L1834.88 883.9 L1847.18 883.9 L1848.53 869.48 L1849.88 883.9 L1850.29 883.9 L1851.64 871.03 L1852.99 883.9 L1860.63 883.9 L1861.98 875.43 L1863.33 883.9 L1865.81 883.9 L1867.16 873.62 L1868.51 883.9 L1868.39 883.9 L1869.74 875.43 L1871.09 883.9 L1879.51 883.9 L1880.86 875.43 L1882.21 883.9 L1882.1 883.9 L1883.45 876.72 L1884.8 883.9 L1885.98 883.9 L1887.33 876.21 L1888.68 883.9 L1888.05 883.9 L1889.4 875.95 L1890.75 883.9 L1890.63 883.9 L1891.98 877.24 L1893.33 883.9 L1898.39 883.9 L1899.74 877.24 L1901.09 883.9 L1900.98 883.9 L1902.33 877.24 L1903.68 883.9 L1904.6 883.9 L1905.95 878.53 L1907.3 883.9 L1907.96 883.9 L1909.31 878.53 L1910.66 883.9 L1910.03 883.9 L1911.38 878.02 L1912.73 883.9 L1921.41 883.9 L1922.76 878.79 L1924.11 883.9 L1926.58 883.9 L1927.93 880.6 L1929.28 883.9 L1932.53 883.9 L1933.88 878.79 L1935.23 883.9 L1935.12 883.9 L1936.47 880.6 L1937.82 883.9 L1937.8 883.9" fill="#dfa4a4" fill-opacity="0.55" stroke="#861010" stroke-width="0.9" stroke-linejoin="miter" stroke-miterlimit="30"/>
<line x1="1098.5" y1="639.5" x2="1098.5" y2="890.4" stroke="#3a3a3a" stroke-width="1.3"/>
<path d="M1091.6 883.9H1098.5M1093.8 879.01H1098.5M1093.8 874.12H1098.5M1093.8 869.24H1098.5M1093.8 864.35H1098.5M1091.6 859.46H1098.5M1093.8 854.57H1098.5M1093.8 849.68H1098.5M1093.8 844.8H1098.5M1093.8 839.91H1098.5M1091.6 835.02H1098.5M1093.8 830.13H1098.5M1093.8 825.24H1098.5M1093.8 820.36H1098.5M1093.8 815.47H1098.5M1091.6 810.58H1098.5M1093.8 805.69H1098.5M1093.8 800.8H1098.5M1093.8 795.92H1098.5M1093.8 791.03H1098.5M1091.6 786.14H1098.5M1093.8 781.25H1098.5M1093.8 776.36H1098.5M1093.8 771.48H1098.5M1093.8 766.59H1098.5M1091.6 761.7H1098.5M1093.8 756.81H1098.5M1093.8 751.92H1098.5M1093.8 747.04H1098.5M1093.8 742.15H1098.5M1091.6 737.26H1098.5M1093.8 732.37H1098.5M1093.8 727.48H1098.5M1093.8 722.6H1098.5M1093.8 717.71H1098.5M1091.6 712.82H1098.5M1093.8 707.93H1098.5M1093.8 703.04H1098.5M1093.8 698.16H1098.5M1093.8 693.27H1098.5M1091.6 688.38H1098.5M1093.8 683.49H1098.5M1093.8 678.6H1098.5M1093.8 673.72H1098.5M1093.8 668.83H1098.5M1091.6 663.94H1098.5M1093.8 659.05H1098.5M1093.8 654.16H1098.5M1093.8 649.28H1098.5M1093.8 644.39H1098.5M1091.6 639.5H1098.5" stroke="#3a3a3a" stroke-width="1.35"/>
<path d="M1106.89 883.9V888.6M1115.28 883.9V888.6M1123.66 883.9V888.6M1132.05 883.9V888.6M1140.44 883.9V890.8M1148.83 883.9V888.6M1157.22 883.9V888.6M1165.6 883.9V888.6M1173.99 883.9V888.6M1182.38 883.9V890.8M1190.77 883.9V888.6M1199.16 883.9V888.6M1207.54 883.9V888.6M1215.93 883.9V888.6M1224.32 883.9V890.8M1232.71 883.9V888.6M1241.1 883.9V888.6M1249.48 883.9V888.6M1257.87 883.9V888.6M1266.26 883.9V890.8M1274.65 883.9V888.6M1283.04 883.9V888.6M1291.42 883.9V888.6M1299.81 883.9V888.6M1308.2 883.9V890.8M1316.59 883.9V888.6M1324.98 883.9V888.6M1333.36 883.9V888.6M1341.75 883.9V888.6M1350.14 883.9V890.8M1358.53 883.9V888.6M1366.92 883.9V888.6M1375.3 883.9V888.6M1383.69 883.9V888.6M1392.08 883.9V890.8M1400.47 883.9V888.6M1408.86 883.9V888.6M1417.24 883.9V888.6M1425.63 883.9V888.6M1434.02 883.9V890.8M1442.41 883.9V888.6M1450.8 883.9V888.6M1459.18 883.9V888.6M1467.57 883.9V888.6M1475.96 883.9V890.8M1484.35 883.9V888.6M1492.74 883.9V888.6M1501.12 883.9V888.6M1509.51 883.9V888.6M1517.9 883.9V890.8M1526.29 883.9V888.6M1534.68 883.9V888.6M1543.06 883.9V888.6M1551.45 883.9V888.6M1559.84 883.9V890.8M1568.23 883.9V888.6M1576.62 883.9V888.6M1585 883.9V888.6M1593.39 883.9V888.6M1601.78 883.9V890.8M1610.17 883.9V888.6M1618.56 883.9V888.6M1626.94 883.9V888.6M1635.33 883.9V888.6M1643.72 883.9V890.8M1652.11 883.9V888.6M1660.5 883.9V888.6M1668.88 883.9V888.6M1677.27 883.9V888.6M1685.66 883.9V890.8M1694.05 883.9V888.6M1702.44 883.9V888.6M1710.82 883.9V888.6M1719.21 883.9V888.6M1727.6 883.9V890.8M1735.99 883.9V888.6M1744.38 883.9V888.6M1752.76 883.9V888.6M1761.15 883.9V888.6M1769.54 883.9V890.8M1777.93 883.9V888.6M1786.32 883.9V888.6M1794.7 883.9V888.6M1803.09 883.9V888.6M1811.48 883.9V890.8M1819.87 883.9V888.6M1828.26 883.9V888.6M1836.64 883.9V888.6M1845.03 883.9V888.6M1853.42 883.9V890.8M1861.81 883.9V888.6M1870.2 883.9V888.6M1878.58 883.9V888.6M1886.97 883.9V888.6M1895.36 883.9V890.8M1903.75 883.9V888.6M1912.14 883.9V888.6M1920.52 883.9V888.6M1928.91 883.9V888.6M1937.3 883.9V890.8" stroke="#3a3a3a" stroke-width="1.35"/>
<line x1="1098.5" y1="883.9" x2="1937.8" y2="883.9" stroke="#6e1414" stroke-width="1.7"/>
<line x1="1106.88" y1="883.6" x2="1112.88" y2="883.6" stroke="#1414f0" stroke-width="2.8" stroke-dasharray="2 0.8"/>
<line x1="1115.28" y1="883.6" x2="1136.08" y2="883.6" stroke="#1414f0" stroke-width="2.8" stroke-dasharray="2 0.8"/>
<line x1="1151.5" y1="883.6" x2="1157.5" y2="883.6" stroke="#1414f0" stroke-width="2.8" stroke-dasharray="2 0.8"/>
<line x1="1163.21" y1="883.6" x2="1169.21" y2="883.6" stroke="#1414f0" stroke-width="2.8" stroke-dasharray="2 0.8"/>
<line x1="1172.71" y1="883.6" x2="1184.01" y2="883.6" stroke="#1414f0" stroke-width="2.8" stroke-dasharray="2 0.8"/>
<line x1="1186.85" y1="883.6" x2="1192.85" y2="883.6" stroke="#1414f0" stroke-width="2.8" stroke-dasharray="2 0.8"/>
<line x1="1200.77" y1="883.6" x2="1214.06" y2="883.6" stroke="#1414f0" stroke-width="2.8" stroke-dasharray="2 0.8"/>
<line x1="1269.91" y1="883.6" x2="1282.54" y2="883.6" stroke="#1414f0" stroke-width="2.8" stroke-dasharray="2 0.8"/>
<line x1="1464.75" y1="883.6" x2="1470.75" y2="883.6" stroke="#1414f0" stroke-width="2.8" stroke-dasharray="2 0.8"/>
<line x1="1530.02" y1="883.6" x2="1536.02" y2="883.6" stroke="#1414f0" stroke-width="2.8" stroke-dasharray="2 0.8"/>
<line x1="1537.78" y1="883.6" x2="1548.95" y2="883.6" stroke="#1414f0" stroke-width="2.8" stroke-dasharray="2 0.8"/>
<line x1="1553.81" y1="883.6" x2="1559.81" y2="883.6" stroke="#1414f0" stroke-width="2.8" stroke-dasharray="2 0.8"/>
<line x1="1572.69" y1="883.6" x2="1594.72" y2="883.6" stroke="#1414f0" stroke-width="2.8" stroke-dasharray="2 0.8"/>
<line x1="1614.59" y1="883.6" x2="1636.36" y2="883.6" stroke="#1414f0" stroke-width="2.8" stroke-dasharray="2 0.8"/>
<line x1="1661.4" y1="883.6" x2="1671.79" y2="883.6" stroke="#1414f0" stroke-width="2.8" stroke-dasharray="2 0.8"/>
<line x1="1711.83" y1="883.6" x2="1717.83" y2="883.6" stroke="#1414f0" stroke-width="2.8" stroke-dasharray="2 0.8"/>
<line x1="1726.57" y1="883.6" x2="1732.57" y2="883.6" stroke="#1414f0" stroke-width="2.8" stroke-dasharray="2 0.8"/>
<line x1="1746.74" y1="883.6" x2="1757.91" y2="883.6" stroke="#1414f0" stroke-width="2.8" stroke-dasharray="2 0.8"/>
<line x1="1769.24" y1="883.6" x2="1783" y2="883.6" stroke="#1414f0" stroke-width="2.8" stroke-dasharray="2 0.8"/>
<line x1="1794.33" y1="883.6" x2="1812.74" y2="883.6" stroke="#1414f0" stroke-width="2.8" stroke-dasharray="2 0.8"/>
<line x1="1822.78" y1="883.6" x2="1836.53" y2="883.6" stroke="#1414f0" stroke-width="2.8" stroke-dasharray="2 0.8"/>
<line x1="1845.53" y1="883.6" x2="1854.64" y2="883.6" stroke="#1414f0" stroke-width="2.8" stroke-dasharray="2 0.8"/>
<line x1="1858.98" y1="883.6" x2="1872.74" y2="883.6" stroke="#1414f0" stroke-width="2.8" stroke-dasharray="2 0.8"/>
<line x1="1877.86" y1="883.6" x2="1894.98" y2="883.6" stroke="#1414f0" stroke-width="2.8" stroke-dasharray="2 0.8"/>
<line x1="1896.74" y1="883.6" x2="1914.38" y2="883.6" stroke="#1414f0" stroke-width="2.8" stroke-dasharray="2 0.8"/>
<line x1="1919.76" y1="883.6" x2="1939.47" y2="883.6" stroke="#1414f0" stroke-width="2.8" stroke-dasharray="2 0.8"/>
<g font-family="'Liberation Sans', Arial, sans-serif" font-size="11.8" fill="#2a2a2a"><text x="1086" y="888.15" text-anchor="end">0</text><text x="1086" y="863.71" text-anchor="end">10</text><text x="1086" y="839.27" text-anchor="end">20</text><text x="1086" y="814.83" text-anchor="end">30</text><text x="1086" y="790.39" text-anchor="end">40</text><text x="1086" y="765.95" text-anchor="end">50</text><text x="1086" y="741.51" text-anchor="end">60</text><text x="1086" y="717.07" text-anchor="end">70</text><text x="1086" y="692.63" text-anchor="end">80</text><text x="1086" y="668.19" text-anchor="end">90</text><text x="1086" y="643.75" text-anchor="end">100</text><text x="1096.1" y="901.5" text-anchor="middle">0</text><text x="1138.04" y="901.5" text-anchor="middle">1</text><text x="1179.98" y="901.5" text-anchor="middle">2</text><text x="1221.92" y="901.5" text-anchor="middle">3</text><text x="1263.86" y="901.5" text-anchor="middle">4</text><text x="1305.8" y="901.5" text-anchor="middle">5</text><text x="1347.74" y="901.5" text-anchor="middle">6</text><text x="1389.68" y="901.5" text-anchor="middle">7</text><text x="1431.62" y="901.5" text-anchor="middle">8</text><text x="1473.56" y="901.5" text-anchor="middle">9</text><text x="1515.5" y="901.5" text-anchor="middle">10</text><text x="1557.44" y="901.5" text-anchor="middle">11</text><text x="1599.38" y="901.5" text-anchor="middle">12</text><text x="1641.32" y="901.5" text-anchor="middle">13</text><text x="1683.26" y="901.5" text-anchor="middle">14</text><text x="1725.2" y="901.5" text-anchor="middle">15</text><text x="1767.14" y="901.5" text-anchor="middle">16</text><text x="1809.08" y="901.5" text-anchor="middle">17</text><text x="1851.02" y="901.5" text-anchor="middle">18</text><text x="1892.96" y="901.5" text-anchor="middle">19</text><text x="1934.9" y="901.5" text-anchor="middle">20</text></g>
<text x="1515.8" y="914.7" text-anchor="middle" font-family="'Liberation Sans', Arial, sans-serif" font-size="11.25" fill="#2a2a2a">Time (min)</text>
<line x1="1278.87" y1="679.64" x2="1298.09" y2="678.1" stroke="#6cc46c" stroke-width="1.1"/>
<line x1="1253.03" y1="786.12" x2="1272.25" y2="787.89" stroke="#6cc46c" stroke-width="1.1"/>
<line x1="1279.98" y1="815.5" x2="1302.51" y2="814.4" stroke="#6cc46c" stroke-width="1.1"/>
<line x1="1212.6" y1="879.56" x2="1233.15" y2="878.02" stroke="#6cc46c" stroke-width="1.1"/>
<line x1="1600.26" y1="833.53" x2="1622.24" y2="834.83" stroke="#6cc46c" stroke-width="1.1"/>
<line x1="1752.84" y1="836.12" x2="1754.91" y2="834.83" stroke="#6cc46c" stroke-width="1.1"/>
<line x1="1595.09" y1="846.98" x2="1617.07" y2="848.28" stroke="#6cc46c" stroke-width="1.1"/>
<line x1="1780" y1="847.5" x2="1805.34" y2="845.69" stroke="#6cc46c" stroke-width="1.1"/>
<line x1="1702.41" y1="858.62" x2="1714.83" y2="860.43" stroke="#6cc46c" stroke-width="1.1"/>
<line x1="1810.52" y1="858.62" x2="1825.26" y2="857.33" stroke="#6cc46c" stroke-width="1.1"/>
<line x1="1580.86" y1="867.67" x2="1583.45" y2="866.38" stroke="#6cc46c" stroke-width="1.1"/>
<line x1="1849.31" y1="867.67" x2="1873.62" y2="866.9" stroke="#6cc46c" stroke-width="1.1"/>
<g font-family="'Liberation Sans', Arial, sans-serif" font-size="11.35" fill="#161616" word-spacing="1.36"><text x="1255.88" y="637.23">RT: 4.21</text><text x="1279.51" y="678.54">RT: 4.29</text><text x="1233.78" y="786.78">RT: 4.17</text><text x="1283.05" y="814.4">RT: 4.33</text><text x="1105" y="875.15">RT: 0.62</text><text x="1170.39" y="876.69">RT: 2.18</text><text x="1213.9" y="878.9">RT: 2.72</text><text x="1448.06" y="871.83">RT: 8.79</text><text x="1706.68" y="813.36">RT: 15.05</text><text x="1605.82" y="821.9">RT: 12.64</text><text x="1577.89" y="834.05">RT: 12.51</text><text x="1733.06" y="835.34">RT: 15.59</text><text x="1572.71" y="846.98">RT: 12.39</text><text x="1647.2" y="846.21">RT: 13.60</text><text x="1782.97" y="845.69">RT: 16.24</text><text x="1679.52" y="858.62">RT: 14.70</text><text x="1802.37" y="857.33">RT: 16.97</text><text x="1510.64" y="866.38">RT: 10.36</text><text x="1560.56" y="866.38">RT: 11.51</text><text x="1850.99" y="866.38">RT: 17.89</text></g>
<path d="M1350.17 626.13 L1302.38 646.39 L1299.88 640.5 L1286.2 656.4 L1307.14 657.62 L1304.64 651.73 L1352.43 631.47 Z" fill="#0070c0"/>
<path d="M1097.7 1131 L1112.95 1131 L1114.3 1127.53 L1115.65 1131 L1172.59 1131 L1173.94 1127.97 L1175.29 1131 L1192.48 1131 L1193.83 1129.3 L1195.18 1131 L1228.92 1131 L1230.27 1128.64 L1231.62 1131 L1273.77 1131 L1275.12 989.47 L1276.47 1131 L1276.86 1131 L1278.21 920.32 L1279.56 1131 L1278.63 1131 L1279.98 1012.22 L1281.33 1131 L1322.37 1131 L1323.72 1125.77 L1325.07 1131 L1498.82 1131 L1500.17 1128.36 L1501.52 1131 L1551.84 1131 L1553.19 1128.1 L1554.54 1131 L1576.15 1131 L1577.5 1127.07 L1578.85 1131 L1589.86 1131 L1591.21 1127.07 L1592.56 1131 L1600.2 1131 L1601.55 1127.07 L1602.9 1131 L1603.31 1131 L1604.66 1125.78 L1606.01 1131 L1611.06 1131 L1612.41 1126.29 L1613.76 1131 L1613.65 1131 L1615 1123.71 L1616.35 1131 L1623.99 1131 L1625.34 1119.31 L1626.69 1131 L1631.75 1131 L1633.1 1114.14 L1634.45 1131 L1634.34 1131 L1635.69 1111.55 L1637.04 1131 L1667.96 1131 L1669.31 1109.48 L1670.66 1131 L1682.96 1131 L1684.31 1109.48 L1685.66 1131 L1731.32 1131 L1732.67 1111.55 L1734.02 1131 L1739.34 1131 L1740.69 1098.1 L1742.04 1131 L1753.56 1131 L1754.91 1112.07 L1756.26 1131 L1770.37 1131 L1771.72 1110.26 L1773.07 1131 L1778.13 1131 L1779.48 1115.95 L1780.83 1131 L1785.89 1131 L1787.24 1117.76 L1788.59 1131 L1798.56 1131 L1799.91 1117.24 L1801.26 1131 L1805.81 1131 L1807.16 1116.72 L1808.51 1131 L1815.63 1131 L1816.98 1123.71 L1818.33 1131 L1820.81 1131 L1822.16 1125 L1823.51 1131 L1828.56 1131 L1829.91 1125.52 L1831.26 1131 L1833.74 1131 L1835.09 1126.29 L1836.44 1131 L1844.08 1131 L1845.43 1126.81 L1846.78 1131 L1854.43 1131 L1855.78 1125 L1857.13 1131 L1859.6 1131 L1860.95 1125.52 L1862.3 1131 L1878.22 1131 L1879.57 1126.81 L1880.92 1131 L1880.81 1131 L1882.16 1123.19 L1883.51 1131 L1891.93 1131 L1893.28 1128.1 L1894.63 1131 L1902.27 1131 L1903.62 1126.81 L1904.97 1131 L1905.37 1131 L1906.72 1128.1 L1908.07 1131 L1914.43 1131 L1915.78 1128.88 L1917.13 1131 L1940.29 1131 L1941.64 1128.88 L1942.99 1131 L1936 1131" fill="#dfa4a4" fill-opacity="0.55" stroke="#861010" stroke-width="0.9" stroke-linejoin="miter" stroke-miterlimit="30"/>
<line x1="1097.7" y1="919.3" x2="1097.7" y2="1137.5" stroke="#3a3a3a" stroke-width="1.3"/>
<path d="M1091.6 1131H1097.7M1093 1126.77H1097.7M1093 1122.53H1097.7M1093 1118.3H1097.7M1093 1114.06H1097.7M1091.6 1109.83H1097.7M1093 1105.6H1097.7M1093 1101.36H1097.7M1093 1097.13H1097.7M1093 1092.89H1097.7M1091.6 1088.66H1097.7M1093 1084.43H1097.7M1093 1080.19H1097.7M1093 1075.96H1097.7M1093 1071.72H1097.7M1091.6 1067.49H1097.7M1093 1063.26H1097.7M1093 1059.02H1097.7M1093 1054.79H1097.7M1093 1050.55H1097.7M1091.6 1046.32H1097.7M1093 1042.09H1097.7M1093 1037.85H1097.7M1093 1033.62H1097.7M1093 1029.38H1097.7M1091.6 1025.15H1097.7M1093 1020.92H1097.7M1093 1016.68H1097.7M1093 1012.45H1097.7M1093 1008.21H1097.7M1091.6 1003.98H1097.7M1093 999.75H1097.7M1093 995.51H1097.7M1093 991.28H1097.7M1093 987.04H1097.7M1091.6 982.81H1097.7M1093 978.58H1097.7M1093 974.34H1097.7M1093 970.11H1097.7M1093 965.87H1097.7M1091.6 961.64H1097.7M1093 957.41H1097.7M1093 953.17H1097.7M1093 948.94H1097.7M1093 944.7H1097.7M1091.6 940.47H1097.7M1093 936.24H1097.7M1093 932H1097.7M1093 927.77H1097.7M1093 923.53H1097.7M1091.6 919.3H1097.7" stroke="#3a3a3a" stroke-width="1.35"/>
<path d="M1106.08 1131V1135.7M1114.46 1131V1135.7M1122.84 1131V1135.7M1131.22 1131V1135.7M1139.6 1131V1137.1M1147.98 1131V1135.7M1156.36 1131V1135.7M1164.74 1131V1135.7M1173.12 1131V1135.7M1181.5 1131V1137.1M1189.88 1131V1135.7M1198.26 1131V1135.7M1206.64 1131V1135.7M1215.02 1131V1135.7M1223.4 1131V1137.1M1231.78 1131V1135.7M1240.16 1131V1135.7M1248.54 1131V1135.7M1256.92 1131V1135.7M1265.3 1131V1137.1M1273.68 1131V1135.7M1282.06 1131V1135.7M1290.44 1131V1135.7M1298.82 1131V1135.7M1307.2 1131V1137.1M1315.58 1131V1135.7M1323.96 1131V1135.7M1332.34 1131V1135.7M1340.72 1131V1135.7M1349.1 1131V1137.1M1357.48 1131V1135.7M1365.86 1131V1135.7M1374.24 1131V1135.7M1382.62 1131V1135.7M1391 1131V1137.1M1399.38 1131V1135.7M1407.76 1131V1135.7M1416.14 1131V1135.7M1424.52 1131V1135.7M1432.9 1131V1137.1M1441.28 1131V1135.7M1449.66 1131V1135.7M1458.04 1131V1135.7M1466.42 1131V1135.7M1474.8 1131V1137.1M1483.18 1131V1135.7M1491.56 1131V1135.7M1499.94 1131V1135.7M1508.32 1131V1135.7M1516.7 1131V1137.1M1525.08 1131V1135.7M1533.46 1131V1135.7M1541.84 1131V1135.7M1550.22 1131V1135.7M1558.6 1131V1137.1M1566.98 1131V1135.7M1575.36 1131V1135.7M1583.74 1131V1135.7M1592.12 1131V1135.7M1600.5 1131V1137.1M1608.88 1131V1135.7M1617.26 1131V1135.7M1625.64 1131V1135.7M1634.02 1131V1135.7M1642.4 1131V1137.1M1650.78 1131V1135.7M1659.16 1131V1135.7M1667.54 1131V1135.7M1675.92 1131V1135.7M1684.3 1131V1137.1M1692.68 1131V1135.7M1701.06 1131V1135.7M1709.44 1131V1135.7M1717.82 1131V1135.7M1726.2 1131V1137.1M1734.58 1131V1135.7M1742.96 1131V1135.7M1751.34 1131V1135.7M1759.72 1131V1135.7M1768.1 1131V1137.1M1776.48 1131V1135.7M1784.86 1131V1135.7M1793.24 1131V1135.7M1801.62 1131V1135.7M1810 1131V1137.1M1818.38 1131V1135.7M1826.76 1131V1135.7M1835.14 1131V1135.7M1843.52 1131V1135.7M1851.9 1131V1137.1M1860.28 1131V1135.7M1868.66 1131V1135.7M1877.04 1131V1135.7M1885.42 1131V1135.7M1893.8 1131V1137.1M1902.18 1131V1135.7M1910.56 1131V1135.7M1918.94 1131V1135.7M1927.32 1131V1135.7M1935.7 1131V1137.1" stroke="#3a3a3a" stroke-width="1.35"/>
<line x1="1097.7" y1="1131" x2="1936" y2="1131" stroke="#6e1414" stroke-width="1.7"/>
<line x1="1100" y1="1130.7" x2="1211" y2="1130.7" stroke="#1414f0" stroke-width="2.8" stroke-dasharray="2 0.8"/>
<line x1="1265" y1="1130.7" x2="1278" y2="1130.7" stroke="#1414f0" stroke-width="2.8" stroke-dasharray="2 0.8"/>
<line x1="1312" y1="1130.7" x2="1318" y2="1130.7" stroke="#1414f0" stroke-width="2.8" stroke-dasharray="2 0.8"/>
<line x1="1480" y1="1130.7" x2="1495" y2="1130.7" stroke="#1414f0" stroke-width="2.8" stroke-dasharray="2 0.8"/>
<line x1="1111.3" y1="1130.7" x2="1117.3" y2="1130.7" stroke="#1414f0" stroke-width="2.8" stroke-dasharray="2 0.8"/>
<line x1="1170.94" y1="1130.7" x2="1176.94" y2="1130.7" stroke="#1414f0" stroke-width="2.8" stroke-dasharray="2 0.8"/>
<line x1="1190.83" y1="1130.7" x2="1196.83" y2="1130.7" stroke="#1414f0" stroke-width="2.8" stroke-dasharray="2 0.8"/>
<line x1="1227.27" y1="1130.7" x2="1233.27" y2="1130.7" stroke="#1414f0" stroke-width="2.8" stroke-dasharray="2 0.8"/>
<line x1="1272.12" y1="1130.7" x2="1282.98" y2="1130.7" stroke="#1414f0" stroke-width="2.8" stroke-dasharray="2 0.8"/>
<line x1="1320.72" y1="1130.7" x2="1326.72" y2="1130.7" stroke="#1414f0" stroke-width="2.8" stroke-dasharray="2 0.8"/>
<line x1="1497.17" y1="1130.7" x2="1503.17" y2="1130.7" stroke="#1414f0" stroke-width="2.8" stroke-dasharray="2 0.8"/>
<line x1="1550.19" y1="1130.7" x2="1556.19" y2="1130.7" stroke="#1414f0" stroke-width="2.8" stroke-dasharray="2 0.8"/>
<line x1="1574.5" y1="1130.7" x2="1580.5" y2="1130.7" stroke="#1414f0" stroke-width="2.8" stroke-dasharray="2 0.8"/>
<line x1="1588.21" y1="1130.7" x2="1594.21" y2="1130.7" stroke="#1414f0" stroke-width="2.8" stroke-dasharray="2 0.8"/>
<line x1="1598.55" y1="1130.7" x2="1607.66" y2="1130.7" stroke="#1414f0" stroke-width="2.8" stroke-dasharray="2 0.8"/>
<line x1="1609.41" y1="1130.7" x2="1618" y2="1130.7" stroke="#1414f0" stroke-width="2.8" stroke-dasharray="2 0.8"/>
<line x1="1622.34" y1="1130.7" x2="1628.34" y2="1130.7" stroke="#1414f0" stroke-width="2.8" stroke-dasharray="2 0.8"/>
<line x1="1630.1" y1="1130.7" x2="1638.69" y2="1130.7" stroke="#1414f0" stroke-width="2.8" stroke-dasharray="2 0.8"/>
<line x1="1666.31" y1="1130.7" x2="1672.31" y2="1130.7" stroke="#1414f0" stroke-width="2.8" stroke-dasharray="2 0.8"/>
<line x1="1681.31" y1="1130.7" x2="1687.31" y2="1130.7" stroke="#1414f0" stroke-width="2.8" stroke-dasharray="2 0.8"/>
<line x1="1729.67" y1="1130.7" x2="1735.67" y2="1130.7" stroke="#1414f0" stroke-width="2.8" stroke-dasharray="2 0.8"/>
<line x1="1737.69" y1="1130.7" x2="1743.69" y2="1130.7" stroke="#1414f0" stroke-width="2.8" stroke-dasharray="2 0.8"/>
<line x1="1751.91" y1="1130.7" x2="1757.91" y2="1130.7" stroke="#1414f0" stroke-width="2.8" stroke-dasharray="2 0.8"/>
<line x1="1768.72" y1="1130.7" x2="1774.72" y2="1130.7" stroke="#1414f0" stroke-width="2.8" stroke-dasharray="2 0.8"/>
<line x1="1776.48" y1="1130.7" x2="1782.48" y2="1130.7" stroke="#1414f0" stroke-width="2.8" stroke-dasharray="2 0.8"/>
<line x1="1784.24" y1="1130.7" x2="1790.24" y2="1130.7" stroke="#1414f0" stroke-width="2.8" stroke-dasharray="2 0.8"/>
<line x1="1796.91" y1="1130.7" x2="1810.16" y2="1130.7" stroke="#1414f0" stroke-width="2.8" stroke-dasharray="2 0.8"/>
<line x1="1813.98" y1="1130.7" x2="1825.16" y2="1130.7" stroke="#1414f0" stroke-width="2.8" stroke-dasharray="2 0.8"/>
<line x1="1826.91" y1="1130.7" x2="1838.09" y2="1130.7" stroke="#1414f0" stroke-width="2.8" stroke-dasharray="2 0.8"/>
<line x1="1842.43" y1="1130.7" x2="1848.43" y2="1130.7" stroke="#1414f0" stroke-width="2.8" stroke-dasharray="2 0.8"/>
<line x1="1852.78" y1="1130.7" x2="1863.95" y2="1130.7" stroke="#1414f0" stroke-width="2.8" stroke-dasharray="2 0.8"/>
<line x1="1876.57" y1="1130.7" x2="1885.16" y2="1130.7" stroke="#1414f0" stroke-width="2.8" stroke-dasharray="2 0.8"/>
<line x1="1890.28" y1="1130.7" x2="1896.28" y2="1130.7" stroke="#1414f0" stroke-width="2.8" stroke-dasharray="2 0.8"/>
<line x1="1900.62" y1="1130.7" x2="1909.72" y2="1130.7" stroke="#1414f0" stroke-width="2.8" stroke-dasharray="2 0.8"/>
<line x1="1912.78" y1="1130.7" x2="1918.78" y2="1130.7" stroke="#1414f0" stroke-width="2.8" stroke-dasharray="2 0.8"/>
<line x1="1938.64" y1="1130.7" x2="1944.64" y2="1130.7" stroke="#1414f0" stroke-width="2.8" stroke-dasharray="2 0.8"/>
<g font-family="'Liberation Sans', Arial, sans-serif" font-size="8.3" fill="#2a2a2a"><text x="1090.2" y="1133.99" text-anchor="end">0</text><text x="1090.2" y="1112.82" text-anchor="end">10</text><text x="1090.2" y="1091.65" text-anchor="end">20</text><text x="1090.2" y="1070.48" text-anchor="end">30</text><text x="1090.2" y="1049.31" text-anchor="end">40</text><text x="1090.2" y="1028.14" text-anchor="end">50</text><text x="1090.2" y="1006.97" text-anchor="end">60</text><text x="1090.2" y="985.8" text-anchor="end">70</text><text x="1090.2" y="964.63" text-anchor="end">80</text><text x="1090.2" y="943.46" text-anchor="end">90</text><text x="1090.2" y="922.29" text-anchor="end">100</text><text x="1101.7" y="1145" text-anchor="middle">0</text><text x="1143.6" y="1145" text-anchor="middle">1</text><text x="1185.5" y="1145" text-anchor="middle">2</text><text x="1227.4" y="1145" text-anchor="middle">3</text><text x="1269.3" y="1145" text-anchor="middle">4</text><text x="1311.2" y="1145" text-anchor="middle">5</text><text x="1353.1" y="1145" text-anchor="middle">6</text><text x="1395" y="1145" text-anchor="middle">7</text><text x="1436.9" y="1145" text-anchor="middle">8</text><text x="1478.8" y="1145" text-anchor="middle">9</text><text x="1520.7" y="1145" text-anchor="middle">10</text><text x="1562.6" y="1145" text-anchor="middle">11</text><text x="1604.5" y="1145" text-anchor="middle">12</text><text x="1646.4" y="1145" text-anchor="middle">13</text><text x="1688.3" y="1145" text-anchor="middle">14</text><text x="1730.2" y="1145" text-anchor="middle">15</text><text x="1772.1" y="1145" text-anchor="middle">16</text><text x="1814" y="1145" text-anchor="middle">17</text><text x="1855.9" y="1145" text-anchor="middle">18</text><text x="1897.8" y="1145" text-anchor="middle">19</text><text x="1939.7" y="1145" text-anchor="middle">20</text></g>
<text x="1532.4" y="1156" text-anchor="middle" font-family="'Liberation Sans', Arial, sans-serif" font-size="8.8" fill="#2a2a2a">Time (min)</text>
<line x1="1249.49" y1="987.26" x2="1270.04" y2="988.8" stroke="#6cc46c" stroke-width="1.1"/>
<line x1="1275.56" y1="1010.45" x2="1297.65" y2="1009.35" stroke="#6cc46c" stroke-width="1.1"/>
<line x1="1109.44" y1="1126.43" x2="1122.03" y2="1125.32" stroke="#6cc46c" stroke-width="1.1"/>
<line x1="1615.26" y1="1109.48" x2="1630" y2="1110.78" stroke="#6cc46c" stroke-width="1.1"/>
<line x1="1801.98" y1="1115.95" x2="1816.98" y2="1114.14" stroke="#6cc46c" stroke-width="1.1"/>
<line x1="1592.5" y1="1121.9" x2="1609.31" y2="1122.93" stroke="#6cc46c" stroke-width="1.1"/>
<line x1="1543.36" y1="1125.78" x2="1547.76" y2="1127.07" stroke="#6cc46c" stroke-width="1.1"/>
<g font-family="'Liberation Sans', Arial, sans-serif" font-size="8.8" fill="#161616" word-spacing="1.06"><text x="1277.73" y="916.57">RT: 4.19</text><text x="1254.53" y="986.82">RT: 4.11</text><text x="1302.47" y="1008.69">RT: 4.23</text><text x="1125.75" y="1124.22">RT: 0.28</text><text x="1173.9" y="1124.22">RT: 1.70</text><text x="1229.79" y="1124.88">RT: 3.05</text><text x="1323.46" y="1122.67">RT: 5.28</text><text x="1739.99" y="1095.26">RT: 15.23</text><text x="1619.47" y="1108.97">RT: 12.73</text><text x="1668.09" y="1106.9">RT: 13.53</text><text x="1771.02" y="1107.41">RT: 15.98</text><text x="1821.97" y="1114.14">RT: 16.82</text><text x="1596.19" y="1121.9">RT: 12.23</text><text x="1547.05" y="1125">RT: 10.76</text><text x="1499.47" y="1125.52">RT: 9.50</text><text x="1881.97" y="1121.12">RT: 18.61</text></g>
<path d="M1338.07 918.33 L1291.27 938.19 L1288.77 932.3 L1275.1 948.2 L1296.04 949.42 L1293.54 943.53 L1340.33 923.67 Z" fill="#0070c0"/>
<path d="M1097.7 1403.3 L1264.27 1403.3 L1265.62 1366.49 L1266.97 1403.3 L1266.92 1403.3 L1268.27 1163.25 L1269.62 1403.3 L1270.23 1403.3 L1271.58 1200.37 L1272.93 1403.3 L1287.02 1403.3 L1288.37 1394.1 L1289.72 1403.3 L1306.24 1403.3 L1307.59 1398.52 L1308.94 1403.3 L1583.39 1403.3 L1584.74 1401.38 L1586.09 1403.3 L1592.44 1403.3 L1593.79 1399.57 L1595.14 1403.3 L1595.03 1403.3 L1596.38 1399.05 L1597.73 1403.3 L1597.62 1403.3 L1598.97 1400.09 L1600.32 1403.3 L1604.6 1403.3 L1605.95 1396.98 L1607.3 1403.3 L1610.03 1403.3 L1611.38 1395.69 L1612.73 1403.3 L1617.53 1403.3 L1618.88 1393.1 L1620.23 1403.3 L1650.12 1403.3 L1651.47 1395.69 L1652.82 1403.3 L1653.99 1403.3 L1655.34 1391.81 L1656.69 1403.3 L1656.58 1403.3 L1657.93 1390 L1659.28 1403.3 L1665.63 1403.3 L1666.98 1398.28 L1668.33 1403.3 L1701.58 1403.3 L1702.93 1393.62 L1704.28 1403.3 L1704.94 1403.3 L1706.29 1396.98 L1707.64 1403.3 L1708.31 1403.3 L1709.66 1392.59 L1711.01 1403.3 L1713.99 1403.3 L1715.34 1398.79 L1716.69 1403.3 L1716.58 1403.3 L1717.93 1395.17 L1719.28 1403.3 L1719.17 1403.3 L1720.52 1396.98 L1721.87 1403.3 L1733.39 1403.3 L1734.74 1395.69 L1736.09 1403.3 L1738.56 1403.3 L1739.91 1397.76 L1741.26 1403.3 L1750.72 1403.3 L1752.07 1399.05 L1753.42 1403.3 L1755.37 1403.3 L1756.72 1395.69 L1758.07 1403.3 L1785.12 1403.3 L1786.47 1398.28 L1787.82 1403.3 L1787.7 1403.3 L1789.05 1397.76 L1790.4 1403.3 L1808.39 1403.3 L1809.74 1399.57 L1811.09 1403.3 L1810.98 1403.3 L1812.33 1399.05 L1813.68 1403.3 L1815.37 1403.3 L1816.72 1400.86 L1818.07 1403.3 L1823.91 1403.3 L1825.26 1401.38 L1826.61 1403.3 L1922 1403.3" fill="#dfa4a4" fill-opacity="0.55" stroke="#861010" stroke-width="0.9" stroke-linejoin="miter" stroke-miterlimit="30"/>
<line x1="1097.7" y1="1163.1" x2="1097.7" y2="1409.8" stroke="#3a3a3a" stroke-width="1.3"/>
<path d="M1092.2 1403.3H1097.7M1093 1398.5H1097.7M1093 1393.69H1097.7M1093 1388.89H1097.7M1093 1384.08H1097.7M1092.2 1379.28H1097.7M1093 1374.48H1097.7M1093 1369.67H1097.7M1093 1364.87H1097.7M1093 1360.06H1097.7M1092.2 1355.26H1097.7M1093 1350.46H1097.7M1093 1345.65H1097.7M1093 1340.85H1097.7M1093 1336.04H1097.7M1092.2 1331.24H1097.7M1093 1326.44H1097.7M1093 1321.63H1097.7M1093 1316.83H1097.7M1093 1312.02H1097.7M1092.2 1307.22H1097.7M1093 1302.42H1097.7M1093 1297.61H1097.7M1093 1292.81H1097.7M1093 1288H1097.7M1092.2 1283.2H1097.7M1093 1278.4H1097.7M1093 1273.59H1097.7M1093 1268.79H1097.7M1093 1263.98H1097.7M1092.2 1259.18H1097.7M1093 1254.38H1097.7M1093 1249.57H1097.7M1093 1244.77H1097.7M1093 1239.96H1097.7M1092.2 1235.16H1097.7M1093 1230.36H1097.7M1093 1225.55H1097.7M1093 1220.75H1097.7M1093 1215.94H1097.7M1092.2 1211.14H1097.7M1093 1206.34H1097.7M1093 1201.53H1097.7M1093 1196.73H1097.7M1093 1191.92H1097.7M1092.2 1187.12H1097.7M1093 1182.32H1097.7M1093 1177.51H1097.7M1093 1172.71H1097.7M1093 1167.9H1097.7M1092.2 1163.1H1097.7" stroke="#3a3a3a" stroke-width="1.35"/>
<path d="M1105.94 1403.3V1408M1114.18 1403.3V1408M1122.42 1403.3V1408M1130.66 1403.3V1408M1138.9 1403.3V1408.8M1147.14 1403.3V1408M1155.38 1403.3V1408M1163.62 1403.3V1408M1171.86 1403.3V1408M1180.1 1403.3V1408.8M1188.34 1403.3V1408M1196.58 1403.3V1408M1204.82 1403.3V1408M1213.06 1403.3V1408M1221.3 1403.3V1408.8M1229.54 1403.3V1408M1237.78 1403.3V1408M1246.02 1403.3V1408M1254.26 1403.3V1408M1262.5 1403.3V1408.8M1270.74 1403.3V1408M1278.98 1403.3V1408M1287.22 1403.3V1408M1295.46 1403.3V1408M1303.7 1403.3V1408.8M1311.94 1403.3V1408M1320.18 1403.3V1408M1328.42 1403.3V1408M1336.66 1403.3V1408M1344.9 1403.3V1408.8M1353.14 1403.3V1408M1361.38 1403.3V1408M1369.62 1403.3V1408M1377.86 1403.3V1408M1386.1 1403.3V1408.8M1394.34 1403.3V1408M1402.58 1403.3V1408M1410.82 1403.3V1408M1419.06 1403.3V1408M1427.3 1403.3V1408.8M1435.54 1403.3V1408M1443.78 1403.3V1408M1452.02 1403.3V1408M1460.26 1403.3V1408M1468.5 1403.3V1408.8M1476.74 1403.3V1408M1484.98 1403.3V1408M1493.22 1403.3V1408M1501.46 1403.3V1408M1509.7 1403.3V1408.8M1517.94 1403.3V1408M1526.18 1403.3V1408M1534.42 1403.3V1408M1542.66 1403.3V1408M1550.9 1403.3V1408.8M1559.14 1403.3V1408M1567.38 1403.3V1408M1575.62 1403.3V1408M1583.86 1403.3V1408M1592.1 1403.3V1408.8M1600.34 1403.3V1408M1608.58 1403.3V1408M1616.82 1403.3V1408M1625.06 1403.3V1408M1633.3 1403.3V1408.8M1641.54 1403.3V1408M1649.78 1403.3V1408M1658.02 1403.3V1408M1666.26 1403.3V1408M1674.5 1403.3V1408.8M1682.74 1403.3V1408M1690.98 1403.3V1408M1699.22 1403.3V1408M1707.46 1403.3V1408M1715.7 1403.3V1408.8M1723.94 1403.3V1408M1732.18 1403.3V1408M1740.42 1403.3V1408M1748.66 1403.3V1408M1756.9 1403.3V1408.8M1765.14 1403.3V1408M1773.38 1403.3V1408M1781.62 1403.3V1408M1789.86 1403.3V1408M1798.1 1403.3V1408.8M1806.34 1403.3V1408M1814.58 1403.3V1408M1822.82 1403.3V1408M1831.06 1403.3V1408M1839.3 1403.3V1408.8M1847.54 1403.3V1408M1855.78 1403.3V1408M1864.02 1403.3V1408M1872.26 1403.3V1408M1880.5 1403.3V1408.8M1888.74 1403.3V1408M1896.98 1403.3V1408M1905.22 1403.3V1408M1913.46 1403.3V1408M1921.7 1403.3V1408.8" stroke="#3a3a3a" stroke-width="1.35"/>
<line x1="1097.7" y1="1403.3" x2="1922" y2="1403.3" stroke="#6e1414" stroke-width="1.7"/>
<line x1="1098" y1="1403" x2="1110" y2="1403" stroke="#1414f0" stroke-width="2.8" stroke-dasharray="2 0.8"/>
<line x1="1114" y1="1403" x2="1120" y2="1403" stroke="#1414f0" stroke-width="2.8" stroke-dasharray="2 0.8"/>
<line x1="1124" y1="1403" x2="1126" y2="1403" stroke="#1414f0" stroke-width="2.8" stroke-dasharray="2 0.8"/>
<line x1="1150" y1="1403" x2="1156" y2="1403" stroke="#1414f0" stroke-width="2.8" stroke-dasharray="2 0.8"/>
<line x1="1160" y1="1403" x2="1166" y2="1403" stroke="#1414f0" stroke-width="2.8" stroke-dasharray="2 0.8"/>
<line x1="1170" y1="1403" x2="1175" y2="1403" stroke="#1414f0" stroke-width="2.8" stroke-dasharray="2 0.8"/>
<line x1="1181" y1="1403" x2="1196" y2="1403" stroke="#1414f0" stroke-width="2.8" stroke-dasharray="2 0.8"/>
<line x1="1198" y1="1403" x2="1202" y2="1403" stroke="#1414f0" stroke-width="2.8" stroke-dasharray="2 0.8"/>
<line x1="1206" y1="1403" x2="1220" y2="1403" stroke="#1414f0" stroke-width="2.8" stroke-dasharray="2 0.8"/>
<line x1="1224" y1="1403" x2="1232" y2="1403" stroke="#1414f0" stroke-width="2.8" stroke-dasharray="2 0.8"/>
<line x1="1242" y1="1403" x2="1248" y2="1403" stroke="#1414f0" stroke-width="2.8" stroke-dasharray="2 0.8"/>
<line x1="1300" y1="1403" x2="1303" y2="1403" stroke="#1414f0" stroke-width="2.8" stroke-dasharray="2 0.8"/>
<line x1="1313" y1="1403" x2="1315" y2="1403" stroke="#1414f0" stroke-width="2.8" stroke-dasharray="2 0.8"/>
<line x1="1327" y1="1403" x2="1330" y2="1403" stroke="#1414f0" stroke-width="2.8" stroke-dasharray="2 0.8"/>
<line x1="1376" y1="1403" x2="1378" y2="1403" stroke="#1414f0" stroke-width="2.8" stroke-dasharray="2 0.8"/>
<line x1="1398" y1="1403" x2="1399" y2="1403" stroke="#1414f0" stroke-width="2.8" stroke-dasharray="2 0.8"/>
<line x1="1409" y1="1403" x2="1410" y2="1403" stroke="#1414f0" stroke-width="2.8" stroke-dasharray="2 0.8"/>
<line x1="1503" y1="1403" x2="1510" y2="1403" stroke="#1414f0" stroke-width="2.8" stroke-dasharray="2 0.8"/>
<line x1="1560" y1="1403" x2="1565" y2="1403" stroke="#1414f0" stroke-width="2.8" stroke-dasharray="2 0.8"/>
<line x1="1590" y1="1403" x2="1594" y2="1403" stroke="#1414f0" stroke-width="2.8" stroke-dasharray="2 0.8"/>
<line x1="1612" y1="1403" x2="1618" y2="1403" stroke="#1414f0" stroke-width="2.8" stroke-dasharray="2 0.8"/>
<line x1="1627" y1="1403" x2="1633" y2="1403" stroke="#1414f0" stroke-width="2.8" stroke-dasharray="2 0.8"/>
<line x1="1656" y1="1403" x2="1662" y2="1403" stroke="#1414f0" stroke-width="2.8" stroke-dasharray="2 0.8"/>
<line x1="1675" y1="1403" x2="1680" y2="1403" stroke="#1414f0" stroke-width="2.8" stroke-dasharray="2 0.8"/>
<line x1="1690" y1="1403" x2="1697" y2="1403" stroke="#1414f0" stroke-width="2.8" stroke-dasharray="2 0.8"/>
<line x1="1725" y1="1403" x2="1732" y2="1403" stroke="#1414f0" stroke-width="2.8" stroke-dasharray="2 0.8"/>
<line x1="1780" y1="1403" x2="1788" y2="1403" stroke="#1414f0" stroke-width="2.8" stroke-dasharray="2 0.8"/>
<line x1="1800" y1="1403" x2="1805" y2="1403" stroke="#1414f0" stroke-width="2.8" stroke-dasharray="2 0.8"/>
<line x1="1840" y1="1403" x2="1845" y2="1403" stroke="#1414f0" stroke-width="2.8" stroke-dasharray="2 0.8"/>
<line x1="1870" y1="1403" x2="1875" y2="1403" stroke="#1414f0" stroke-width="2.8" stroke-dasharray="2 0.8"/>
<line x1="1890" y1="1403" x2="1896" y2="1403" stroke="#1414f0" stroke-width="2.8" stroke-dasharray="2 0.8"/>
<line x1="1908" y1="1403" x2="1912" y2="1403" stroke="#1414f0" stroke-width="2.8" stroke-dasharray="2 0.8"/>
<line x1="1263.12" y1="1403" x2="1274.08" y2="1403" stroke="#1414f0" stroke-width="2.8" stroke-dasharray="2 0.8"/>
<line x1="1285.87" y1="1403" x2="1290.87" y2="1403" stroke="#1414f0" stroke-width="2.8" stroke-dasharray="2 0.8"/>
<line x1="1305.09" y1="1403" x2="1310.09" y2="1403" stroke="#1414f0" stroke-width="2.8" stroke-dasharray="2 0.8"/>
<line x1="1582.24" y1="1403" x2="1587.24" y2="1403" stroke="#1414f0" stroke-width="2.8" stroke-dasharray="2 0.8"/>
<line x1="1591.29" y1="1403" x2="1601.47" y2="1403" stroke="#1414f0" stroke-width="2.8" stroke-dasharray="2 0.8"/>
<line x1="1603.45" y1="1403" x2="1613.88" y2="1403" stroke="#1414f0" stroke-width="2.8" stroke-dasharray="2 0.8"/>
<line x1="1616.38" y1="1403" x2="1621.38" y2="1403" stroke="#1414f0" stroke-width="2.8" stroke-dasharray="2 0.8"/>
<line x1="1648.97" y1="1403" x2="1660.43" y2="1403" stroke="#1414f0" stroke-width="2.8" stroke-dasharray="2 0.8"/>
<line x1="1664.48" y1="1403" x2="1669.48" y2="1403" stroke="#1414f0" stroke-width="2.8" stroke-dasharray="2 0.8"/>
<line x1="1700.43" y1="1403" x2="1723.02" y2="1403" stroke="#1414f0" stroke-width="2.8" stroke-dasharray="2 0.8"/>
<line x1="1732.24" y1="1403" x2="1742.41" y2="1403" stroke="#1414f0" stroke-width="2.8" stroke-dasharray="2 0.8"/>
<line x1="1749.57" y1="1403" x2="1759.22" y2="1403" stroke="#1414f0" stroke-width="2.8" stroke-dasharray="2 0.8"/>
<line x1="1783.97" y1="1403" x2="1791.55" y2="1403" stroke="#1414f0" stroke-width="2.8" stroke-dasharray="2 0.8"/>
<line x1="1807.24" y1="1403" x2="1819.22" y2="1403" stroke="#1414f0" stroke-width="2.8" stroke-dasharray="2 0.8"/>
<line x1="1822.76" y1="1403" x2="1827.76" y2="1403" stroke="#1414f0" stroke-width="2.8" stroke-dasharray="2 0.8"/>
<g font-family="'Liberation Sans', Arial, sans-serif" font-size="11.3" fill="#2a2a2a"><text x="1091.3" y="1407.37" text-anchor="end">0</text><text x="1091.3" y="1383.35" text-anchor="end">10</text><text x="1091.3" y="1359.33" text-anchor="end">20</text><text x="1091.3" y="1335.31" text-anchor="end">30</text><text x="1091.3" y="1311.29" text-anchor="end">40</text><text x="1091.3" y="1287.27" text-anchor="end">50</text><text x="1091.3" y="1263.25" text-anchor="end">60</text><text x="1091.3" y="1239.23" text-anchor="end">70</text><text x="1091.3" y="1215.21" text-anchor="end">80</text><text x="1091.3" y="1191.19" text-anchor="end">90</text><text x="1091.3" y="1167.17" text-anchor="end">100</text><text x="1101.2" y="1420.3" text-anchor="middle">0</text><text x="1142.4" y="1420.3" text-anchor="middle">1</text><text x="1183.6" y="1420.3" text-anchor="middle">2</text><text x="1224.8" y="1420.3" text-anchor="middle">3</text><text x="1266" y="1420.3" text-anchor="middle">4</text><text x="1307.2" y="1420.3" text-anchor="middle">5</text><text x="1348.4" y="1420.3" text-anchor="middle">6</text><text x="1389.6" y="1420.3" text-anchor="middle">7</text><text x="1430.8" y="1420.3" text-anchor="middle">8</text><text x="1472" y="1420.3" text-anchor="middle">9</text><text x="1513.2" y="1420.3" text-anchor="middle">10</text><text x="1554.4" y="1420.3" text-anchor="middle">11</text><text x="1595.6" y="1420.3" text-anchor="middle">12</text><text x="1636.8" y="1420.3" text-anchor="middle">13</text><text x="1678" y="1420.3" text-anchor="middle">14</text><text x="1719.2" y="1420.3" text-anchor="middle">15</text><text x="1760.4" y="1420.3" text-anchor="middle">16</text><text x="1801.6" y="1420.3" text-anchor="middle">17</text><text x="1842.8" y="1420.3" text-anchor="middle">18</text><text x="1884" y="1420.3" text-anchor="middle">19</text><text x="1925.2" y="1420.3" text-anchor="middle">20</text></g>
<text x="1513.4" y="1434.1" text-anchor="middle" font-family="'Liberation Sans', Arial, sans-serif" font-size="11.45" fill="#2a2a2a">Time (min)</text>
<line x1="1271.58" y1="1199.7" x2="1290.58" y2="1198.16" stroke="#6cc46c" stroke-width="1.1"/>
<line x1="1244.19" y1="1364.28" x2="1264.96" y2="1366.05" stroke="#6cc46c" stroke-width="1.1"/>
<line x1="1288.37" y1="1393" x2="1295" y2="1391.89" stroke="#6cc46c" stroke-width="1.1"/>
<line x1="1107.23" y1="1399.62" x2="1121.37" y2="1398.52" stroke="#6cc46c" stroke-width="1.1"/>
<line x1="1441.24" y1="1401.17" x2="1448.97" y2="1400.06" stroke="#6cc46c" stroke-width="1.1"/>
<line x1="1561.47" y1="1397.76" x2="1584.74" y2="1399.05" stroke="#6cc46c" stroke-width="1.1"/>
<line x1="1608.79" y1="1390.52" x2="1618.36" y2="1391.81" stroke="#6cc46c" stroke-width="1.1"/>
<line x1="1734.74" y1="1395.17" x2="1758.79" y2="1393.1" stroke="#6cc46c" stroke-width="1.1"/>
<line x1="1789.05" y1="1397.5" x2="1808.45" y2="1395.69" stroke="#6cc46c" stroke-width="1.1"/>
<line x1="1830.43" y1="1398.79" x2="1856.29" y2="1397.76" stroke="#6cc46c" stroke-width="1.1"/>
<g font-family="'Liberation Sans', Arial, sans-serif" font-size="11.4" fill="#161616" word-spacing="1.37"><text x="1254.33" y="1160.6">RT: 4.14</text><text x="1277.3" y="1198.6">RT: 4.22</text><text x="1229.8" y="1364.72">RT: 4.09</text><text x="1281.72" y="1392.55">RT: 4.63</text><text x="1108.53" y="1398.52">RT: 0.21</text><text x="1151.38" y="1398.52">RT: 1.64</text><text x="1212.79" y="1398.52">RT: 3.12</text><text x="1343.79" y="1398.52">RT: 6.32</text><text x="1392.83" y="1398.52">RT: 7.48</text><text x="1435.91" y="1399.62">RT: 8.35</text><text x="1480.38" y="1399.57">RT: 9.63</text><text x="1545.04" y="1397.76">RT: 11.84</text><text x="1592.88" y="1391.03">RT: 12.66</text><text x="1642.54" y="1387.93">RT: 13.61</text><text x="1693.74" y="1390.52">RT: 14.86</text><text x="1744.17" y="1393.62">RT: 15.47</text><text x="1793.83" y="1396.21">RT: 16.79</text><text x="1842.45" y="1398.28">RT: 17.77</text></g>
<path d="M1342.73 1137.35 L1296.02 1158.04 L1293.42 1152.18 L1280 1168.3 L1300.96 1169.19 L1298.36 1163.34 L1345.07 1142.65 Z" fill="#0070c0"/>
<g font-family="'Liberation Sans', Arial, sans-serif" font-weight="bold" fill="#000">
<text x="191.5" y="1553.3" font-size="45">B</text>
<text x="665.5" y="1565.4" font-size="41.3" text-anchor="middle">Plasma</text>
<text x="665.5" y="2122" font-size="41.5" text-anchor="middle">Time after administration</text>
<text x="1082" y="1553.3" font-size="45">C</text>
<text x="1517.8" y="1565.4" font-size="42" text-anchor="middle">Cerebral cortex</text>
<text x="1517.5" y="2122" font-size="41.5" text-anchor="middle">Time after administration</text>
<text x="1777" y="1663" font-size="77" text-anchor="middle">**</text>
<text transform="translate(199.6 1784) rotate(-90)" font-size="42" text-anchor="middle">Trigonelline (<tspan font-family="'Liberation Serif', serif" font-weight="normal">&#956;</tspan>g)/</text>
<text transform="translate(250 1784) rotate(-90)" font-size="42" text-anchor="middle">plasma (mL)</text>
<text transform="translate(1086 1784) rotate(-90)" font-size="42" text-anchor="middle">Trigonelline (<tspan font-family="'Liberation Serif', serif" font-weight="normal">&#956;</tspan>g)/</text>
<text transform="translate(1136.4 1784) rotate(-90)" font-size="42" text-anchor="middle">cortex (g)</text>
</g>
<line x1="340" y1="1567.1" x2="340" y2="2005" stroke="#000" stroke-width="4"/>
<line x1="327.5" y1="2003" x2="991.5" y2="2003" stroke="#000" stroke-width="4"/>
<path d="M327.5 2003H340M327.5 1916.12H340M327.5 1829.24H340M327.5 1742.36H340M327.5 1655.48H340M327.5 1568.6H340M333 1959.56H340M333 1872.68H340M333 1785.8H340M333 1698.92H340M333 1612.04H340M404.6 2003V2015M534.6 2003V2015M664.6 2003V2015M794.6 2003V2015M924.6 2003V2015" stroke="#000" stroke-width="4"/>
<path d="M534.6 1818.38V1668.51 M513.1 1668.51H556.1" stroke="#000" stroke-width="4"/>
<rect x="491.5" y="1821.68" width="86.2" height="181.32" fill="#0000bf" stroke="#000" stroke-width="6.6"/>
<path d="M664.6 1913.77V1900.22 M643.1 1900.22H686.1" stroke="#000" stroke-width="4"/>
<rect x="621.5" y="1917.07" width="86.2" height="85.93" fill="#0000bf" stroke="#000" stroke-width="6.6"/>
<path d="M794.6 1991.01V1989.53 M773.1 1989.53H816.1" stroke="#000" stroke-width="4"/>
<rect x="751.5" y="1994.31" width="86.2" height="8.69" fill="#0000bf" stroke="#000" stroke-width="6.6"/>
<rect x="881.5" y="2001.78" width="86.2" height="1.22" fill="#0000bf" stroke="#000" stroke-width="6.6"/>
<g font-family="'Liberation Sans', Arial, sans-serif" font-weight="bold" font-size="35" fill="#000"><text x="321.5" y="2017" text-anchor="end" font-size="36.5">0</text><text x="321.5" y="1930.12" text-anchor="end" font-size="36.5">100</text><text x="321.5" y="1843.24" text-anchor="end" font-size="36.5">200</text><text x="321.5" y="1756.36" text-anchor="end" font-size="36.5">300</text><text x="321.5" y="1669.48" text-anchor="end" font-size="36.5">400</text><text x="321.5" y="1582.6" text-anchor="end" font-size="36.5">500</text><text x="404.6" y="2052.3" text-anchor="middle">0</text><text x="534.6" y="2052.3" text-anchor="middle">5 min</text><text x="664.6" y="2052.3" text-anchor="middle">30 min</text><text x="794.6" y="2052.3" text-anchor="middle">6 h</text><text x="924.6" y="2052.3" text-anchor="middle">24 h</text></g>
<line x1="1192.5" y1="1567.3" x2="1192.5" y2="2005" stroke="#000" stroke-width="4"/>
<line x1="1180" y1="2003" x2="1844" y2="2003" stroke="#000" stroke-width="4"/>
<path d="M1180 2003H1192.5M1180 1894.45H1192.5M1180 1785.9H1192.5M1180 1677.35H1192.5M1180 1568.8H1192.5M1185.5 1948.72H1192.5M1185.5 1840.17H1192.5M1185.5 1731.62H1192.5M1185.5 1623.08H1192.5M1257.1 2003V2015M1387.1 2003V2015M1517.1 2003V2015M1647.1 2003V2015M1777.1 2003V2015" stroke="#000" stroke-width="4"/>
<path d="M1387.1 1991.06V1987.37 M1365.6 1987.37H1408.6" stroke="#000" stroke-width="4"/>
<rect x="1344" y="1994.36" width="86.2" height="8.64" fill="#0000bf" stroke="#000" stroke-width="6.6"/>
<path d="M1517.1 1959.91V1947.42 M1495.6 1947.42H1538.6" stroke="#000" stroke-width="4"/>
<rect x="1474" y="1963.21" width="86.2" height="39.79" fill="#0000bf" stroke="#000" stroke-width="6.6"/>
<path d="M1647.1 1894.99V1882.18 M1625.6 1882.18H1668.6" stroke="#000" stroke-width="4"/>
<rect x="1604" y="1898.29" width="86.2" height="104.71" fill="#0000bf" stroke="#000" stroke-width="6.6"/>
<path d="M1777.1 1738.14V1668.67 M1755.6 1668.67H1798.6" stroke="#000" stroke-width="4"/>
<rect x="1734" y="1741.44" width="86.2" height="261.56" fill="#0000bf" stroke="#000" stroke-width="6.6"/>
<g font-family="'Liberation Sans', Arial, sans-serif" font-weight="bold" font-size="35" fill="#000"><text x="1174" y="2017" text-anchor="end" font-size="36.5">0</text><text x="1174" y="1908.45" text-anchor="end" font-size="36.5">1</text><text x="1174" y="1799.9" text-anchor="end" font-size="36.5">2</text><text x="1174" y="1691.35" text-anchor="end" font-size="36.5">3</text><text x="1174" y="1582.8" text-anchor="end" font-size="36.5">4</text><text x="1257.1" y="2052.3" text-anchor="middle">0</text><text x="1387.1" y="2052.3" text-anchor="middle">5 min</text><text x="1517.1" y="2052.3" text-anchor="middle">30 min</text><text x="1647.1" y="2052.3" text-anchor="middle">6 h</text><text x="1777.1" y="2052.3" text-anchor="middle">24 h</text></g>
</svg></body></html>
